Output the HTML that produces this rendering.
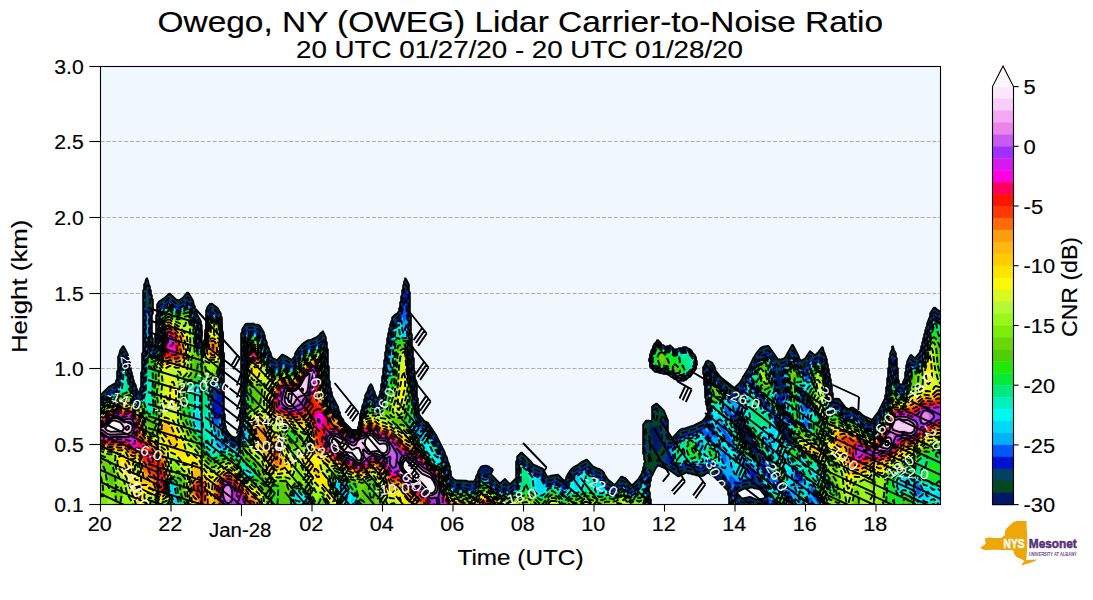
<!DOCTYPE html>
<html><head><meta charset="utf-8"><title>Owego Lidar CNR</title>
<style>html,body{margin:0;padding:0;background:#fff;overflow:hidden}svg{display:block}text{font-family:"Liberation Sans",sans-serif;fill:#000}.t text{stroke:#000;stroke-width:0.18px}</style></head><body>
<svg width="1093" height="600" viewBox="0 0 1093 600">
<rect width="1093" height="600" fill="#fff"/>
<rect x="100.5" y="66.5" width="840.0" height="438.0" fill="#f0f7ff"/>
<defs><clipPath id="axclip"><rect x="100.5" y="66.5" width="840.0" height="438.0"/></clipPath></defs>
<g clip-path="url(#axclip)">
<line x1="100.5" x2="940.5" y1="141.5" y2="141.5" stroke="#b0b0b0" stroke-width="1.1" stroke-dasharray="4.1 1.8"/>
<line x1="100.5" x2="940.5" y1="217.5" y2="217.5" stroke="#b0b0b0" stroke-width="1.1" stroke-dasharray="4.1 1.8"/>
<line x1="100.5" x2="940.5" y1="293.5" y2="293.5" stroke="#b0b0b0" stroke-width="1.1" stroke-dasharray="4.1 1.8"/>
<line x1="100.5" x2="940.5" y1="368.5" y2="368.5" stroke="#b0b0b0" stroke-width="1.1" stroke-dasharray="4.1 1.8"/>
<line x1="100.5" x2="940.5" y1="444.5" y2="444.5" stroke="#b0b0b0" stroke-width="1.1" stroke-dasharray="4.1 1.8"/>
<g id="field">
<defs>
<path id="c0" d="M146 279 147 278.1 148 280.5 149 285 150 286.5 150 289 151 290.5 151 294 152 295.5 152 298 153 299.5 153 313.5 152 315 152 337 153 338.5 153 345 154 346 155 345 155 334.5 156 333 156 315.5 157 314 157 304.5 159 301.4 164 298.3 169 293.6 170 293.6 176 299.3 179 300.3 183 297.4 187 292.6 188 292.6 189 293.6 193 300.5 194 305 195 306.5 195 309 197 312.5 197 314 201 321.5 201.1 330 202 331.2 202 333 202 335.8 201.1 337 201.1 341 202 342 203 342 204.9 339 205 330 205.9 329 206 310.5 207 309 207 307.6 210 303.8 212 303.6 217.6 308 221 313.6 221 316 222 317.5 222.2 331 223 332 223.1 333 223.2 352 224 353 224.1 354 224 413 225 414.5 225 425 226 426.5 226 429 229 433.4 232 436.3 235 437.4 236 437.3 237.4 436 240 432 240 410.5 241 409 241 333.5 242 332 242 329.5 243 327.6 245.5 324 247 323.5 254 323.6 255 324.3 258 324.6 260 325.8 264 332.5 264 334 265 335.5 265 338 267 342.5 267 345 269 348.5 269 350 271 353.5 271 355 272 357 273 358.2 277 360 282 354.6 283 354.6 287 356.6 291 359.3 292 359.3 294 357 295 355 295 353.5 298 348.6 303 343.4 307 340.6 312 339.3 316 337.3 319 335.2 320.5 333 323 331 326 337.5 326 341 327 342.5 327 348 328 349.5 328 365 329 366.5 329 380 330 381.5 330 387 331 388.5 331 391 332 392.5 332 395 338 406.5 339 411 340 412.3 340.1 415 341 416 341.1 417 343 419 344.2 422 352 429.9 357 429.9 357.8 429 357.9 427 358.8 426 358.9 422 359.8 421 360 414 360.9 413 361 410.4 362 409 362 406.5 364 402 364 399.5 365 398 365 395.5 368 390 368 388.5 370 384.6 371 384 372 385.5 373 387.5 373 389 375 392.5 375 394 377 397.3 378 398 379 397 379 395.5 380 394 380 391.5 381 390 381 384.5 382 383 382 376.5 383 375 383 368.5 384 367 384 360.5 385 359 385 352.5 386 351 386 345.5 387 344 387 338.5 388 337 388 333.5 389 332 389 328.5 390 327 390 324.5 391 323 391 321.5 392 320 392 317.6 394.5 315 397 313.4 399 311 399 308.5 400 307 400 302.5 401 301 401 296.5 402 295 402 290.5 403 289 403 285.5 404 284 404 281.5 405 280 405 278.1 406 278.7 409 284.5 409 291 410 292.5 410 315 411 316.5 411 333 412 334.5 412 346 413 347.5 413 357 414 358.5 414 370 415 371.5 415 378 417 382.5 417 397 418 398.5 418 407 419 408.5 419 414 421 418 424 421.3 426 421.6 428 422.8 436 434.6 445 452.5 445 454 447 457.5 448 462 449 463.5 449 465 450 466.5 450 470 451 471.5 451 476 454 479.3 457 480.4 466 480.5 469 481.4 474 481.2 476 478 476 476.5 478 473 478 471.5 481 466.8 483 465.7 486 465.5 489 466.6 492.5 469 493 470.2 491 474 499 482.4 500 483.1 505 478.8 510 484.1 516 478 516 461.5 517 460 517 456.6 521 452.6 522 452.6 530.6 461 533 464.3 543 468.8 547 476.2 549 476.4 551 475.6 558 474.6 564 480.3 565 480.2 566 479 566 477.5 568 473.6 570.4 470 573 467.4 577 465.3 582 461.6 586 459.6 587 459.6 593 466.3 597 468.3 599 468.6 602 470.4 604 472.6 605 475 608 479.4 614 484.3 615 484.3 616 483.4 621 476.8 622 476.5 626 478.4 630.8 485 633 484.3 638 479.4 642 473 642 471.5 643 470 643 467.5 644 466 644 463.5 645 462 645 461 644 459.5 644 455 643 453.5 643 424.6 646 420.6 649 420.5 651 421 652 420 652 406.6 652.5 406 656 403.6 657 403.6 664 410.6 668 420.5 668 433 669 434.5 669 438 670 439.2 671 439.3 680 429.6 682 428.6 685 428.3 694 425.3 702 421.3 705 418 708 412 708 411 707 409.5 707 406 706 404.5 706 399 705 397.5 704.9 386 704 384.8 703.9 375 703 374 703 373 703 367 704 366 706 361.4 708 360.4 712 362.4 715 367.5 715 369 716 371 724 381.4 734 388.1 739 383.4 742 379 743 376.6 748 369 753 358.5 756 353.6 760.5 348 763 346.6 768 345.8 769 346.4 778 359.2 780 359.4 784 358.3 785 357.4 792 344.8 793 344.8 799 356.5 799 358 801 360.3 802 360.3 805 358.4 810 351 815 355.1 818 352.4 822.1 347 823 347.7 824 352 825 353.5 825 355 826 356.5 826 358 827 359.5 827 363 828 364.5 828 368 829 369.5 829 373 830 374.5 830 378 831 379.5 831 383 832 384.5 832 392 833 393.5 833 398 834 399 836 398.5 839 398.8 845 406.6 847 410 851 407.6 853 407.6 860 412.4 867 419.3 870 421.3 871 421.3 878 412 885 398 885 395.5 886 394 886 387.5 887 386 887 378.5 888 377 888 368.5 889 367 889 358.5 890 357 890 353.5 892 349 892 346.7 893 346.1 894 350 896 353.5 896 357 897 358.5 897 367 898 368.5 898 379 899 380.5 899 383 900 384.2 901 384.4 902 384.2 903 383 903 381.5 905 378 905 372.5 906 371 906 365.5 907 364 907 361.5 910 355.6 911 354.8 915 358.1 920 352 920 350.5 921 349 921 346.5 922 345 922 342.5 923 341 923 338.5 924 337 924 334.5 925 333 925 330.5 926 329 926 327.5 927 326 927 323.5 930 316 930 313.5 933 308.6 934 307.6 935 307.6 941 312.3 944 312.4 944.5 326 944.7 408 944.4 508 944 508.4 935 508.5 873 508.6 765 508.1 734 508.5 729 508 729 496 728 494.5 728 491 715 477.6 708 472.9 706 473.7 704 475.4 701 476.5 699 475.7 696 475.4 695 474.7 692 474.4 691 473.7 688 473.4 687 472.7 686 472.7 679 476.4 678 476.4 670 470.7 659 465.7 658 465.7 656 468 651 478 651 480.5 650 482 650 486.5 649 488 649 491 650 492.5 650 498 651 499.5 651 504 652 505.5 652 508 646 508.5 98 508.6 97.4 508 97.2 429 98 395.3 100 395.3 108.5 387 115 383.2 116 382 116 380.5 117 379 117 371.5 118 370 118 356.5 119 355 120 350.5 123 346 124 346.6 128 354.5 128 357 129 358.5 129 361 130 362.5 130 366 131 367.5 131 371 132 372.5 132 375 133 376.5 133 379 134 380.5 134 382 136 385.5 136 387 138 391 139 392 140 391 140 388.5 141 387 141 372.5 142 371 142 353.5 143 352 143 290.5 144 289 144 284.5 145 283ZM657 340 658 340 659 341 661 343 661.1 344 662 344.9 663 345 666 346.9 667 346 669 345.9 670 345 675 349.9 676 349 678 348.9 679 348 682 347.9 683 347 686 347 689 348.9 690 349 692 351 692.1 352 695 355 695.1 356 696 357 696.2 360 697 361 697 365 696.2 366 696 369 690 377 689 377.1 686 380 685 380 684 381 678 381 675 379.1 674 379 672 377.1 671 377 669 375.1 668 375 667 374.1 663 374 662 373.1 659 373 658 372.1 655 372 650 367 649.8 362 649 361 648.9 360 649 359 649.8 358 650 354 650.9 353 651 351 652.9 348 653 346 653.9 345 654 344 656.9 341ZM750 487.7 749 488.4 744 488.7 738 491.8 737 493 741 497.4 743 498.4 750 496.8 756 499.3 759 499.4 764 498.2 765 497 765 496 760 489.8 757 488.7 754 488.4 753 487.7Z"/>
<path id="c1" d="M145.9 283 147 282.1 148.2 285 152.4 302 152.4 311 151.5 315 151.5 337 152.4 341 152.6 346 153 347.3 154 348.2 155 347.3 155.5 345 155.6 337 156.5 333 156.5 319 157.5 314 157.8 306 159.8 303 164.6 300 169 295.8 170 295.8 176 301.4 179 302.4 183 299.6 187 294.9 188.1 295 192 301.5 195 311.4 200.2 323 200.6 330 201.4 333 200.6 337 200.6 341 201 342.8 202 343.8 203.3 343 205 339 205 331.5 206 329 206.6 313 208 308.7 211 305.7 212 305.8 217 309.7 220 314.7 221.6 320 222.1 331 223 332.9 223.1 352 224 354.2 223.5 412 224.4 417 224.6 426 226 431.3 228.4 435 232 438.4 235 439.5 236.5 439 239 436.4 240.5 432 240.5 414 241.5 408 241.5 337 242.8 331 246 325.9 253 325.5 258 326.8 259.5 328 263.2 334 267 347.4 271.8 359 273 360.4 277 362.2 282 356.8 283 356.8 287 358.8 289 360.4 292 361.4 294 359.4 296.2 354 299 349.7 303 345.7 307 342.8 312 341.4 316 339.4 319.4 337 322 333.8 323 333.9 325.2 339 327.4 352 327.5 365 328.4 369 328.5 380 329.6 388 332 397.4 337 407.5 340.4 416 343 419.5 344.1 422 352 430 357 430 357.9 429 358 427.1 358.8 426 359 422.1 359.9 421 360 415.9 362.1 411 365.8 397 370 387.7 371 387 372 388.5 375 396.4 377 399.6 378 400.2 379 399.3 380 396.4 382.4 384 382.6 379 383.4 376 383.6 371 384.4 368 384.6 363 385.4 360 385.6 355 386.4 352 387.6 341 389.8 330 393 318.8 397 315.6 399.1 313 403.6 288 404.9 283 406 282 408.2 286 408.6 292 409.4 295 409.5 315 410.4 319 410.5 333 411.4 337 411.5 346 412.4 350 412.6 358 413.4 361 413.5 370 414.4 374 414.6 379 416.4 385 416.5 397 417.4 401 417.5 407 418.6 415 420.8 420 423.5 423 426 423.8 428 425.5 435.8 437 444.2 454 449.2 468 450.9 478 453.4 481 457 482.5 466 482.5 469 483.5 474 483.4 476 480.4 479 472.6 480 471.6 482 473 485 474 487 473.3 490 471.2 491 476.3 499 484.6 500.4 485 505 481.1 507 483.6 510 486.3 516 480.3 516.5 478 516.6 464 517.6 459 518 457.8 520 455.7 521 454.8 522 454.8 529.3 462 532.4 466 542 470.5 547 478.4 550 478.4 557 476.6 558 476.8 563.5 482 565 482.4 566 481.3 568.8 475 573 469.7 582 463.8 586 461.8 587 461.8 593 468.4 597 470.4 599 470.8 602 472.7 608 481.6 614 486.4 616 485.6 622 478.7 625 479.8 626 480.7 630 486.6 631 487.3 633 486.4 638.5 481 642 475.3 645.5 464 645.5 460 643.5 450 643.6 427 646 422.9 649 422.7 651 423.9 652 422.6 653 407.9 656 405.8 657 405.8 663.7 413 667.4 423 667.5 433 668.9 440 670 441.4 671 441.4 676 436.6 680 431.8 682 430.8 685 430.4 694 427.4 702 423.4 705 420.4 708 414.4 708.4 410 705.6 395 705.4 386 704.3 382 704.2 375 703.1 371 703.6 368 707 362.6 709 362.7 712 364.7 716 373.4 724 383.6 734 390.3 739 385.6 742 381.4 757 354.7 761 349.9 764 348.5 768 348 769 348.7 777 360.5 778 361.4 780 361.5 785 359.6 790 350.7 792 347.8 793 347.8 799 360.3 801 362.5 802 362.5 805 360.6 810 353.8 811 353.8 815 357.3 822 350 823.2 352 826.4 362 831.4 387 831.6 393 833 400.3 834 401.2 836 400.5 838.4 401 841 403.7 847 412.2 851 409.8 853 409.8 859 413.8 866.4 421 870 423.4 871 423.4 872.5 422 878 414.4 885.1 400 886.4 395 886.6 390 887.4 387 887.6 381 888.5 377 888.6 371 889.5 367 889.6 361 892 351.6 893 350.2 895.4 356 896.4 361 896.6 368 897.4 371 897.6 380 898.9 385 900 386.4 902 386.4 903 385.3 905.1 380 906.6 368 908 362.5 911 357.1 915 360.3 916.5 359 920 354.3 930.8 315 934 309.9 935 309.8 941 314.4 944 314.5 944.7 409 944.3 508 935 508.5 872 508.6 792 508.1 781 508.5 765 508.1 735 508.4 729.5 508 729.5 496 728.1 489 721.8 482 721.9 480 721 476.6 718 472.6 715 470.8 714.3 471 714.5 474 713 474.2 708 470.7 701 474.4 686 470.6 679 474.2 678 474.2 670 468.6 659 463.6 657.4 464 655.7 466 651 475.6 649.6 481 648.5 491 650.4 502 650.8 508 646 508.4 98 508.6 97.4 508 97.3 429 98 397.4 100.5 397 109 388.8 115 385.4 116 384.3 117.4 380 117.6 374 118.5 370 118.6 359 121 351.5 123 348.9 124 349.7 127.2 356 130.9 373 134 384.4 138 393.4 139 394.2 140 393.3 141.5 387 141.5 376 142.5 371 142.5 357 143.5 352 143.6 293 144.8 286ZM657 341 658 340.8 662 345.4 664 346.4 666 347.3 670 345.9 675 350.3 679 348.8 685 347.6 690 349.8 691.4 351 696 357.7 697 364 696.1 366 696 368.2 690.3 376 684 380.2 678 380.2 674 378.2 667 373.6 663 373.2 662 372.6 655 371.2 650.6 367 650 366.2 649.9 362 649 360 649.9 358 650 354.8 653.4 346ZM776 372.9 775.2 374 776.2 379 779 388.3 780 390.4 781 391.2 783.6 389 783.8 388 783 383.2 780 375.5 777.1 373ZM738 422.8 737.3 423 737.2 425 740.5 430 744.9 439 749.3 444 754.3 454 756 455.3 757 455 757 452.6 755.1 447 750.1 439 745 427.6 741 423.1ZM781 423.7 780.2 424 780.3 425 781.3 428 787.7 439 789 439.6 789.8 438 788 433ZM651 424.6 649.7 427 649.1 432 652.1 438 653 449.6 654 453.6 655 454 660 449.7 661.5 447 661.8 445 660.6 441 659.7 431 658.4 426 658 425.3 657 425.4 655 426.7 654 426.7ZM750 485.6 748 486.5 744 486.6 738 489.6 737 490.7 736.6 493 737.5 496 742 500.4 745 500.4 750 499 756 501.4 760 501.6 762 502.5 763 502 763.2 501 765 499.3 765.4 498 765.4 495 764.5 493 760 487.6 753 485.6Z"/>
<path id="c2" d="M405.9 285 407.3 287 408.6 296 408.7 315 409.6 321 409.7 333 410.6 338 410.7 347 411.6 351 411.7 358 412.6 362 412.7 371 413.6 375 413.8 380 415.6 386 415.7 398 416.6 402 416.7 408 418 416.8 421 423 423 425 427 426.7 435 438.3 443.4 455 448.4 469 450.1 479 451 481 453 483 456 484.5 465 484.6 468 485.5 474 485.5 475 484.9 476 483.2 480 473.6 485 475.2 489 474 491 479 499 487 500 487.4 501 487 505 483.7 508 487 510 488.4 515 484 516.9 481 517.4 465 519 459.1 521 457.9 522 458.2 525 461.7 529 464.1 532 468 542 472.7 546.2 480 547 480.5 550 480.5 557 478.7 564 484.5 566 483.9 569 477.3 571.2 474 574 471.1 583 465.6 586 464.2 587 464.2 592 470 601 474.1 603 476.3 607 483 613 488 614 488.5 616 488 622 480.9 625 482.1 629 488 631 489.4 634 488 639 483 642.5 477 645 469.2 646 468.3 650.8 471 651 472 648.8 480 647.7 488 647.7 492 649.6 503 649.8 508 642 508.5 439 508.7 355 508.2 98 508.5 97.5 508 97.3 428 98 399.5 101 399 109 391.1 115.9 387 116.5 386 118.3 380 118.4 375 119.3 371 119.4 360 121.7 353 123 351.4 124 352.3 126.3 357 132 381.8 135.4 391 138 395.9 139 396.4 140.5 395 142.3 388 142.4 377 143.3 371 143.4 358 144.3 353 144.7 295 146 286.3 147 285.6 148 288 150.4 299 150.5 301 149.3 306 149.5 307 151 308.2 151.5 310 150.7 315 150.7 338 152 347.8 153 349.9 154 350.4 155.5 349 156.3 346 156.4 338 157.3 333 157.4 320 158.3 315 158.7 307 160 305.1 165 302 169 298.2 170 298.2 175 303 178 304.5 179 304.5 183 302 187 297.5 188 297.5 191.3 303 194.4 313 199.4 324 200.2 333 199.8 342 200.8 345 202 345.6 203.7 344 205 340.8 205.3 333 206.2 329 207.4 314 208.4 311 211 307.9 215 310.1 217 312.3 221 321 222.9 335 222.9 352 223.8 358 222.7 372 222.6 411 223.6 418 223.8 427 225.5 433 228 437 231 440 235 441.6 237 441 239 439 240.6 436 241.3 433 241.4 415 242.3 409 242.4 338 243.7 332 246 328.4 247 327.7 253 327.7 257 328.7 259 329.7 262.3 335 266.1 348 271 360.2 272.1 362 277 364.4 278 363.9 282 359.2 284 359.6 291 363.5 293 363 294.6 361 297 355.3 299 352.3 304 347.1 307.3 345 312 343.5 317 341 320 338.9 322 336.3 322.8 337 324.3 340 326.6 353 326.7 365 327.6 370 327.7 381 328.8 389 331.1 398 340 416.6 345 423.8 352 430.7 357 430.7 358.9 426 360.3 417 363 411.3 366.7 398 370 390.4 371 389.7 375 399.2 377 402 378 402.4 379 401.9 380 399.8 382.2 392 386.4 356 390.6 331 394 320.1 398 317 399.9 314 404.4 289ZM933.7 313 935 312.2 941 316.5 944 316.6 944.7 415 944 508.3 830 508.5 766.7 508 766.7 506 765 503 766.3 497 766 493.2 765 491 760 485.5 752 483.4 750 483.5 748 484.3 744 484.5 737 488.1 735.7 492 736.5 497 740 501 742 502.5 745 502.5 750 501.2 756 503.5 761 503.6 763.9 506 763.9 508 735 508.4 730.3 508 730.3 495 728.5 487 724.2 482 722 476 720.1 473 713 467.4 712 467.1 711.3 468 711 470.2 708 468.6 701 472.3 687 468.5 678 471.8 670 466.4 662 462.5 657.4 461 658 459.2 661 456.3 664 452 665 447.1 665 443.6 662.8 441 662.1 439 660.2 423 660.6 420 663 415.3 665.4 420 666.6 424 666.4 435 668.4 442 670 443.5 671 443.5 673 442 680 434.1 683 432.7 685 432.5 696 428.6 703 425 706 421.2 708.9 415 709.3 412 706.4 394 706.3 386 705.1 381 704.9 374 704 371 704.4 369 707 365 708 364.6 709 365 712 367.3 715 374.2 718 379 724 386 726.9 388 727.1 391 729 394.3 729.7 394 730 390.4 734 392.4 735 392 740 387 748.6 373 755 360.3 761 352.4 764 350.7 768 350.3 769 351.3 775 360.1 778 366.7 779 366 779 363.9 784 362.5 786 361 790 353.3 792 350.5 793 350.5 799 363 802 368 804 369.8 804.5 369 804.2 364 810 356.2 811 356.2 815 359.4 817 358 821 353.1 822 352.7 825.4 362 830.6 388 830.7 393 831.8 400 833 402.9 834 403.4 836 402.7 838 402.8 843.8 410 846.2 414 847 414.4 851 412.1 853 412.1 859 416.1 866 423 870 425.5 872 425 878.6 416 885.9 401 887.2 396 887.4 391 888.3 387 889.4 372 890.3 368 890.4 362 892 355.1 893 353.7 894.3 356 895.4 361 895.7 368 896.6 372 896.7 380 898.1 386 899.2 388 902 388.5 903.5 387 905.9 381 907.6 368 910 361.2 911 359.7 914 362 915 362.4 916 362 920.5 356 931.7 316ZM657.5 342 658 341.8 659 342.6 662 346.4 666 348.3 670 346.9 675 351.3 679 349.7 685 348.5 691 351.6 695 357 696.7 363 695.3 368 690 375.3 684 379.2 678 379.2 674 377.3 667 372.6 663 372.3 662 371.6 655 370.3 651.6 367 650.7 366 650.1 364 649.6 360 650.2 356 654 346ZM775 371.5 774.4 372 774.1 374 777.8 388 778.7 391 780.5 394 782 394.2 784.7 390 784.8 387 784.1 384 781 375.2 779 371.6ZM803 394.9 803.5 399 805 402 807 403.4 807.4 403 807.4 401 805.4 396 804 394.7ZM779 403.1 778.9 405 780 408.3 784 414 785 414.2 785 413 783.8 410 780.8 404 780 403.1ZM655.1 409 656 408.3 657 408.5 657.8 412 656.9 418 656 420.1 655 421 654 420.2 653.6 414 653.9 410ZM739 418.5 737.2 420 735 420.3 734.6 421 734.5 422 735.9 425 739.5 430 744.1 439 750.1 447 753.3 454 754.9 456 756.2 459 759 460.9 760 461 760.2 459 759.7 457 755.9 447 751 439 745.8 427 741 419.9 740 418.7ZM779 421.8 779.2 425 782 431 786.6 439 788 440.3 790 441 790.7 440 790.6 438 788.7 433 782.7 424 780 421.8ZM644.9 428 645.6 429 646.5 434 649.3 437 650.2 439 650 451.3 649 456.9 648 455 646 454 644.5 450ZM649.2 457 650 456.8 651 459.3 651.4 461 651 462.8 650 462.9 649 461.1ZM788 496.5 787.7 499 788.8 502 790.9 505 792 505.5 792.2 504 791.2 501 789 497.2Z"/>
<path id="c3" d="M405.6 289 406 288.1 407.7 297 407.8 316 408.8 321 408.9 334 409.8 339 409.9 348 411.8 363 411.9 372 413.1 381 414.8 387 414.9 399 415.8 403 415.9 409 417.1 417 418 419.9 420.8 425 423 427.2 427 429.1 435 441 442.5 456 445 462 447.6 470 450 481.9 452.8 485 456 486.6 465 486.7 468 487.6 474 487.6 476 485.9 480.1 476 481 474.9 485 476.1 488 475.6 488.6 476 490.8 481 499 489.2 500 489.5 501 489.2 504 486.4 505 486.3 509 490.2 510 490.5 511 490.2 516 485.3 517.3 483 518.1 479 518.2 466 519.6 461 521 460.3 528.7 466 532 470.2 540 473.7 541.8 475 546 482.2 550 482.6 557 480.9 564 486.6 566 486.2 566.9 485 569.5 479 574 473.3 586 466.3 587 466.4 588 467.3 592 472.2 601 476.3 607 485.3 613 490.2 614 490.6 616 490.2 621 484.3 622 483.3 623 483.3 625 484.4 629 490.3 631 491.5 634 490.2 639.9 484 643 478.9 646 470.9 648 473 648.8 475 647 485.4 646.8 490 648.9 508 642 508.5 439 508.7 355 508.2 139 508.6 98 508.5 97.5 508 97.3 428 98 401.6 101 401.2 109 393.3 116 389.2 117 387.9 119.1 381 119.2 376 120.1 371 120.4 360 122 355.2 123 353.8 125.8 359 131.3 383 135 392.9 138 398.2 139 398.5 140 398.2 141 396.9 143 389.6 143.2 377 144.1 372 144.2 358 145.2 352 145.2 313 146 308.6 150.1 311 149.9 339 151.3 349 152.1 351 154 352.5 156 350.9 157.1 347 157.2 339 158.1 334 158.2 320 159.1 316 159.3 309 160 307.4 165 304.2 169 300.4 170 300.4 175 305.2 179 306.6 183 304.2 187 300.2 188 300.3 190.9 305 194 314.9 198.5 325 199.1 333 199 343 200 346.4 201 347.3 203 346.6 205.4 341 205.7 333 208 319.4 208.2 315 209 312.5 211 310.3 212 310.4 215 312.3 216.5 314 220.6 322 222.6 335 222.6 352 223.4 356 223.4 360 221.9 371 221.7 394 221.1 407 222.7 419 223 427.6 225 434.9 228 439.3 231 442.2 234 443.6 236 443.6 238 442.3 240 439.9 242.1 434 242.2 416 243.2 409 243.2 339 244.6 333 247 329.8 253 329.8 257 330.8 259 332.1 261.9 337 265.7 350 271 362.9 272 364.2 277 366.5 278 366.2 281 362.3 283 361.3 290 365.2 292 365.6 293 365.2 295 362.9 297.6 357 300 353.3 304 349.3 308 346.8 313 345.2 317 343.2 320 341.2 322 338.8 323.5 341 324.8 347 325.8 354 325.9 366 326.8 371 326.9 382 328.1 390 331 400.9 337.2 413 344.6 424 352 431.4 357 431.3 358.9 427 360.7 417 363.6 412 367.2 400 370 393.5 371 392.8 375 401.9 377 404.2 378 404.5 379 404.2 380.7 401 383 392.6 387.2 357 391.4 332 394.5 322 399 318.3 400.7 315ZM934.2 315 935 314.6 941 318.6 944 318.7 944.7 415 944 508.2 830 508.5 794.1 508 793.4 504 789.6 496 788 494.5 787 494.3 786.5 495 786.9 499 790.4 506 790.4 508 781 508.4 768.4 508 768.4 506 766.2 503 767.2 496 766 490.1 761.1 484 759.7 483 755.6 476 754 474.9 754 476.2 756 481 755.8 482 751 481.3 748 482.2 744 482.4 737 485.8 736 487.1 735.1 490 735.1 496 736.8 500 741 504.2 745 504.6 747 503.8 750 503.4 756 505.7 762 505.9 762.1 508 731.2 508 731.1 494 729 485.1 724.7 480 721.2 473 714.6 467 712 465.6 710 465.6 701 470.1 686 466.4 680 469.3 678 469.7 666.7 462 666.5 460 667.3 456 666.5 448 667 444.1 668 444.2 670 445.6 672 445.2 681 435.7 695 431.2 703 427.2 705.9 424 709 417.9 710.1 414 710.1 409 707.2 393 707.1 385 705.9 380 705.8 374 705.2 371 707 367.5 708 366.7 711 368.4 715 376.9 717.1 380 723 387.3 725.3 389 728 394.9 730 397.1 730.9 397 732 393.6 734 394.5 735 394.2 741.4 388 749 374.9 755.5 362 761.8 354 764 352.8 768 352.6 775.5 364 776.3 368 775.9 369 773.8 370 773.3 371 773.4 374 777.9 391 780 395.3 782 396.8 785.4 392 785.8 390 785.5 387 781.5 373 780.9 366 786 363.3 792 353.2 793 353.3 794 355 798.8 365 803 371 806 373.6 806 365.3 810 358.5 811 358.4 815 361.5 818 359.3 821 355.5 822 355.7 824.6 363 829.6 388 831.1 401 832.1 404 834 405.5 836 404.8 838 405.2 843 411.3 846 416.2 847 416.5 851 414.2 852 413.9 853 414.2 859 418.3 866 425.2 870 427.6 872 427.2 879 417.9 886.7 402 887.9 397 889.1 388 890.2 373 891.1 369 891.2 363 892.8 357 893 356.7 893.6 358 894.8 363 894.9 369 895.8 373 895.9 381 897.3 387 899 390.2 902 390.6 904 388.9 906.7 382 908.4 369 910 364 911 362.4 912 362.4 914 364.2 915 364.5 916 364.2 921 357.9 929.4 327 932.2 318ZM657.8 343 659.4 344 662 347.3 666 349.2 670 347.9 675 352.2 679 350.7 685 349.5 691 352.6 694.9 358 696.2 363 695 367.3 690 374.2 684 378.3 679 378.5 674 376.3 667 371.7 664 371.5 656 369.5 654 368.4 651 365.3 650.5 364 650.1 360 650.4 357 654.1 347ZM214 389.6 213 391 212.7 395 214 400.4 215 402.4 216 401.8 217 395 216 391.5 215 390ZM802 392.6 801.6 394 802.6 399 805.9 405 808 405.7 808.8 405 808.8 404 806.3 396 804 392.9ZM760 396.3 760.6 399 762 401.6 764 403.3 763.8 401 761.9 398ZM778 400.8 778.1 405 780.6 411 787 418.9 788 419.2 787.5 416 781.8 404 780 400.9 779 400.4ZM738 414.8 736 417.9 733 418.1 732.6 419 733.4 422 735 425 740.6 433 743.5 439 749.4 447 755.2 459 759.6 464 760 465.2 762 466.4 763 466.1 762.5 461 761.2 456 755 444 751.7 439 745 424 740 416.1ZM778 419.8 777.3 421 778.4 425 785.8 439 788.7 442 791 442.2 791.6 441 790.7 436 787.6 430 781.2 421ZM662.5 421 663 420.3 664 420.4 665.4 424 665 427 664 427.7 663 427 662.2 424ZM750 469.6 749.2 470 749.4 471 751 472.2 751 470.9Z"/>
<path id="c4" d="M405.8 299 406 298 406.9 316 408.1 322 408.2 335 409.1 340 409.2 348 411.1 364 411.2 372 412.3 381 413.9 387 414.2 399 417 420 420 426.1 423 429.1 425 429.7 427 431.2 434.9 443 441.9 457 444.7 464 446.7 470 449 482 450 484.1 452.8 487 456 488.5 465 488.6 468 489.5 474 489.5 476 488.1 480.8 477 482 476.2 485 477.1 488 477.2 490 482.1 499 491.1 501 491.1 504 488.5 505 488.4 509 492.1 511 492.1 516.2 487 518 484 518.9 479 519 466 520 462.6 521 461.7 527.7 467 532 472.1 541 476.2 546 484.1 550 484.5 557 482.8 564 488.5 566 488.1 567 487.1 569.7 481 574 475.3 583 469.6 586 468.3 587.6 469 592 474.1 601 478.3 606.8 487 613 492.1 614 492.5 616 492.1 621 486.3 623 485.3 625 486.5 629 492.2 631 493.4 634.2 492 640 486.1 643.6 480 646 473.9 647.3 477 646.2 486 646.1 492 648.2 508 642 508.5 439 508.7 355 508.1 139 508.5 98 508.4 97.6 508 97.3 428 98 403.5 101 403.1 109 395.3 116 391.1 117 390 119.7 382 120.9 371 121.1 361 123 356.1 125.5 361 131 385 134 393 137 399.1 138 400.1 140 400.1 141 399.1 142 397 143.8 389 143.9 378 144.9 372 144.9 359 145.9 353 145.9 316 146.2 313 147 311.7 148.4 312 148.9 313 149.1 338 150.3 348 152 353.1 154 354.4 156 353.1 157.7 348 157.9 340 158.9 334 158.9 321 159.8 316 160.1 310 161 308.6 165 306.1 169 302.5 170 302.5 175 307.1 178 308.5 180 308.1 183 306.1 187 302.5 188 302.8 189.7 305 191.7 310 193 315 197.9 326 198.2 343 199.1 347 200 348.5 201 349.1 202 348.8 204 346.6 205.8 341 206 333 209.5 314 211 312.4 212 312.4 216 315.4 219.5 321 220.9 325 222.3 336 222.3 352 223 356 222.9 363 221.2 371 221.1 388 220.5 393 220 394 219 393.7 215.2 388 214 387.3 213 388 212 390.3 211.8 396 214.9 417 215.7 419 216 419.6 217 419.2 220 414.9 221 416 222 420 222.3 428 224.4 436 227 440.1 230 443.2 233 445.2 235 445.6 237 445.1 240 442.1 242 438 242.8 434 242.9 416 243.9 409 243.9 339 245 334.6 247 331.9 253 331.7 257 332.7 258.7 334 261.7 339 265 351 270 363.3 272 366.1 277 368.4 278.1 368 281 364.3 283 363.3 290 367.2 292 367.5 293 367.1 295 365.1 298 358.5 300 355.5 304 351.3 308 348.7 313 347.2 317 345.1 322 341.1 323 342.6 323.8 346 325.1 355 325.1 366 326.1 372 326.3 383 327.3 390 330 401 336 412.5 341 419.7 342.5 421 344 424 352 432 357 432 357.9 431 359 427.9 360.8 418 364.8 411 368.1 400 370 396.6 371 396 371.8 397 375 404.1 377 406.1 379 406.1 381 403 383.7 393 388.1 357 392.3 332 395 323.4 399 320.2 401 317.1 404 304.1ZM934.4 317 935 316.6 941 320.5 944 320.6 944.2 324 944.6 416 944 508.2 830 508.5 814.4 508 814.4 506 813.4 504 811 500.8 810.8 502 812.7 506 812.7 508 804.4 508 804.4 506 803 504.8 802 505 802.1 508 795 508 795 506 790.6 496 788.5 493 786 492.1 785 492.9 784.9 494 786.3 499 789.5 506 789.5 508 781 508.4 773 508 773 506 772 504.3 771.5 505 770 505.3 767.5 503 768.1 496 767 490 766 487.9 759.2 480 755.6 473 750.3 467 747 464.4 745.9 465 746.4 468 749.5 474 751.8 476 753 478 752.9 479 748 480.2 744 480.5 738 483.3 735 482.5 734.5 483 735.1 486 733.7 492 734.2 496 736 501.1 740.6 506 740.6 508 731.9 508 732.2 494 730.1 485 729 482.8 725.5 479 722.4 473 720 470 712 464.3 710 463.6 709 463.5 703 467.2 700 467.7 686 464.5 680 467.4 678 467.7 671.4 463 670.5 457 668 450 668 447.1 670 447.5 672 447.1 681 437.6 695 433.2 703 429.2 706.8 425 710 418.1 710.7 415 710.9 410 708 393 707.7 384 706.7 379 706.3 371 707 369.6 708 368.6 711 370.5 714 377.3 717 382.1 726 392 729.6 399 732 399.5 732.7 399 733.4 397 735 396.2 740 391.3 741 390.7 743 392.2 744.2 392 744.1 385 747.5 380 756.3 363 762 355.8 764 354.7 768 354.8 774.4 364 774.8 367 774.4 368 772.9 369 772.4 371 775.3 385 779 396 779 397.2 777 400 777.5 405 781.7 414 785.5 419 788.9 422 790 422 790.1 421 789.2 418 784.1 408 781.7 402 781.5 400 783.4 399 784 397.9 784.6 396 786 394 786.6 391 786.2 387 783.7 379 781.8 368 783 366.7 785 366.1 787 364.1 790.7 357 792 355.5 793 355.8 793.9 357 798 366.1 801.7 370 804.1 374 807 376.8 807.8 375 807.2 367 808.4 363 810 360.8 811 360.5 815 363.4 817 362.2 821 358 822 358.6 824 364 829 389 830.3 401 832 406.1 834 407.4 836 406.7 838 407.3 842.7 413 846 418.1 848 418.1 852 415.8 853 416.2 859 420.3 866 427.1 870 429.5 872 429.1 879 420.1 887 404 888.7 397 891.8 369 891.9 364 893 360.7 894.1 364 895.3 382 897 389 899 392.1 902 392.5 904 391.1 907 384 909 370 910.2 366 911 364.8 912 364.5 914 366.1 916 366.1 921 360.1 922 358 930.3 327 933 318.6ZM657.7 344 659 344.4 662 348.1 666 350.1 670 348.8 675 353.1 684 350.2 686 350.5 690 352.6 694.3 358 695.8 363 695 366.3 690 373.4 684 377.4 679 377.8 674 375.4 667 370.9 664 370.8 662 369.9 656 368.8 654 367.6 650.9 364 650.4 360 650.8 357 654.1 348 655 346.5ZM751 383.8 750.9 385 752.4 388 756.5 393 761.2 402 764 405.5 766 406.3 766.5 406 766.4 404 765 401 761.8 396 757.5 392 752.3 384ZM802 390.7 801 391.1 800.7 394 802.9 402 805 406.1 807 407.5 809 407.2 809.8 406 809.6 404 806.9 396 805 392.8ZM737 411.7 735 416 731 415.2 730.7 417 732.7 422 734.2 425 740.1 433 742.9 439 748.8 447 754.5 459 758.4 464 758.6 465 760.7 467 761 468 763.7 470 769 477 769 473.9 765 465.2 762.6 456 759.1 451 752.4 439 747.2 427 741 415.7 739 412.5 738 411.7ZM775 417.6 775.1 419 779.1 428 786 440.6 788 442.7 791 443.2 792 442.8 792.4 441 791.2 436 788.2 430 784.3 424 782 420.7 778.3 418 776 417.2ZM709 424.6 709.1 428 710.4 431 713 433.9 714 433.8 713.4 430 712.1 427 710 424.6ZM708 435.2 707.4 436 709.3 439 710.1 438 709.3 437 709.4 436ZM796 471.2 796.3 474 797.6 478 799 479.6 801.1 480 801.6 478 801.1 476 799 472.8 797 471.3ZM797 479.9 796 480.2 795.9 481 797 482.4 798.1 481ZM775 482.7 774.4 483 774 485 776 487.5 777 488 778 487.7 778.7 486 778 484 777 483.1ZM814 491.4 813.6 492 814.1 494 815.6 496 816.6 499 819 501.1 819.4 499 818.3 496 816.1 493ZM747.2 506 750 505.5 751 505.9 751.1 508 747.2 508Z"/>
<path id="c5" d="M168.7 304 170 303.7 175 308.3 178 309.7 180 309.3 187 303.8 188 304.2 189.4 306 193 316.8 197.5 327 197.8 344 199 348.5 200.3 350 202 349.8 204 347.5 206 341.7 206.2 334 207.3 326 210 314.7 211 313.7 212 313.7 214.3 315 219.6 322 220.7 325 221.9 335 222 352.2 222.9 357 222.6 364 220.7 371 220.4 389 220 390.6 219 390.8 215 385.9 214 385.6 213 386 211.2 390 210.9 396 213.6 419 215 425.1 216 426.8 217 426.3 219.8 420 221 419.5 221.9 429 224 436.9 227.5 442 230.5 445 233 446.4 235 446.7 237 446.3 240 443.5 242.3 439 243.4 435 243.4 417 244.4 409 244.4 340 245.2 336 247 333.2 248 332.8 253 332.8 258 334.5 261.4 340 264.7 352 270 364.9 272 367.3 277 369.6 279 368.5 281.7 365 283 364.5 290 368.4 293 368.3 295.3 366 298 360 300.7 356 304 352.6 308 349.8 313 348.4 317 346.3 322 342.6 323.4 347 324.6 355 324.6 366 325.6 372 325.8 383 327 391.5 330 402.8 334 410.5 342 421 344 424.5 352 432.4 357 432.4 358 431.4 359.1 428 361.1 418 366 409.7 368.5 401 370 398.1 371 397.4 374 403.9 377 407.3 379 407.3 381 404.8 384.1 394 389.5 351 393.4 330 395 325 400 320.5 402 316.6 403 317 404 323.4 406 318.4 407.4 322 407.6 335 408.6 340 408.8 349 410.6 364 410.8 373 412 382.5 413.6 388 413.8 400 414.6 404 414.8 410 416.7 421 420 427.7 423 430.4 425 430.8 426.5 432 434.6 444 441.6 458 444.4 465 446.4 471 449 483.8 452.5 488 456 489.7 465 489.7 469 490.7 475 490.3 477 487.9 481 478.3 482 477.3 485 478.2 487 478 490 483.5 499 492.3 501 492.3 504 489.7 505 489.7 509 493.3 511 493.3 517 487.5 518.3 485 519.3 480 519.4 467 521 462.9 522 463.2 526.4 467 532 473.3 541 477.5 544.7 484 546 485.3 550 485.7 557 484 563 489.4 565 489.8 567 488.5 570 482 574 476.6 583 470.8 586 469.5 587 469.7 592 475.3 601 479.6 606.5 488 608.5 490 614 493.7 616.5 493 621 487.6 623 486.5 625 487.9 629 493.5 631 494.6 632 494.4 635 492.5 640 487.5 645 478.6 646 478.5 645.7 493 647.7 508 642 508.4 491 508.6 355 508 243 508.6 177 508.1 98 508.4 97.6 508 97.4 429 98 404.7 101 404.3 109 396.6 116 392.3 118 389.8 120.3 382 121.4 372 121.4 362 123 357.9 124.8 361 130 383.6 134 394.8 137.6 401 139 401.6 141 400.5 142.3 398 144.3 389 144.4 378 145.4 372 145.4 359 146.4 353 146.7 315 147 313.9 148 313.9 148.5 316 148.5 338 149.9 349 151.7 354 154 355.6 156.3 354 158.1 349 158.4 340 159.3 335 159.4 321 160.2 317 160.5 311 161 309.9 165.5 307ZM934.9 318 940 321.3 944 321.7 944.2 325 944.6 416 944 508.1 830 508.4 816.7 508 816.7 506 813.7 502 811.6 498 809 497.2 808.5 499 811.4 506 811.4 508 805.7 508 805.7 506 804 504 801 502.6 800.5 505 800.9 508 795.8 508 795.8 506 792.6 499 790.4 492 787 490.2 782.4 489 779 482.4 777 479.7 776 479.1 773.4 479 772 477.6 769.8 471 769.5 467 768.2 464 766.3 462 763.7 456 758 448 753.1 439 746.4 424 742.4 417 739.2 408 738 407.2 735.7 408 734.8 413 734 414.3 733 414.5 731.9 414 726.1 407 725 406.8 724.4 408 725.4 411 727.2 414 729.1 416 733.5 425 739.5 433 742.4 439 748.2 447 752.8 456 753.8 459 757.6 465 759.5 467 759.7 468 764.9 473 768.2 479 770.8 481 774.5 488 777 489.5 780.8 490 783 492.5 788 504 788.7 506 788.7 508 774.5 508 773.9 504 772.3 501 770 499 769.1 497 768 491.5 766.3 487 759.4 479 757.2 473 755.2 470 749.1 464 744 461.1 743.2 462 744.2 465 747.7 474 749.3 476 749.7 478 748 478.1 738 481.6 734.5 479 732 475.9 730 475.2 728.8 476 728.6 477 729.5 480 729 480.4 727.6 479 726.2 476 721 469 713.3 464 709 461.9 707.4 462 706.2 464 703 466.1 701 465.7 698 466.3 686 463.3 680 466.2 678 466.5 673 463 672 455.8 669.8 451 669.8 449 672 448.4 673 447.5 681 438.8 695 434.4 702 430.9 703.5 432 704.1 434 707.2 439 711 442.6 712 443 712.6 442 712.7 441 711.8 439 712 436.5 713 436.4 716 438.3 716.4 438 716.7 436 714.4 430 711.3 424 709.4 422 711.3 416 711.4 410 708.4 392 708.3 384 707.3 379 707 372 708 370 710 370.7 711 371.9 714 378.9 717 383.5 722.5 390 725.9 393 728.1 399 732 402.2 734.6 402 736 397 740 392.6 741 392.2 744 394.5 745.5 394 745.8 392 744.8 386 747 382.6 748.3 383 753.4 391 757.5 396 762.4 405 768 409.7 772.3 416 786 442.5 788 443.7 792 444.1 793 443.4 793.1 441 790.3 433 783 420.4 780.6 418 774.1 414 767.7 405 762.6 396 757.8 391 753.7 384 749.1 379 756 365 762 357.1 764 355.8 768 356.2 773.8 365 773.7 366 772 368.3 771.7 371 773.5 382 777.4 393 777.5 395 776 399 776.1 402 778.1 408 781 414.2 784.1 419 788 422.7 790 423.7 791 423.6 791.2 423 791.1 421 789.1 416 784.7 408 783.1 403 783.4 401 785.4 399 787.2 394 787.4 392 786.8 387 784.3 378 783 368 785 367.3 786.5 366 791 358 792 356.8 793 357.2 798 367.5 801 370.3 806.3 379 808 379.9 808.9 378 808.2 370 809.4 363 811 361.8 814 364.3 816 364.3 821 359.4 822 360.2 823.4 364 828.4 389 830 402.5 832 407.5 834 408.6 836 407.8 838 408.6 846 419.3 848 419.3 852 417 853 417.4 859 421.6 866 428.3 869 430.3 872 430.3 874 428.5 879.3 421 887.3 405 889.2 397 893 363 893.6 370 894.6 374 894.8 382 896.7 390 899 393.3 902 393.7 904.3 392 907.3 385 909.6 370 911 366.2 912 365.8 914 367.3 916 367.3 918 365.5 922 359.8 930.6 328 933.2 320ZM657.2 345 658 344.4 660 346.2 661 348.1 666 350.7 670 349.4 675 353.7 684 350.8 686 351.2 690 353.2 694.5 359 695.3 362 695 365.1 693 368.8 690 372.7 686 375.8 683 377.2 680 377.2 678 376.8 674 374.8 667 370.3 664 370.2 655 367.8 651.3 364 650.8 360 651.7 355 654.5 348ZM801 389.2 800.1 390 799.9 392 801.4 402 803.5 408 805 411.1 806 412 807 411.3 807.5 410 811 408.2 811 407 807.4 396 805.9 393 803.4 390ZM805 419.9 804.1 422 804.8 425 807 426.8 807.9 426 808 423.8 807 420.8 806 419.8ZM719 424.9 719.3 428 723.6 433 726 439 729.4 445 732 447.9 733 447.7 732.9 444 729.5 436 725.3 431 722 425.6 721 424.6 720 424.4ZM706.5 427 707 426.4 707.9 427 708.8 431 708 431.9 705.7 431 705 429.5ZM765 440.7 764.4 442 765.8 445 767.9 447 768.1 448 770 449 770 447.7 768 444ZM221 443 220.5 444 220.8 445 222 446.5 223.3 447 224 446 223.2 444 222 443ZM725 452.8 723.2 454 722 454 721.3 455 723 459.5 725 462.3 726 462.6 726.5 461 726 456ZM795 468.4 794.2 469 794.9 474 793.7 477 793.9 480 794.6 482 796.9 485 799 486.1 800 486.1 801 483 803.1 482 803.4 481 802.8 478 800.4 473 797.7 470ZM731.5 484 732.1 484 733.7 487 733 488.5 731.4 485ZM917 484.5 915.8 487 915.9 491 917 493.9 918 494.8 919 494.8 920.4 493 920.5 489 919 485.3 918 484.4ZM812 486.9 811 487.1 810.3 489 811.1 494 812.8 497 816.2 501 817 502.8 818 503.8 819 503.8 820 503.3 820.8 502 819.1 496 815 490ZM793 489.6 790.6 491 793 493 793 494 795 495.1 796 495 795 491.8 794 490ZM732.8 497 733 496.3 735.7 502 739.3 506 739.3 508 732.4 508Z"/>
<path id="c6" d="M168.7 305 170 304.7 174.6 309 178 310.5 180 310.3 187 304.8 189 306.6 192.5 317 196.9 327 197.4 344 198.3 348 200 350.8 201 351.1 203 349.6 204.1 348 206 342.5 206.4 334 207.5 326 209.4 320 210 316 210.7 315 212 314.7 215 316.5 219.3 322 220.1 324 221.8 336 221.9 353 222.7 358 222.3 364 220.4 371 220 387.5 219 388.8 215 384.5 213 384.5 211.8 386 210.6 389 210 395 212.7 421 215.7 435 216.6 443 218.5 446 223 449.4 224 449.6 225.5 449 226 448 226 446 224 441 220.1 438 218.8 436 218.5 431 220 424.7 221 426.1 221.6 431 223.6 438 225.4 441 230 445.5 234 447.5 237 447.3 240.4 444 243.4 438 245.2 431 244 423.1 243.8 418 244.8 409 244.8 340 245.4 337 247 334.3 248 333.7 252 333.6 257 334.7 258 335.5 260.8 340 264.2 352 270 366 272 368.3 277 370.5 279 369.5 281 366.6 283 365.4 290 369.3 293 369.3 296 366 298.7 360 300.7 357 304 353.6 308 350.8 313 349.3 322 343.9 324.1 355 324.2 366 325.2 373 325.3 383 326.7 392 329.5 403 333.7 411 342 421.3 344.1 425 352 432.7 357 432.7 358 431.9 359.3 428 361.3 418 366 411 368.6 402 370 399.3 371 398.6 374 405 377 408.3 379 408.3 381.5 405 384.3 395 387 374 388 371 388.6 372 390 372.7 390.9 371 390.9 367 390 363.5 389.3 364 389 365.8 389 360.4 394 330 395.8 325 401 320.6 401.7 322 402 327.7 403 332.5 404 332.9 406 326.3 406.8 329 407.2 336 408.1 340 409.3 360 410.2 365 410.3 373 411.7 383 413.1 388 413.3 399 414.3 410 415.6 419 417.2 424 417 425 415 425.5 414 426.4 413.7 429 417 434.2 420 436.3 421 435.8 421.2 435 421 430.9 425 431.7 426 432.4 433.3 443 441 458.1 443.8 465 446.1 472 448.5 484 450 486.5 452 488.5 456 490.5 465 490.6 468 491.5 474 491.5 476 490.5 477 489 481 480 482 478.9 484 479.7 487 479.4 490 484.5 499 493.3 501 493.3 504 490.7 505 490.7 509 494.3 511 494.3 517 488.5 518.8 485 519.8 480 519.9 467 521 463.9 522 464.1 525.4 467 531.6 474 541 478.6 543.8 484 546 486.3 550 486.5 557 484.9 560.4 488 563 492 564 492.6 566 491.7 570 483.2 573 478.7 575 476.8 578 475.4 583 471.7 586 470.4 587 470.7 589 473.5 592 476.3 600.2 480 606 488.6 612.6 494 614 494.5 616 494.3 617 493.5 621 488.6 623 487.4 624.2 488 629 494.5 631 495.5 632 495.3 635 493.5 639.5 489 643 483.7 645 481.7 645.3 493 647.2 508 642 508.4 491 508.6 365 508.3 356.4 508 356 504 355 502 354 501.4 353.2 503 352.9 508 351 508.1 308.4 508 308.1 504 307 502.4 306.1 504 306.1 508 302 508.1 242 508.6 177 508.1 98 508.4 97.6 508 97.4 429 98 405.5 101.4 405 109.6 397 116 393.3 118 391 120.6 383 121.8 372 121.9 362 123 359.4 124 360.3 124.6 362 130 385.5 134 396 136 400 138 402.3 140 402.3 141.4 401 143 397.5 144.7 390 144.8 379 145.8 372 145.8 360 146.8 353 147 339.5 148 338 149.6 350 151 354 153 356.3 155 356.3 157 354 158.7 348 158.9 340 159.8 334 159.8 322 161 311.3ZM934.9 319 940 322.3 944 322.6 944.1 325 944.6 415 944.2 489 944 497.7 941.5 498 941 500 942 502.4 944 502.4 944 508 872 508.4 820.2 508 820.2 506 821.6 503 819.6 496 813.7 487 811 484.8 810 484.8 807.9 487 808.8 493 808.7 494 807 494.7 806.8 496 807.4 499 810.5 506 810.5 508 806.7 508 806.7 506 799.4 499 795.1 488 796 486.5 800 488.3 802 488.3 802.8 485 805 484 804.8 481 801.4 473 799.1 470 792 464.5 791.6 465 793.3 472 791.7 476 794.2 485 791 485.3 786 488 784 487.4 782 485.4 776.2 473 772.7 469 769.9 464 765.8 459 764.6 456 758.6 448 753.7 439 742.2 414 741.8 410 742.6 408 742.4 406 741.9 404 738.5 399 738 397 738.7 395 740 393.7 741 393.6 745 396.2 746.3 396 746.9 395 747 393 745.8 386 746.8 384 747.7 384 756.7 396 762 405.6 764 408 766.9 410 769.3 413 777.3 427 780.2 434 785.6 444 787 444.9 793 445.1 794 444 793.6 441 792.1 436 786.8 424 791 425.7 792.2 425 792.1 423 789.7 416 786.8 411 784.5 405 784.7 403 786 401.7 788.1 393 787.5 387 785.4 379 783.9 369 787.4 366 791.9 358 793 358.3 797 367 801.3 372 803.8 376 805 379 807 382 808 382.5 809.2 382 809.7 380 809.1 371 810 363.6 811 362.8 814 365.3 816 365.3 821 360.6 822 361.7 823.1 365 828.1 390 829.7 403 831.6 408 834 409.5 836 408.7 837 408.7 838 409.5 846 420.3 848 420.3 852 417.9 853 418.3 858.4 422 866 429.3 869 431.3 872 431.3 874 429.5 880 421 887.8 405 889.5 398 891.7 380 891.9 374 893 370.2 894.1 374 894.5 383 896.5 391 899 394.3 903 394.3 905 392 908 384.4 909.9 371 911 367.4 912 366.8 914 368.3 916 368.3 918 366.5 922.5 360 930.8 329 933.4 321ZM658 345 662 349.2 666 351.2 670 349.9 675 354.2 684 351.3 686 351.7 690 353.7 694.5 360 695.1 363 694.7 365 693 368.2 690 372.1 686 375.3 683 376.7 680 376.8 678 376.3 674 374.3 667 369.8 664 369.7 655 367.3 652 364.3 651.3 363 651.3 358 654.8 348ZM763.5 357 766 356.6 768 357.3 772.8 365 771 368 772 379 776.5 393 775 398 775.5 402 779.8 413 780 415.2 778 415.1 776 414.2 772.8 411 763.3 396 758.6 391 754.5 384 750.2 379 750.6 377 756.1 366 759 361.6ZM707.6 372 708 371.1 710.3 372 714.6 381 722 390.5 725.1 393 728.6 402 731.3 404 733.2 407 733.6 410 733.1 412 732 412.2 730.6 411 727 406.1 724 404.8 722.8 405 723.1 408 726.1 414 728 416 731 421 734.5 428 738.8 433 743.6 442 749.4 450 753.2 459 756.5 465 758.1 467 758.2 468 761.1 471 764 473 767 479 771.2 484 774 488.9 776.6 491 781 492.5 783.9 496 787.5 504 788.1 508 775.4 508 774.7 504 769 494.3 767 487 760.3 479 757.5 470 747.3 461 743.9 459 739.6 453 738 452.1 737 452.5 737.1 454 738.8 459 742.6 464 744.1 467 745.3 470 745.8 474 744.6 478 740 479.7 738 475.2 734.7 474 732 468 731.1 465 731 460.9 729.6 456 726.2 450 723.3 447 720.4 445 716.8 433 711 421.6 710.9 420 712.2 417 711.8 409 708.9 392ZM800 388 799.1 391 799.9 403 803.8 414 802.8 418 802.8 422 803.7 425 805 426.8 806 428 808 428.8 809 428.2 809.3 427 807.7 416 809 411.8 812 410.7 812 408.2 806.6 393 804 389.4 802 388.3ZM719 419.6 716.4 422 716 423 716.2 425 717.5 428 723.9 436 724.9 439 730.2 448 732 449.5 735 450.6 734.8 447 731.6 436 727.8 431 722.1 421 720 419.4ZM699.5 433 702 432.3 705.9 439 709 442.4 714 446 716.6 449 725.4 467 725 468.2 724 468.1 721 466.4 717 465.3 708 460.2 707 460.1 706 460.9 705.4 463 703 465 700 464.2 698 465.3 686 462.5 680 465.3 678 465.6 676.6 465 673.6 462 672.7 449 678 443.5 680 440.6 683 438.7 686 438.3 695 435.3ZM770 433.8 768.9 435 769.1 439 772 442 774 441.9 774.5 441 773.3 436ZM763 437.8 762.7 439 763.4 442 764.8 445 769.3 451 772.7 453 773.2 454 772.5 450 769.2 442 765 438.1 764 437.6ZM700 440.9 698.3 443 698.2 445 699 447.1 701 449.6 702.4 447 703.1 444 702 440.9ZM716.3 445 717 444.2 718 444.4 719.1 446ZM788 458.2 787.6 459 787.8 460 789 462.1 790 462.6 789.9 461ZM907 480.4 905.8 482 905.8 484 907 486 908 486.4 909 485.5 909.2 483 908 480.5ZM917 482 915.8 483 914.7 485 914.3 490 916 495.1 917.8 497 919 497.3 922.2 495 922.9 494 923.1 492 922.4 489 920 484.2 918 482ZM341 484.7 340.6 487 342 494.6 343 498.2 344 500.3 345 501 346.1 500 346.8 497 346.5 491 344 485.1 342 484.1ZM927 491.9 925.9 494 927 496.2 928 496.1 928.5 494 928.1 492ZM794.6 499 798.2 501 799.5 504 799.9 508 796.7 508 796.7 506 794.2 500ZM733 501 734 500.1 735.6 503 738.3 506 738.3 508 732.8 508Z"/>
<path id="c7" d="M168.6 306 170 305.7 174 309.4 178 311.4 180 311.1 187 305.8 189 307.6 192 317 196.7 328 197 344.3 198.1 349 200 351.7 201 351.9 203 350.3 206 343.3 206.6 334 207.7 326 211 315.7 212 315.6 215 317.3 218.9 322 219.9 324 221.7 336 221.7 353 222.6 358 222.1 364 220 371 219.5 385 219 386.7 215 383.3 213 383.2 212 384 209.9 389 209.1 395 211.2 419 213.6 434 214.3 444 216 446.8 222 450.6 225 451.1 226.8 450 227.5 449 228 444.9 233 448.2 237 448.2 240.4 445 244 439 246 440.3 247 440.3 248 438 247.1 429 244.9 422 244.2 418 245.2 409 245.2 340 245.9 337 247.3 335 248 334.5 252 334.5 257 335.6 258 336.4 260.7 341 264 352.9 269.9 367 272 369.1 277 371.4 279 370.4 281 367.6 283 366.3 290 370.1 293 370.1 296 367.1 298.8 361 301 357.6 305 353.6 308 351.7 313 350.1 317 348.1 321 345.6 322 345.8 323.8 356 323.8 366 324.8 373 325 383.5 326.2 392 329 403 333.2 411 342 421.7 344 425.3 352 433.1 357 433.1 358 432.3 359.1 429 361.5 418 366.4 411 370 400.4 371 399.7 374 406.1 377 409.1 379 409.1 380 408.4 382 405 384.8 395 387.5 375 388 373.7 390 374.3 390.6 374 391.7 372 392.2 352 394.9 329 396 325.8 400 322.9 400.5 324 400.9 332 401.5 335 403 336.6 404 336.6 406 335.6 407 337.5 407.8 341 407.9 349 409.8 365 409.9 373 411.2 383 412.7 388 412.9 400 415.9 423 413 425 412.3 427 412.4 429 414 432.3 418 437.6 425 444.2 425.1 442 423.4 434 423.4 433 424 432.7 425 432.7 427 434.6 433 443.5 443.3 465 445.7 472 448 484 449.6 487 452 489.4 456 491.4 465 491.5 468 492.4 474 492.4 476 491.4 477 490.1 481 481.5 482 481.1 484 481.7 487 481.1 490 485.5 499 494.1 501 494.1 504 491.7 505 491.7 509 495.1 511 495.1 517 489.6 519.1 486 520.2 480 520.4 467 521 465 522 465 527 469.5 531 474.5 536.2 478 536.4 490 537.6 492 540 493.5 542 493.3 543.5 492 544.4 490 544.6 487 546 487.5 550 487.4 557 485.8 559.2 488 562 493.6 563 494.5 565 494.8 567.9 492 570 484.5 573 480.6 573.9 482 574.9 489 576 490.2 576.8 490 577.7 488 579.8 476 583 472.8 586 471.4 587 471.7 591 476.5 596.9 480 597.3 488 598 490.3 600 491.2 601.7 491 603 490 604 488.2 612 494.4 614 495.4 616 495.1 617 494.4 621 489.6 623 488.3 624 488.7 629 495.4 631 496.4 632 496.1 635 494.4 640.5 489 643 484.9 644 484.7 646.8 508 439 508.6 359 508.1 357.6 508 357.2 504 355 499.1 353 497.1 352 497.1 351.1 498 351 499 351.5 508 309.9 508 309 502.2 308 500.1 306 498.7 305 499.1 303.9 501 304.4 508 242 508.6 177.5 508 177 501.7 174.5 493 173 485.4 172 484.1 171 484.5 170 486 169.8 490 175.7 504 176.2 508 98 508.3 97.4 429 98 406.4 100 406.4 102 405.4 110 397.6 117 393.4 118.6 391 120.6 386 121.4 382 122.4 372 122.3 363 123 360.7 124.1 362 129.7 386 133.9 397 136 401.1 138 403.1 140 403.1 142 401.1 143.3 398 145.2 390 145.3 379 146.2 372 146.2 360 147.2 354 147.7 343 148 342.2 149.4 351 150.9 355 153 357.1 155 357.1 157.6 354 158.9 349 159.2 341 160.1 335 160.2 322 161.5 312ZM934.8 320 940 323.1 944 323.4 944.1 325 944.6 415 944 494 941 493.7 938 492.2 937 492.2 935.3 494 936.1 497 940.7 505 941.1 508 872 508.4 822.1 508 822.1 506 822.7 505 821.9 501 818.5 493 814.5 487 812 483.8 806.8 482 800.8 470 794.5 465 791.8 462 788 455.7 785 454 784.5 455 785.7 459 787.7 463 790.6 467 791.2 470 791 471.1 788 469 787.1 470 789.8 477 790.2 480 788.6 483 787 484.7 785 485.6 783.7 485 781.4 482 777.2 473 773.2 468 768.7 461 766.8 459 763.5 453 759.2 448 757.5 445 751.9 434 744 416.1 743.5 413 745.1 411 744.9 409 743.2 404 740.1 399 739.5 397 740 395.1 741 395.2 746 398.7 747 399 748 398.1 748.5 395 747 387 748 386.3 749 386.9 751.7 391 756 396 762.7 408 765.6 410 768.4 413 772.5 421 773.5 424 771.8 426 771.7 431 767 431.2 766.3 432 765.7 435 762 435.6 761.7 439 764.1 445 766.1 448 770.6 453 770.9 454 773.6 456 773.9 457 776 459.2 777 459 776.5 456 773.8 448 774 446.8 776 446 777.2 444 775.5 439 774.9 434 777 430.3 779.3 436 785 445.3 787 446.4 790 445.8 794 445.9 794.7 444 789.8 428 790 427.4 793 426.2 793 424 790.3 416 786 407 786 405.6 787.3 403 788.2 399 788.8 393 784.7 370 788 366.1 792 358.9 793 359.4 794 361.2 797 368.1 801.3 373 805.4 382 808 385.1 809 384.8 810.5 382 809.9 372 810.9 364 814 366.1 816 366.1 821 361.7 822.7 365 826.9 386 829.4 404 831.5 409 834 410.4 836 409.6 837.5 410 842 415.6 844.7 420 846 421.1 848 421.1 852 418.7 853 419.1 858 422.6 865.8 430 869 432.1 872 432.1 874 430.5 880 422.1 888 405.9 889.9 398 892.3 375 893 372.6 893.7 375 894.2 384 896.4 392 899 395.1 903 395.1 905.1 393 908.3 385 911 368.6 912 367.8 914 369.1 916 369.1 918 367.5 922.6 361 924.3 356 931.3 329 933.9 321ZM657.2 346 658 345.5 659.8 347 661 349 666 351.5 670 350.4 675 354.5 684 351.8 685.5 352 689.6 354 694.2 360 694.7 363 694.4 365 693 367.5 690 371.5 686 374.8 683 376.3 680 376.4 675 374.4 667 369.4 664 369.3 655 366.8 651.6 363 651.5 358 655 348.4ZM763.4 358 766 357.4 767.7 358 771.6 364 770.3 368 771.2 379 775.1 390 775.2 393 773.9 396 773.9 399 778.1 410 778.5 413 778 414 773.7 411 767.5 402 764 396 759.3 391 753.2 381 751.1 379 751.2 377 756.1 367 759 362.6ZM708.2 373 709 372.1 710 372.6 713.9 381 716 384.1 722 391.5 725 394.2 725.8 396 726.8 403 726 403.5 722 403.1 721.2 404 720.9 405 722 408 725.1 414 730.2 421 733.5 428 738.1 433 743 442 748.8 450 753.5 461 754 463 753 463.6 750 462 746.3 459 741.7 454 741.3 453 736.3 448 735 445 732.8 436 727.3 428 723.7 421 720 416 718 415.4 716 417.4 715 417.1 713 414.2 712.5 408 710.3 399 709.3 392 709.1 384 708.1 378ZM799 386.8 798.4 391 798.7 402 801.1 411 801 419 802.9 425 804.7 428 809 430.5 810.1 430 810.5 427 809.2 416 810.1 413 813 412.7 813.7 412 813.4 410 805.9 390 802.3 387 800 386.4ZM197 390.8 197 394.6 198 395.7 198.3 391 198 390.2ZM197 409.2 195 418 195 422 197 426.4 199 428.1 200 428 200.8 426 200.6 422 198 411.3ZM718.5 433 719 432.6 720 433.1 722.7 436 728.8 448 731 451 734.9 453 736.8 456 739 462.4 740.7 465 742.7 467 743.9 470 743 473.2 742 473 739 466.7 735 465.5 729.8 453 725.5 447 723.1 445 720.9 442 719.6 439 718.3 434ZM699.4 434 701.2 434 702.1 436 702 437 697.1 441 696.7 443 698 447.3 701 452.6 702 453.5 702.4 453 705 440.1 713.7 447 716 450 719.3 456 721 461 721 463 719 463.6 716 463.3 712.9 462 709 459.3 706 458.4 704.5 459 704 463 703 463.7 699 462.9 697 464.2 686 461.6 679 464.7 677 464.4 674.6 462 674.4 461 673.9 449 674.5 448 681 440.6 695 436.2ZM801 456.8 800.7 459 802.4 462 806 465 806.8 464 805.4 461 803 457.9ZM812 471.7 811.9 474 814 477.2 815 477.3 815 476 813.5 473ZM759.9 473 761 472.4 763 473.3 764.9 476 765.9 479 769.8 484 774.2 491 779.3 493 783 496 786.9 504 787.5 508 776 508 775.4 504 771.5 496 769.7 494 767.6 487 760.4 477 759.6 474ZM821 472.7 820 474 822 475.2 822.5 474ZM245 473.8 245 476 246 476.6 247.9 476 247 474.5ZM907 477.4 903 480.3 899 481.1 898.2 483 898.2 485 899 487.8 900 488.8 904 487.8 909 489.9 912 489.5 915.7 497 918 499.4 919 499.5 923 497.9 927 499.9 929.4 499 931.2 496 931.6 493 930.8 491 929 488.6 924 487.5 918 479.9 916 480.3 913 484.1 912 484.5 909 478.3 908 477.4ZM339 481.9 336.8 483 336.3 484 336.4 486 339.7 491 344 503.2 345 504.2 346 504.1 347.5 502 349.5 497 348.5 492 346 485.7 344 482.7 342 481.7ZM797.7 490 798 489.4 800 489.6 804.1 493 808.9 504 809.1 508 808.3 508 808.3 506 800.7 499 798.4 494 797.5 491ZM296 492.8 295.2 494 295 496.1 296 498.1 298 498.6 299.3 497 299 494.4 298 492.9ZM733.9 502 737.3 506 737.3 508 733.3 508Z"/>
<path id="c8" d="M168.5 307 170 306.6 174 310.4 178 312.3 180 312 187 306.7 189 308.6 191.9 318 196.2 328 196.7 345 198 350 200 352.6 201 352.6 203 350.9 206 343.9 207.9 326 211 316.6 212 316.4 215 318.1 218.6 322 220 325 221.5 336 221.6 353 222.4 359 221.9 364 219.6 371 219.2 384 219 384.7 218 384.7 214 381.8 212 382.6 209.9 386 208.2 394 209.4 415 212 433 212.4 440 212 443.5 211 444.6 207 440.7 206 441.1 205.7 444 206.7 447 208 448.9 213 452.4 214 452.3 215 450.5 216 450 218 450.2 224 452.5 226 452.1 230 450.1 231 450.5 235 455.1 238 456.1 238.4 454 236.7 450 237.3 449 240.3 446 243 441.7 244 441.5 246 442.7 247 442.7 249 440.7 249.3 438 248.9 434 247 425.4 244.8 419 244.6 417 245.5 411 245.7 402 245.6 340 246.5 337 248 335.4 253 335.5 257 336.5 258 337.5 260.2 341 263.9 354 269.4 367 272 370 277 372.2 279 371.3 281.5 368 283 367.2 290 371 293 371 296 368.1 299 361.6 301 358.5 305 354.5 308 352.6 315 350 320 347 321 346.6 321.6 347 322.4 349 323.4 356 323.4 366 324.4 373 324.7 384 326 393 329 404.2 332.6 411 338 416.8 345 426.7 352 433.3 357 433.3 358 432.6 359.3 429 361.7 418 366.9 411 370 401.5 371 400.9 374 407.1 377 410 379 410 380 409.3 382.1 406 385.2 395 388 375.4 390 375.7 391 375.3 392.3 373 393.2 350 396 328 397 326.2 399 325 399.6 333 400.3 336 401 337 403 338.2 406 337.9 407.3 341 407.6 349 409.4 365 409.6 373 410.8 383 412.4 389 412.5 400 415 421 414.5 422 412.9 423 411.7 425 411.3 428 411.8 430 414 433.8 422.4 445 426 451.1 431.2 457 435 463 436 464 438 464.5 439.9 464 441 463 442 463.6 445.2 472 447.9 485 449 487.1 452 490.4 456 492.3 465 492.3 468 493.3 474 493.3 476 492.3 477 491.1 481 482.9 484 483.2 487 482.6 490 486.4 499 495 501 495 504 492.6 505 492.6 509 496 511 496 518.8 489 520.6 482 520.7 468 521 466.6 522 466 527 470.5 532.3 477 534.3 491 536 493 540 495.6 542 495.6 544.2 494 546.3 492 548 488.8 553 487.3 557 487.8 559.9 493 562 495.6 564 496.7 567 495.3 571 490.7 575 492.9 578 492.6 580.9 490 583 485.9 585.7 478 586 472.9 594.5 480 595 490 596.2 492 599 493.4 602 493.4 606 491.3 610 493.5 613 496 615 496.3 617 495.4 621.5 490 623 489.2 624 489.7 628 495.4 631 497.2 634 496 639 491.7 643 489.2 644.1 491 646.4 508 439 508.6 358.8 508 358.2 504 354 495.3 350 490.9 345 482 343 480.5 340 480.1 338 480.3 336 481.2 335 483 334.8 486 339.7 494 343.6 505 343.8 508 310.9 508 310.2 503 308 498.1 306 496.6 303 496.3 299 491.3 297 490.6 295 491.5 294.1 493 293.7 495 294 497.6 296 500.6 300 501.7 301.8 503 302.7 505 303 508 242 508.5 179.4 508 179 504 175.8 493 174.2 484 173 482.5 172 482.5 170 484.1 169 486.9 168.9 489 173.7 502 174.5 508 98 508.3 97.4 429 98 407.3 100 407.3 102 406.4 110 398.5 117 394.3 120 390.2 122 389 123.5 374 123 362.1 124 363.5 126.4 376 129.2 386 133.4 397 136 402.1 138 404 140 404 142 402.1 144.3 397 145.9 391 146.6 360 147.6 354 148 344.6 148.4 350 150.4 355 153 358 155 358 157.6 355 159.3 349 159.6 341 160.5 335 160.6 322 161.7 313 162.2 312ZM934.7 321 940 324 944 324.3 944 325 944.5 415 944 491.6 941 491.2 938 489.1 933 489.7 929 486.1 924 485 918 477.7 916 478.1 913 480.8 912 480.5 909 475.6 908 474.9 907 475.1 903 478 898 478.5 897 480.1 896.6 483 897.5 488 899.2 491 901 491.3 903 490.3 905 490.2 911 492.6 913 494.8 916 499.8 918 501.6 923 500.5 926 502.1 928 502.3 932 499.4 934 499.3 938.4 504 939.2 506 939.2 508 824 508 823.4 504 820.4 496 813.3 484 810.2 481 806.7 479 801 466.7 796 465 793 462.1 787.1 453 784.4 451 781.7 448 781.9 447 779.6 445 779.7 444 778.3 442 779 440.1 780.7 442 783.1 446 786 447.8 791 446.5 795.2 447 795.3 444 791.3 431 791.7 429 793.6 428 794 427 793.6 424 788 409 788 407 789 405 789.4 393 785.6 370 788 367.1 791 361.3 792.2 360 794 362.3 797 369.1 800.6 373 804 381 804.8 384 804 386 799 385.2 798 386.1 797.8 402 798.9 408 799.6 417 800.9 422 803.8 428 807.3 431 810 432 811 431.8 811.7 430 810.5 421 810.8 416 812 415 815 415.4 815.4 415 814.2 410 809.5 399 807.4 390 807.4 389 808.6 387 810.9 385 811.3 381 810.6 373 811.3 367 812 365.7 814 367 816 367 821 362.7 822.5 366 827.3 390 829.1 405 829 406.5 828 407 827.9 409 829 411.5 830 412.4 832 410.7 834 411.2 837 410.5 842 416.5 844 420.1 846 422 848 422 852 419.6 853 420 858 423.5 865 430.4 869 433 872 433 874.3 431 880 423.1 888.1 407 890.3 398 891.7 385 892.8 380 893 374.6 893.5 383 896 392.2 897 394.1 899 396 903 396 905.6 393 908.4 386 911.1 370 912 368.7 915 370.2 917 369.4 923 361.2 931.8 329ZM657.9 346 662 350 666 351.9 670 350.8 675 354.9 684 352.6 686 352.8 688.6 354 690.2 355 694 360.4 694 365.1 689 371.7 686 374.3 682 375.9 678 375.4 667 369 664 368.9 655 366.3 651.9 363 651.8 358 655 349ZM763.2 359 765 358.3 767 358.4 769 360.5 770.4 363 769.6 368 770.2 377 774.2 390 774 391.6 772.1 395 772.3 397 776.4 407 777.3 410 777 411.9 774.7 411 772.3 408 764.7 396 757.8 388 754 381 751.8 378 753 374.6 755.2 374 754.8 371 756.7 367 759 363.5ZM708.7 374 709 373.2 710 373.6 713.4 381 716 385.1 724 394.1 725.1 396 725.4 400 725 401.6 721 402 720 403 719.6 405 723 413.1 723.4 415 723 415.7 716.3 411 712 403.9 709.7 391 709.5 384 708.5 378ZM197 386.8 195.5 388 194.7 390 195 404 193.3 421 194 424.5 195.7 428 198 430.7 200 431.8 201 431.6 202.5 430 203 424 199.6 407 200.5 390 199 387.1ZM749.3 391 750 390.1 750.2 391 755.1 396 758.2 401 760.7 407 761 411 762 412.7 763 413.3 764 411.6 766 411.9 767.4 413 769.3 416 770.5 421 769.8 424 769.8 428 769 428.8 768 428.9 764 426.8 763 427.6 763.3 430 762.6 432 760 434 761 439 763.5 445 767.6 451 769.6 453 769.9 454 772.3 456 773.9 459 784 468.3 786.7 475 787.4 478 787.3 481 785.7 483 784 483.1 782.7 482 777.9 473 767.7 459 764.3 453 759.9 448 758 445 748.7 425 746.7 418 747 417.5 749 417.8 750 417.2 749.4 413 741.8 399 742 398 743 398.3 747.9 402 749 401.6 750.5 398ZM723.9 416 726.4 419 729 421 732.8 429 734.2 431 737.1 433 739.3 436 742.3 442 748.3 450 751.1 456 751.9 460 751 460.6 748.2 459 743.4 454 740.6 450 738 448 736 445 732.8 433 728.6 428 727 425 725.6 421 724.3 419 723.6 417ZM425.5 435 426 434.7 427 435.8 433 444.6 439 457.1 438 457.5 436.8 457 434.3 455 427 440ZM697.7 436 698.7 436 698.7 437 695.2 439 695.3 442 696.6 446 701.8 456 703 461.2 702 462 701 462 698 461.2 696 462.3 694 462.6 686 460.7 679 463.8 677 463.4 675.3 461 674.9 449 675.5 448 681 441.5 683 440.5 693 437.6 695 437.7ZM720.9 437 722 437.5 724.1 441 724 443.1 722.5 442 720.9 439ZM706.3 444 707 443.5 708.4 444 712.6 447 715.2 450 718.4 456 719.2 460 718.9 461 717 461.8 714 461.1 704.6 455 704.1 454 704.1 451ZM683 448.7 682 450 681.9 452 683 455.2 684 454.9 684.6 454 684 450ZM777.1 451 778 450.1 780 451.6 784 458.4 785.4 462 785 463 783 462.6 782.3 462 782.4 461 780 459 777.6 454ZM733 455 734 454.9 735.5 456 737 461 736 462.2 733.8 459ZM800 455.4 799.5 459 801 462.9 806.3 467 808.8 470 813.3 479 816.4 482 818 482.4 817.5 478 814.8 472 810.8 468 804.1 458 802 455.8ZM244 469.3 243.1 471 243 473 244 476.7 246 478 249 477.4 250.8 475 250.7 473 250 472.2ZM818 470.4 817.2 471 818.6 473 818.2 474 820.4 476 820.6 477 822.5 478 823 479 825.8 481 827.7 485 831 488 830 484 825.5 478 823 472.7 821 470.5 819 470ZM761.5 475 762 474.6 763.7 476 764.7 480 764 480.4 762 477.8ZM767.9 485 768 484.6 770 486.7 772.5 491 774 492.6 781.7 496 785.1 501 786.9 506 786.9 508 776.6 508 776 504 773.5 499 772.6 496 770.8 494 769.9 492ZM799.2 492 800 491.3 802.7 493 804.8 496 806.8 501 807 503 804.6 502 801.7 499 799.4 494ZM733.9 505 734 504.3 735 504.7 736.1 506 736.1 508 733.8 508Z"/>
<path id="c9" d="M168.4 308 170 307.5 174 311.3 178 313.1 180 312.9 187 307.7 188.5 309 191.5 318 196 329 196.5 346 198 351.2 200 353.4 201 353.4 203 351.6 206 344.5 207.9 327 211 317.8 212 317.2 215 318.7 218.3 322 219.7 325 221.4 337 222 362.1 219.3 371 219 381 218.4 383 218 383.3 215 381 213 380.7 211 382.1 209.2 385 207 394 206.8 408 206 414.9 205 415.3 204 414.4 201.6 409 201.1 402 202.3 391 201.6 388 200.5 386 198 384.3 196 385 193 387.3 189.9 387 188.7 388 188 391 189 395.6 190 395.8 192 394.8 193.1 397 193.3 406 191.7 420 193 426 195 430 199 434.1 201 434.5 204 433.8 205.8 435 206.1 436 204.2 441 205.3 447 207 450.5 213 456.1 214 456.5 215.5 456 218 452.9 224 453.9 229 452.5 231 453.3 236 457.6 239 459.2 240 459.2 240.2 456 238.6 449 243 442.9 247 444 248.7 443 250.1 441 250.3 438 249 431.2 245 417 246.5 401 245.9 385 245.9 341 246.6 338 248 336.3 253 336.4 257 337.4 258 338.5 260 341.8 263.5 354 269.3 368 271 370.2 277 373.1 279 372.2 282 368.4 283 368.1 290 371.9 293 371.9 296 369.1 301 359.5 305 355.4 308 353.5 313 351.9 321 347.6 322 349 323 356 323.1 367 324 373 324.3 384 325.6 393 328.8 405 332.1 411 337.9 417 345 427 352 433.6 356 433.7 358 433 358.5 432 361.5 419 367.3 411 370 402.9 371 402.5 373.9 408 377 410.8 379 410.9 380 410.2 382.3 407 385.6 396 388 377.8 389 377.1 390 377.5 391 377 392 375.8 393 373 394.2 348 395.1 340 397 333.1 398 333.9 399.4 337 401 338.7 403 339.5 406 339.4 406.9 341 407.2 349 409 365 409.2 373 410.5 383 412 389 412.1 400 414 417 413.8 419 412 421.2 410.7 424 410.4 427 411 430 422.6 447 426 452.9 434 464 437 465.5 439 465.4 441 464.3 442 464.7 445 472.7 447.5 485 449 488.1 452 491.3 456 493.1 465 493.2 468 494.1 474 494.1 476 493.2 477 492.1 481 484.4 487 484 499 495.9 501 495.9 504 493.5 505 493.5 509 496.9 511 496.9 516 492.6 519 492.8 520.9 491 521.5 478 521.3 469 522 467.6 525.5 471 526.8 473 530 482.7 532 491 534.8 494 540 497.6 541 497.9 543 497.1 547.5 493 549.3 490 553 488.3 555 489 556.1 491 562 497.4 564 498.5 566 497.9 571 493.5 576 494.9 578 494.5 588.1 489 589.2 487 590 480.4 591 479.3 592 481.7 592.4 490 594.9 493 599 495.2 602 495.2 607 493.1 610 494.4 613 496.9 615 497.1 617 496.3 622 490.4 623 490.1 624 490.7 628 496.3 631 498.1 635 496.3 638 493.5 643 491.7 644 493.2 646 508 439 508.5 360.3 508 359.9 505 355 494.9 349 486.9 346.1 482 343 479.5 339 478.9 337 479.2 335 480.8 334 483.1 333.8 486 335 489 339.6 496 342.7 505 342.9 508 311.9 508 311.1 503 308 496.5 306 494.9 303 493.8 299.5 490 297 489.3 295 490 293.5 492 292.8 494 292.9 497 295 501.6 300.7 505 301.1 508 242 508.5 180.6 508 180.2 504 176.6 492 175.4 483 174.9 482 173 481.2 171 482 170 483.1 169 485 168.4 488 169 491.7 172.8 502 173.4 508 98 508.2 97.4 429 98 408.1 100 408.1 102 407.3 110 399.4 117 395.2 120 392.1 122 392.4 124 391.9 125.3 390 126.1 383 127 381.5 132.8 397 136 403.1 138 404.9 140 404.9 142.1 403 144 399.6 145 399.4 147 408.1 147.9 410 150 411 152 410.6 152.6 408 151.3 399 150.9 392 151.4 380 151 378.3 150 377.1 147 377.1 147 360 148 354.1 149 353.2 151 357.1 152 358.2 154 359.1 156 358.2 158.2 355 159.8 348 160 341 160.9 335 161 322 162 314 163 312.3ZM934.8 322 940 325 944 325.4 944.5 415 944 489.2 942 489.2 938 486.5 933 486.9 929 483.8 924 482.7 921.5 480 918 473.6 914 477.7 913 478.2 912 477.7 909 473 908 472.4 903 476 898 476 896.5 477 895.1 481 895.6 486 897 490.1 899 493.3 900 493.7 903 492.3 905 492.1 910 494.5 912 496 916.4 504 916.8 508 824.9 508 824.9 506 820.8 496 814.6 484 815 482.9 819 485.6 819.6 485 819.8 480 821 479.4 822 479.6 824.5 481 829 488.1 832 490 832.6 489 832.2 487 830.8 484 827.2 479 823.3 472 822 470.2 817.9 467 814 461.5 813.2 462 813.9 464 813.3 465 813.3 467 811 466 803.3 456 799 453.4 798.2 462 797 463.2 795 462.7 791.9 459 787.4 451 788.4 449 791 447.4 793 447.7 795.5 449 797 450.9 797.3 450 792.7 434 792.4 431 792.8 430 794.5 429 794.8 427 790.6 413 790.9 408 790.2 404 790 393 786.5 370 792 361 793 361.6 794 363.4 796.9 370 799.7 373 801.9 378 802.8 381 802.8 383 802 383.8 798 383.6 797.1 386 797.4 393 796.9 400 797.7 412 798.9 419 800 422 803 428 805.9 431 811 433.5 812.6 433 812 420.2 813 419.1 817 419.6 817.5 419 816.1 413 810 399 808.8 392 809 390 810.8 388 812 385 811.3 374 812 367.8 813 367.4 815 368.1 816 367.9 821 363.7 822.1 366 827 390.9 828.3 403 828 404.7 826.8 406 826.7 408 827.6 411 829 413.3 831 414.5 833 412.4 837 411.4 842 417.6 845 422.2 847 423.1 852 420.5 853 420.9 858 424.4 865 431.3 869 433.9 872 433.9 875 431.1 880.1 424 888.2 408 890.4 400 893 383.7 895.4 392 898 396.2 900 397.1 903 396.9 905.7 394 909.2 385 911 372 911.8 370 915 371.1 917 370.3 923.2 362 925 356.6 929.9 337ZM657.3 347 658 346.5 661 349.9 666 352.4 670 351.4 675 355.4 680.6 354 683 358.4 684.4 358 686.1 355 687 354.5 688.8 355 690.1 357 689.2 362 689.8 369 688.9 371 683.8 375 679 375.4 667 368.6 664 368.4 655.2 366 652 362.2 652 358 655 349.9ZM763 360 765 359.2 767 359.3 769.2 362 768.8 366 769.5 377 772.9 389 772.3 391 769.9 394 770 395 774.6 404 775.7 407 776 409.5 775 409.5 773.1 408 768.8 401 767 399 765.6 396 760.6 391 758.4 388 753 377.7 753.3 376 754.1 376 754.6 377 756 377.6 757 377.1 756.3 373 755.4 371 755.7 370 759 364.5ZM709.2 375 710 374.7 713 381.4 716 386.1 724.4 396 724.2 400 723 400.7 720 401.1 719 402 718 404.9 717 406.1 715 405.1 711.9 402 710.1 391 709.8 383 708.9 378ZM752.8 397 753 396.4 754 396.7 757.2 401 758.2 404 758.3 408 759 411 760.6 414 764 416.5 765 416.3 766 414.3 768 416 768.4 419 768 426.3 766 426 763 423.2 761 422.8 760.3 425 760.9 427 760 429.1 758 427.6 754.3 423 749.7 407 752.5 401ZM749.5 423 750 422.4 751 422.6 753.6 424 759.6 436 760.4 439 764.4 448 769 454 771.3 456 772.9 459 783.1 470 785.8 476 786 478 785 481 784 481.1 782 479.3 778.6 473 768.6 459 763.1 450 760.8 448 758.6 445 751.9 431 749.7 425ZM734.9 435 735 434.3 736 434.1 738.4 436 741.5 442 747.5 450 750.2 456 750 458.2 748 457 745.1 454 740 447 737.6 445 735.2 439ZM688.5 440 691 439.2 693 439.7 700.7 456 701.3 458 701 460 700 460.2 696 459.4 694 461.3 693 461.3 687 459.4 685 459.3 685 458.7 687 457.5 687.1 456 684.7 447 683 445.5 682 445.8 681 447.2 679.2 462 678 462.6 676.9 462 676.6 461 675.9 449 681 442.5ZM431.8 445 433 446 435.9 452 435 452.1 434 450.4ZM707.9 447 709 446.1 711 446.8 714.4 450 717.5 456 717.7 458 717 459.6 715 460 713 459.5 709 455.2 706.8 454 707.2 453 706.2 451 707.3 450 707 448ZM243 464.7 242 465.1 241.8 467 242.1 473 243 476.4 244.4 478 246 478.7 248 478.7 249.9 478 251.9 476 253 474 253 471 251 469.2 247 468ZM804.5 469 805 468.5 807 469.6 809.4 473 811.7 479 811 479.9 808.9 479 807.3 477 805.6 474 804.5 471ZM800.9 494 803.6 496 805 500 802.8 499ZM774.3 496 775 495.5 779 495.8 782 498 784.4 501 785.8 504 786.3 508 777.2 508 777.2 506 774.4 499ZM931.6 502 934 501.9 936 503.4 937.5 506 937.5 508 919 508 919.3 505 921 503.2 923 502.9 927 505.1 928 504.9Z"/>
<path id="c10" d="M168.3 309 170 308.4 174 312.2 178 314 180 313.7 187 308.8 188 309.4 195.5 329 196.3 347 198 352.3 200 354.3 201 354.2 203 352.2 206 345.1 206.9 341 207 335 208.1 327 211 319.1 212 318 214 318.6 217.9 322 219 323.6 220 327 221.1 336 221.3 353 222.1 358 221.4 364 218.9 371 218.3 381 218 381.8 214 379.3 212 379.9 208.7 383 206 389.8 205 390.4 201.6 384 200 381.6 199 381 194 383.8 189 384.2 187.9 385 186.6 390 186.7 398 187.3 403 189.5 412 190.1 422 192.2 428 194 431.5 198 435.9 202 438.6 204.8 449 207 453 212 458 214 458.9 220 455.6 224 455.6 229 454 231 455 238 460.8 239.6 463 242 475.5 243 477.4 245 479 248 479.3 251 478.2 255 475 255.4 473 254.6 470 253 467.6 247 465.2 243.2 461 241.9 458 239.8 449 243 444.2 246 444.9 248 444.5 250 442.8 251.1 440 248 425 245.4 417 246.8 405 248.3 403 248.8 401 247 395.5 246.3 384 246.3 341 246.7 339 248 337.2 252 337 257 338.4 257.6 339 259.9 343 263 354.1 269 368.5 271 371.2 277 373.9 279 373.2 282 369.3 283 368.9 290 372.7 293 372.7 296 370.1 301 360.6 305 356.3 308 354.3 313 352.7 321 348.5 322.6 356 322.8 367 323.7 374 323.9 384 325.4 394 328.3 405 331.5 411 337.7 417 342 422.7 344 426.3 351 433.3 353 434 357 433.9 358 433.3 359.9 428 362 418.2 367.2 412 370 406.3 371 405.8 372 406.3 375 410.2 378 411.9 380 411.1 381 410.1 383.5 406 385.9 398 388 387.2 390 385.4 391 383.1 393.5 374 395 347.4 396.1 340 397 338 398 337.9 402 340.5 406 340.8 406.4 342 408.6 365 408.9 374 410.1 383 411.6 390 412 411.6 409.5 421 409.6 427 410.3 430 433 464.1 436 466 439 466.1 441 465.3 442 465.8 444.6 473 447.3 486 449 489.1 452 492.2 456 494 465 494 468 495 474 495 476 494.2 477 493.1 481 485.7 487 485.2 499 496.7 501 496.7 504 494.4 505 494.4 508 497.2 510 497.9 512 497.2 515 494.4 516 494.1 519 494.7 521.9 493 524 490 525 484.3 526 484.8 528.9 491 540 499.5 541 499.9 543 499.1 552 490.6 558 494.3 562 499.1 564 500.2 566 499.6 571 495.3 577 496.5 584 493.2 587 492.5 592 493.1 599 496.7 602 496.8 608 494.7 610 495.4 613 497.7 615 498 617 497.2 622 491.3 623 491 628 497.2 631 498.9 634 497.8 638 494.6 640 494.6 643 493.6 644.6 499 645.6 508 439 508.5 362.1 508 361.8 505 359 501.6 354.5 492 346.3 481 343 478.6 338 477.9 336 478.4 334.5 480 333.3 483 333.2 486 334 488.7 337.7 494 339.7 498 342 505 342.1 508 312.9 508 312.3 504 308 495 303 492 300 489 297 488.2 295 488.9 293.1 491 292.2 493 291.9 496 294 502.4 298.1 506 298.1 508 242 508.5 182 508 181.9 505 177.8 492 176.7 482 176 481 174 480.2 172 480.7 170 482.3 168.5 485 168 488 168.4 491 172.1 502 172.3 508 98 508.2 97.5 429 98 409 100 409 102 408.2 110 400.3 117 396.2 119 393.8 120 393.5 123 394 126 393 127.2 392 128 389.6 129 389 133 398.5 136.8 405 138 405.7 140 405.7 143 402.9 144 402.6 147 412.6 148 413.4 152 414.7 153.4 414 154.1 410 152.3 394 153 381 152.5 371 152.1 369 151 367 148 365.7 147.6 359 149 354.8 151.8 359 154 359.9 156 359.2 157 358.1 158.7 355 160.2 348 160.4 341 161.2 335 161.3 323 162.4 315 163.2 313ZM934.9 324 935 323.5 936 323.9 936.5 325 937.9 333 940 337.9 942 340.4 944 340.4 944.5 415 944 461 942 461 941.7 462 940.7 477 941 479 944 479.1 944 486.3 941.6 486 940.8 485 939.9 482 939 481.3 935.7 484 933 484.4 928 480.5 924 480.3 922 478 921 474 921.7 469 922.3 468 925 466.8 925.6 466 927.5 459 927 456.5 925 455.5 919 459.7 917 462 915.7 465 914.8 473 913.8 475 913 475.5 912 475 911 473 910.2 469 909 468 908 468.6 905 472.7 903 474.2 901 474.6 898 474.2 896 475 893.8 478 892.6 481 893.2 485 899 497 904 493.9 906 494.2 910 496.5 912 498.6 913.3 501 913.8 508 825.5 508 825.5 506 822 499 818 488 820 487.3 820.7 486 821.1 481 822 480.7 823.2 481 825.9 484 828 488 830.7 491 833 492.2 833.8 492 834.1 491 833 487 823 470.4 818.3 466 814 459.5 813 458.7 811.6 459 812 461 811 463.5 809 462 804.1 456 799.2 452 796.4 445 793.4 434 793.6 432 795 431 795.8 429 792.4 416 793 411 791.5 404 790.3 390 787.2 371 791 363.6 792 362.1 793 362.7 796 369.5 799 373.4 800.9 378 801.1 382 797 382.4 796.4 384 796.4 411 798 419 802.2 428 804.7 431 809.4 434 813.7 435 814.3 433 813.5 428 813.7 423 815 422.4 819 423.1 819.7 422 818 416 811.5 402 810.1 397 809.7 393 810.8 390 812.4 388 812.7 386 812 375 812.7 369 813 368.6 816 368.7 821 364.8 822 367.6 826.6 391 827.7 402 826 404.5 825.8 408 828.5 414 830 415.5 832 416.2 834 413.3 836 412.4 837 412.5 845 423.2 847 423.9 851 421.8 852 421.4 853 421.8 858 425.3 865 432.2 869 434.7 872 434.7 875 432.1 880.1 425 888 409.5 890.3 402 891.4 394 893 389.1 894 389.7 897 396.1 899 397.7 903 397.7 905 396.1 906 394.5 909.6 385 911.9 371 915 371.9 917 371.2 922 365.1 923.7 362 930 338.2ZM657.2 348 658 347.4 659 347.9 661 350.4 666 352.8 668.8 352 670 352.2 674 355.6 675 355.8 678 355 679 355.4 680 362.2 683.3 367 684.7 370 684.7 373 683.9 374 682.2 375 679 375 674.8 373 668 368.5 660 367 656 365.9 655 365.1 652.8 362 653 358 656 349.8ZM762.9 361 764 360.3 766 360 767 360.2 768.2 362 768.3 374 771.1 384 771.7 388 771 389.7 768.4 393 768.4 397 768 397.6 766.9 396 761.3 391 759 388 756.5 382 756.4 381 758 380 758.4 378 758.1 376 756 371 756.3 370 759.4 365ZM709.5 377 710 376.1 712.7 382 715.9 387 723.6 396 723.7 398 723 399.5 719 400.2 716 402.8 713 401.7 712 400.3ZM769.7 400 770 399.3 772 401.3 774 404.8 774 407 772.1 405ZM753.7 407 754 406.1 755 406.2 756 408.1 756 410.2 754 408.8ZM752.5 428 753 427.8 754.9 430 758.6 436 761.9 444 762.6 447 762 447.7 759.3 445 757.6 442 752.9 431ZM737 437 738 437.7 740.1 441 742.1 445 742.4 446 742 446.3 739.9 445 739.6 444 737.5 442 736.5 439ZM688.5 441 691 440.2 692.3 441 698.6 453 699.8 457 699.7 458 699 458.5 695 457.3 692 458.6 690.8 458 688 454 686.5 449 686.9 447 688.4 445 687.8 442ZM678.9 447 679 449.4 678 451.7 677.2 449ZM742.6 447 743 446.5 744 447.2 746.4 450 748.1 453 748 454.4 746.9 454 744.5 451 742.6 448ZM709.7 449 710 448.3 711 448.3 713.5 450 716.1 455 716 457.4 714 458.1 712 456.8 710.1 454 709.4 451ZM790.2 449 792 448.4 793.8 449 797 453 797.8 456 797.6 458 797 460 796 461 795 460.8 793 459 790.1 454 789.1 451ZM937 452.8 935.9 454 936 456 938 456.8 940 456.3 940.4 455 939.8 453 938 452.3ZM768.6 456 769 455.6 769.6 456 771.4 459 774 461 774.2 462 781.7 470 783.6 473 784.7 476 784 478.8 783 478.7 782 477.5 777.6 470 771.8 462ZM776 498 779 497.7 783 500.6 785.1 504 785.6 508 777.8 508 777.8 506 775.8 500ZM932.2 504 934 504.2 935 505 935.5 508 930.4 508 930.4 506Z"/>
<path id="c11" d="M168.2 310 169 309.3 170 309.3 175 314.1 178 314.9 180 314.6 187 310.4 188 310.7 191 319.4 195.1 329 195.8 347 197.8 353 200 355.2 201 355 203 352.9 206 345.7 207 341 207.2 335 208.3 327 211 320 212 318.7 214 319.2 217.6 322 219 324.2 221.1 337 221.2 353 221.9 358 221.2 364 218.6 371 218 380.1 217 380 215 378.3 213 378 208 381.3 206 381.7 204 380.1 201 375.4 200 374.8 194 381.5 188 382.6 186.3 385 185.8 388 184.9 401 185.2 407 188.3 422 191.8 431 194 434.4 201 441.3 204.8 452 206.6 455 213 461 214 461 219 458.4 224 457.5 228 455.5 230 455.8 238.2 463 239.9 467 241.7 476 243 478.1 245 479.5 249 479.8 254 477.9 257 477.7 258 477 258 476 256.2 470 254 466.1 252 464.5 247.8 463 244 459.1 242 454.4 240.8 449 243 445.3 247 445.6 249 444.7 251 442.4 251.7 440 248 423.2 245.9 417 247 407 249.9 404 250.4 402 248.9 391 247 386.5 246.7 384 246.7 342 247 339.4 248 338.1 252 337.9 257 339.3 259.4 343 263 355.4 269 369.6 271 372 277 374.8 279 374 282 370.3 283 369.8 290 373.6 292 373.8 294 373 297 369.6 301.4 361 305 357.2 308 355.3 313 353.6 320 349.7 321 349.6 322.3 357 322.4 367 323.3 374 323.6 384 325 394 328 405.4 331 411 337.4 417 342 423 344 426.6 351 433.6 353 434.3 357 434.2 358 433.6 359.8 429 362 418.6 367.7 412 370 408.3 372 408.2 376 411.9 378 412.7 380 412 382 410 385 408.2 385.8 407 388.6 396 393 382.1 394.4 372 395.1 353 397 342 398 340.5 402 342 405 342.1 406 343 408.3 366 408.6 374 409.9 384 411.2 390 410.3 405 408.9 413 406.9 420 409.5 430 433 464.9 436 466.6 438 466.7 441 466 442 466.8 444.5 474 447 486.4 449 490.1 452 493 456 494.8 465 494.9 468 495.8 474 495.8 477 494.1 481 487.1 487 486.3 499 497.6 501 497.6 504 495.3 505 495.3 508 498 510 498.8 512 498 515 495.5 517 496.4 519 496.3 524 493.6 527 493.1 532 495.4 541 501.9 543 501.1 549 494.9 552 493.1 557 495 559 496.8 562 500.8 564 502 566 501.3 571 497 577 498.1 586 494.2 592 495 600 498.5 602 498.4 608 496.3 610 496.7 613 498.6 615 498.8 617 498 622 492.3 623 491.9 628 498.1 631 499.8 634 498.6 637 496.3 640 496.3 643 495.3 644.2 499 645.2 508 439 508.5 363.5 508 362.9 504 359 499.9 355 490.5 353 487.3 345 478.8 342 477.4 337 476.7 335 477.7 334 479.3 332.7 483 332.6 486 333.5 489 337.6 495 339.5 499 341.3 505 341.5 508 314 508 313.3 504 308 493.6 304 491.3 300 487.8 297 487.2 295 487.8 293.6 489 292.2 491 291.2 494 291.4 498 293.5 505 293.7 508 274.4 508 274 496 273.7 508 242 508.5 184.1 508 183.8 505 181 498.5 179 492 178.4 481 177 479.7 175 479.3 172 480 170 481.6 168.5 484 167.7 487 167.9 491 171.3 501 171.2 508 98 508.2 97.5 429 98 409.8 100 409.8 102 409 110 401.2 117 397 119 394.9 124 395.3 129 393.1 130 393.2 135 403.6 137 406 139 406.8 141 406.1 143 404.2 143.7 405 146 414 147 415.8 153 418.6 154.9 417 155.4 412 153.2 392 154.4 381 154.1 371 152 365.7 149 362.2 148.1 360 149 356.3 152 360.1 155 360.6 157 359.1 159 355.4 160.5 348 161.6 335 161.7 323 162.9 315 164 313.3ZM932.5 335 934 334.5 936 335.6 941 343.7 942 344.8 944 344.8 944.5 415 944 450.4 938 449.6 931 454.2 929 454.4 926 453.3 924 453.7 918 458.2 913 465.1 910 465.2 908 466.2 903 472.6 901 473.1 897 472.6 890 477.8 888.9 481 887.5 508 826.1 508 826.1 506 822.3 499 819.7 491 819.7 490 821.4 488 822 483 823 482.7 825 483.9 829.5 491 833 494 835 494.3 835.3 492 833.8 487 823.7 470 819 465.7 814 458.5 812 457.3 811 457.5 809 459.5 808 459.1 800 452 796.9 445 795.1 439 794.3 434 794.6 433 796.7 432 797.3 431 793.8 419 793.9 416 795 415.6 802 428.9 803.5 431 807.8 434 814 437.2 815 437.5 815.7 437 816 436 815 431 815 428 815.1 427 816 426.1 820.6 427 825.9 434 827 434.1 827.7 433 826.9 430 822.6 425 819.5 419 818.6 416 813.1 405 811 399 810.9 393 812.5 391 813.5 388 812.6 376 813.7 370 816 369.6 820 366.2 821 366.1 826.2 391 827.2 400 827 402 825.1 404 825.1 408 827.7 414 830 417 832 418.3 833 418.2 834.2 417 835.4 414 837 414 845 424 846 424.6 848 424.6 852 422.6 855 424.9 858 426.3 864.9 433 868 435 870 435.8 872 435.6 875 433.1 880.8 425 888.3 410 891 401 892 393.5 893 391.8 894 391.9 896.9 397 899 398.6 903 398.6 906 395.6 909.8 386 912 372 915 372.8 917 372 923 364.6 925.5 358 930.6 338ZM658.5 351 659 350.2 660 350.3 667.1 354 670 359.8 672 361.6 673.8 361 674.8 360 674.4 357 677 356.5 676.3 360 676.6 361 682.1 370 682.2 372 681.3 374 678 374.1 674 372 669 368.4 667 367.6 660 366.5 656.9 365 656.1 357 656.8 354ZM764.6 361 766.1 361 766.9 362 767.6 367 767.4 374 770.6 386 770 388.6 767.3 391 766 393.3 765 393.1 762.2 391 759.8 388 758.5 385 758.7 383 760 382.1 760.1 381 758.9 376 756.6 371 760 365.2 763 361.8ZM791.4 364 792 363.2 793 363.8 796 370.6 798.9 375 799.8 379 799 380.1 797 380.2 795.6 381 796 392 795.3 398 795.4 405 795 406.7 794 407.5 792 400 788 372 788.2 370ZM710.6 381 711 380 715.9 388 722.6 396 722.8 397 722 398.6 718 399.1 715 400.4 713 399.5 712 397.1ZM289 432.4 288.3 433 288.2 434 289 436 291 438.6 293 438.8 294.2 437 293.2 434 291 432.5ZM757.7 438 760 441.5 760 443.6 758.6 442 757.5 439ZM690.7 444 691 443.2 692 443.5 696 449 697.8 453 698 456.2 691.7 455 689 452.3 688.7 450 690.1 447ZM791 450 792 449.4 793.7 450 795.7 453 796.6 456 796 458 795 458.5 794 457.6 791.5 454 790.7 452ZM711.5 451 712 450.5 714 452.5 714.6 454 714 455.3 711.9 454ZM829 458.8 830 462 832 463.6 832.7 463 832.2 461 830 458.5ZM934.8 464 937 463.7 937.8 465 938.1 471 937 474.6 934 479.6 933 480.1 931.7 477 930.8 468 931 466.5 932 465.1ZM892.3 492 893 491 894 491.1 895.9 495 897 508 890 508 890.4 499ZM903.6 496 905 495.7 907 496.5 910.9 500 911.7 503 911.7 508 900.8 508 901.7 499 902.5 497ZM777.7 500 780 500.3 783 502.6 784.1 504 784.7 508 778.6 508 778.6 506 777.1 502Z"/>
<path id="c12" d="M168.2 311 169 310.3 170 310.4 174 315 177 316.2 180 315.5 184 313.3 188 312.3 194.8 330 195.1 344 196.1 350 198 354.6 200 356 201 355.8 203 353.5 205.2 349 207 342 207.4 335 208.7 326 211.4 320 212 319.3 213 319.3 215 320.3 218 322.8 219 324.8 220.9 337 221 353 221.7 359 221 364 218.4 370 217.2 378 214 376.5 208 379.3 206 378.8 203.4 375 201 365 199 362.6 198 363.1 196.7 373 195.2 377 193 379.4 188 380.8 185.5 384 183 402.4 183.2 409 186.1 421 191 432.8 193 436 201 444.6 204.1 453 206 456.7 213 463.2 218 460.6 224 459.1 228 457 230 457.3 236 462.2 238 464.5 239.4 468 241.2 476 243 478.6 245 479.9 248 480.4 253 479.6 255 479.8 259 481.4 265 486 265.6 486 255.2 465 253 462.8 249 461.2 246 458.6 243.5 455 241.9 450 242 448 243 446.6 247 446.4 250 444.6 251.9 442 252.3 440 248 421.3 246.5 417 247.6 409 248 408.1 251.8 405 252.7 403 250.5 390 247.5 385 247.2 383 247 342 248 339 252 338.7 257 340.2 259.3 344 262.8 356 269 370.7 271 372.9 277 375.6 279 374.9 282 371.2 283 370.7 290 374.5 292 374.7 294 373.9 297 370.7 302 361.2 305 358.1 308 356.2 314 354 320 350.6 320.7 351 322 357 322 367 323 374 323.3 385 324.6 394 327.8 406 330.5 411 337.2 417 342 423.4 344 426.9 351 434 353 434.6 357 434.5 358 433.9 359.9 429 362 419 369 410.6 371 409.7 373 409.9 376 412.7 378 413.5 380 412.9 382 411.4 386 410.7 387 409.6 389.4 399 394 383 395 373 395.6 356 396.6 350 398 346.4 399 345.4 405 344.6 406.8 354 408.2 374 410.7 390 408.7 407 406.7 415 404.9 419 404.8 421 407 424.8 409.8 432 432 464.4 433.6 466 435.8 467 441 466.7 442 467.9 444.1 474 447 487.6 449 491 452 493.9 456 495.7 465 495.7 468 496.7 474 496.7 477 495 481 488.4 487 487.5 488 487.9 497 497.1 499 498.5 501 498.5 504 496.3 505 496.3 508 498.9 510 499.6 512 498.9 514 497.3 515 497 518 498.1 524 495.5 527 495 530 496.1 536 500 541 505 542 504.8 549 496.4 552 494.8 555 495.4 558 497.1 562 502.8 564 504.7 571 498.6 577 499.8 583 496.6 586 495.7 593 497.1 600 500.1 602 500.1 606 498.3 608 498 615 499.7 617 498.9 622 493.3 623 493 627 498 630 500.5 632 500.5 637 497.4 640 497.9 642 496.9 643 497 644 500 644.8 508 439 508.5 364.8 508 364.7 505 363.9 502 363 500.8 360 499.4 358 495.9 355 484 350 482.3 344 477.4 336 474.9 334.5 476 333 479.9 332.1 486 333 489.3 339 499.1 340.5 504 340.8 508 315.2 508 314.9 505 308 491.9 304 490 300 486.7 298 486.2 296 486.3 294 487.5 291.9 490 290.5 493 290.1 496 291.2 503 291.3 508 277.2 508 278.4 488 277.7 486 275 485 273 486.1 270 490 271.2 499 271.4 508 242 508.4 185.9 508 185.4 504 182 496.9 180.5 492 180.1 487 180.8 480 180 478.7 178 478 174 478.5 171 480 169 482.3 167.8 485 167.4 490 170.7 501 169.8 508 154.6 508 154.6 506 154 505.3 153 505.5 152.8 508 98 508.1 97.5 429 98 410.7 100 410.7 102 409.9 110 402.1 117 397.9 119 396 123 396.7 130 395 131 396.1 135 404.7 137 406.9 139 407.6 143 406.1 146 417.2 147 419 152 422.2 153 422.4 155 420.9 156.1 419 156.8 416 154.2 393 154.4 389 155.8 382 155.6 372 154.9 369 151.7 362 156 360.9 158 358.7 159.6 355 160.9 348 162 335 162 323 163 316.8 164 314.5ZM931.5 338 934 337.3 935.3 338 937 339.9 940 347 942 357.6 944 357.6 944.4 415 944 448.4 938 447.6 931 451.9 929 452.1 926 451.3 924 451.9 918.1 456 913 462.3 910 463.1 908 464.2 903 470.9 901 471.6 897 470.7 896 471 889 476.5 887.6 480 885.7 508 826.6 508 826.6 506 822.7 499 821 494 820.9 491 822.5 488 823 484.3 824 484.4 826 486.7 828.3 491 831.3 494 836 496.5 836.6 495 836.6 493 834.6 487 831.3 481 826.5 474 824 469 819.2 465 814 457.7 811 456.3 808 457.3 807 457 802.6 454 800.6 452 797.4 445 795.5 437 796 434.4 799 434 799.8 433 796 425 795.1 422 795 420.2 796 419.8 797.2 421 802.2 431 806.2 434 810.5 436 815 439.3 816 439.7 817 439.5 817.2 436 816.5 431 817 429.7 818 429.2 821 430 824.1 434 826 435.4 828 435.7 828.3 435 828.6 433 827.8 430 823.7 425 820.1 419 813.6 405 811.7 399 811.8 395 814 391.3 814.3 389 813.3 377 814.1 371 817 369.9 820 367.2 821 367.4 826 392 826.5 400 824.2 404 824.5 408 827 414 830.3 419 833 420.2 834.3 420 837 418 838 418.1 842 421.2 845 424.9 847 425.6 851.1 424 855 426.9 858 427.3 865 433.9 868 435.9 870 436.7 872 436.5 875 434 881 425.7 888.4 411 889.9 407 893 393.7 894 393.6 897 398 899 399.5 903 399.5 906 396.7 910.6 385 912.1 374 913 373.2 915 373.7 917 372.9 919 371 923.4 365 925.6 359 930 341.8ZM660.8 352 663.7 353 665.5 355 668.8 362 669.3 365 669 366.2 668 366.7 664 365.6 661 365.7 659.5 365 657.9 360 657.6 357 658.7 354ZM764.4 362 765.3 362 766.3 364 766.5 367 765.7 371 769 381 769.7 385 768.6 388 766 389.1 764 390.7 761 387.8 760.8 386 762 385 762.2 384 759.6 376 757.2 371 760 366.2ZM673.8 365 675 364.3 676 364.7 678.8 368 680.1 371 679.2 373 677 373 675 372.1 673.1 370 672.6 368ZM791.5 365 792 364.3 793.6 366 797.3 374 797.8 377 797 377.7 794.9 378 794.4 380 795.2 391 794 400.8 792.9 399 788.7 371ZM711.2 384 712 383.1 715.9 389 719 392.2 721.4 396 721 397.2 716 397.3 714.1 396 713.6 393 711.7 388ZM287 430.7 286 431.5 285.8 433 290 441.5 292 442.9 296.3 442 297.2 441 297.2 439 294.2 433 291 431ZM692.7 447 695 449 696.1 452 696 453.4 694 452.7 692.6 451 691.8 448ZM828 456.3 828 459 829.3 462 832 465.3 833 465.8 834 465.4 834.1 464 833.1 461 829 456.2ZM370 483.9 368.9 486 368.9 490 370 495.1 372 499.4 373 498.1 374.2 494 374.7 489 374 485.8 373 483.8 372 483.2ZM904 499 905 498.2 906 498.4 908.6 501 909.2 503 909.4 508 902.8 508 903 503ZM892.9 501 893 500.5 894 500.1 894.7 508 892.2 508ZM779.1 504 780 503 781.7 504 783.2 506 783.2 508 779.7 508Z"/>
<path id="c13" d="M168.7 312 170 312.2 175 317.1 177 317.8 183 315.1 188 314 194.2 330 194.7 345 196.7 356 193.5 364 193.7 373 193.2 375 191.7 377 187 379.7 185.1 382 184.3 384 181.4 406 181.8 412 183.8 420 190.3 435 192.2 438 200 446.3 205.2 458 212 465 214 465.1 218 462.4 224 460.6 228 458.5 230 458.8 236 463.7 237.8 466 240.8 476 243 479.2 246 480.7 253.3 481 258 483 261 485.1 264.4 489 268.4 496 269.6 501 269.9 508 242 508.4 187 508 186 501.4 182 491 181.9 487 183 481 182.9 479 181 476.5 179 475.5 171 479.4 169 481.6 167.8 484 167 487 167.1 490 170 501 169.7 503 168 506 168 508 156.6 508 156.1 505 155 503.8 153 502.9 151.5 504 151.1 508 97.9 508 97.5 429 98 411.5 102 410.8 110 403.1 117 398.8 119 397 123 398 130 396.4 136 407 139 408.5 142 407.3 142.9 408 146 420.7 148 424.7 152 426.8 153 426.5 155 424.3 157.2 420 158 416 155.3 393 155.7 389 157.1 384 157.3 373 156.8 370 154 365 153.5 363 157 361 158.9 358 160 355.1 161.3 348 162.3 335 162.4 323 163.1 319 164 316ZM211.9 320 214 320.1 216.8 322 218 323.3 219 325.7 220.6 337 220.9 353 221.5 359 221 363.1 217.8 371 217 376 214 375 208 377.3 206.8 377 205.2 375 203.1 365 199.4 358 203 354.2 205.4 349 207.2 342 207.5 335 208.8 326ZM248 340 252 339.6 257 341.2 259 344.4 262.3 356 268.6 371 271 373.8 277 376.5 279 375.8 283 371.6 290 375.3 292 375.5 294 374.8 297 371.7 302 362.1 305 359.1 308.2 357 314 354.9 320 351.6 320.8 353 321.6 357 321.7 367 322.6 374 323 385.4 324.5 395 327.7 407 330.8 412 337 417 342 423.7 344 427.3 351 434.3 353 434.8 357 434.8 358 434.2 360.1 429 362.2 419 364 416.6 369 411.9 373 411.2 378 414.3 382 413 387 413.2 388 412.5 390 402 395 384 396.2 359 397 352.2 399 348.9 403 347.1 405 347.1 406.6 355 407.8 374 410 389 409 399 405.9 413 404 417.5 401 420.6 397.9 419 395 418.8 394.2 420 394.5 421 397 423.1 398.4 423 401 421.4 404 423.2 406 425.7 409.7 433 417.2 443 431.9 465 434 466.7 436 467.4 441 467.4 443.9 475 446 486.1 449 492 452 494.8 455 496.3 465 496.6 468 497.5 474 497.5 477 496 481 489.7 487 488.6 488 488.9 497 498 499 499.3 501 499.3 504 497.2 505 497.2 508 499.8 510 500.5 514 498.4 517 499.7 525 496.9 529 497.4 534 500.3 537.4 503 538.5 505 538.7 508 439 508.4 374.8 508 375.1 502 377 493 375 484.9 373 481.4 371 481.1 366.5 484 364 488.7 361.8 496 361 497 360 496.8 359 495.4 358.1 492 358.6 485 357.4 483 355 481.6 350 480.7 345 477.2 336 472.8 334 473.3 333.1 475 331.6 486 332.8 490 336.8 496 338.8 500 339.9 504 340.1 508 325.7 508 325 504 323 501.3 322 501.5 321.4 503 320.9 508 316.7 508 316.4 505 313 500 308.4 490 304 488.7 299 485.1 296 485.1 293 487.3 289.6 492 288 496.8 285 486.4 283.6 484 275 482.8 270 485.6 268 484.6 264.8 480 260.5 470 255.6 463 253.7 461 248 457.8 244.9 454 243.2 450 243.6 448 247 447.3 249 446.2 251.3 444 252.4 442 252.6 438 247.2 417 247.1 415 248 410.8 248.7 410 252 407.8 255.2 407 257.2 405 260.2 389 259.5 387 258 386.4 256 387.7 254 390.2 253 390.1 248 383.7 247.5 379 247.4 363 247.4 343ZM931.8 340 934 340 935 340.5 937.2 344 938.4 349 940.5 367 942 371 944 371 944.4 415 944 446.6 938 445.7 931 450 925 449.5 918.2 454 913 460.2 908 462.4 902 469.8 900 470 897 468.8 896 468.9 889 474.5 887.3 477 886.4 480 884.3 508 857 508 856.8 503 856 500.2 855 503.3 854.9 508 827.1 508 827.1 506 823 499 821.6 494 821.7 492 822.6 491 824 486.7 825 486.9 829 494.2 832.3 496 835 499 837 499.6 837.8 499 838.2 496 836.7 490 834.4 484 827.8 474 825 467.3 820 464.9 815 458 813 456.2 811 455.3 807 455.8 803.3 454 801 451.9 797.9 445 796.5 439 797 435.8 801 435.8 802 433.7 803 433.3 812 437.9 817 441.7 818 441.9 818.5 441 817.8 434 819 431.7 821 432.2 827 437.3 828 437.5 829.3 436 829.3 433 828.4 430 820.7 419 813.1 402 812.9 396 814.4 394 815.2 391 813.9 379 814.8 372 820 368.3 821 369.2 825.4 391 826.1 399 823.6 403 823.4 406 825 411 829.1 419 833 421.9 837 420.5 839 420.7 842 422.5 844 425 846 426.3 848 426.3 850 425.3 855 428.2 858 428.4 864 434 868 436.8 870 437.5 872 437.3 875 435 882 424.9 889.3 410 893 395.6 894 395.3 897 399 900 400.5 903 400.3 906 397.7 911 385.9 914 383 915 376 919 372 924 364.8 926 359 930 343.4 931 340.6ZM660.3 355 662 354.2 663 354.9 664.2 357 664.7 360 664.4 361 663 362 661 361.7 659.8 360 659.4 357ZM791.6 366 792 365.4 793 366.1 795.8 374 792.6 376 792.6 379 794.3 389 794 391.8 793 391.9 791.9 388 790.7 377 789.4 371ZM760.6 367 761.4 367 764 370 766.9 376 768.4 381 768.7 384 768 386 767 386.6 765.1 386 764.2 385 757.8 371ZM712.7 387 713 386.3 719 393.6 719 395.3 717.2 395 715.9 394 714 391ZM285 429.5 283.8 431 284.1 433 290 445.1 292 446.5 294 446.5 296 446 299.1 444 300.4 442 300.2 440 295 432.2 290 429.4 287 429ZM827 454 826.9 457 828.7 462 830.6 465 833.8 468 835 468.3 835.3 466 833.8 461 830.1 456ZM111 469.6 110 470.2 109.3 472 108.9 478 110 483.5 111 485.2 112 485.3 113.2 483 113.6 477 113 472.4 112 470.2ZM621.7 495 623 494.2 624 494.9 627 499 630 501.3 632 501.3 637 498.8 639 499.7 642 498.5 643 498.7 644.4 508 566.8 508 567.4 504 569 501.8 571 500.3 573 500.3 577 501.5 583 498.1 586 497.1 593 498.7 600 501.8 602 501.8 607 499.7 615 500.5 618 499ZM550.1 497 552 496.3 554 496.5 558 498.5 561.4 504 561.8 508 544 508 544.1 505 544.9 503ZM366.8 501 367 500.3 368 500.3 368.6 502 369.2 508 366.6 508Z"/>
<path id="c14" d="M168.6 314 170 314.3 175 318.5 178 319.5 182 317.6 188 315.8 189 317.4 193.3 330 194.6 351 194.1 353 192 356.8 191.3 360 191.2 373 190.3 375 185 380 183.4 383 180.2 406 180.4 413 181.5 420 185 426.6 188.9 436 191.3 440 196 444.4 200 449.4 205 460.3 212 467.2 214 467.1 218.6 464 228 460 230 460.4 237 466.4 238.7 470 240.3 476 243 479.6 246 481.1 252.1 482 258 485 261 487.2 263.9 491 265.6 495 267.5 502 267.8 508 242 508.4 187.8 508 187 501.1 183.7 489 183.9 485 185.1 480 185 478.3 180 472.5 178 471.2 177 471.4 176 475 175.2 476 170 479.7 167.5 484 166.7 487 166.7 490 169 498 169.3 501 168 503.5 164.1 505 163 506 163 508 158.1 508 158.1 506 156.9 504 154 501.5 152 501.1 151 501.5 150.2 503 150.1 508 120.2 508 120.5 502 121.8 494 121.7 490 121 487.6 120 486.5 119 486.3 116 487.8 115 475 113 467.1 105 457.1 101 455.5 98 455.3 97.6 429 98 412.4 102 411.7 110 404 119 398.1 123 399.3 130 397.7 136 407.9 138 409.2 140 409.2 142 408.4 142.5 409 145.4 422 146.1 430 147 432.6 150 434.1 152.8 433 158 420.8 159.1 416 158.7 409 156.7 394 157 390.6 158.6 385 158.8 372 157.9 369 154.8 364 157 361.9 159 359 160.9 353 162.6 336 162.8 323 163.6 319 165 316.3 167 314.6ZM211.5 321 212 320.3 213 320.2 215 321 217.4 323 218.3 325 220.5 338 221.3 359 221 361.7 217.4 370 216.9 373 216 373.6 214 373.1 208 374.9 206.4 373 204.9 365 202 360.7 201 358 204 353 206.5 346 207.3 342 208.8 327 209.8 324ZM248.2 341 249 340.5 252 340.5 257 342.2 258.7 345 262 356.5 268 371 271 374.7 276 377.2 279 376.7 283 372.4 290 376.2 292 376.4 294 375.7 297 372.7 301 364.7 305 360 309 357.5 314 355.8 320 352.6 321.2 357 321.3 367 322.2 374 322.6 385 324.1 395 326.8 406 329.4 411 337 417.3 344 427.6 351 434.6 355 435.1 358 434.6 360 429.7 362 420.3 363 418.1 368 413.6 372 412.5 374 412.8 378 415.1 385 414.7 390 418.4 393.9 423 396 424.7 398 425.2 401 424.5 403 424.8 405 426.7 408.9 433 416 442 431.5 465 435 467.5 441 468.2 443.5 475 445.1 484 446.6 489 448.2 492 452 495.7 456 497.4 464 497.4 468 498.4 474 498.4 477 496.9 481 491 487 489.7 488 489.9 497 498.9 499 500.2 501 500.2 504 498.1 505 498.1 509 501.2 511 501.2 514 500 517 501.3 524 498.9 527 498.6 530 499.7 535.2 503 536.6 505 536.9 508 439 508.4 379.7 508 379.9 504 381 499 380.9 496 380 492.9 377 487.2 375 482 373 479.3 371 479.3 364 482.5 361 482.8 355 480.3 349 479 337 471.6 335 471 333 472.1 331.8 474 331.1 486 332.3 490 336.2 496 338.2 500 339 503 339.3 508 327.4 508 327.1 505 323 498.4 322 497.9 321 498.1 319 502.9 318 503.5 315 501.3 312 496 309.5 486 309 484.8 308 484.3 306 486.9 304 487.1 299 482.2 297 482.2 295 483.5 291 488 289 489.3 288 488.4 286.6 483 285 481.2 275 480.8 271 483.2 269 483.2 265.8 479 261 466.5 255 459.8 249 456.1 246 452 245.3 450 245.9 449 251.2 445 253.2 441 253.1 438 247.8 416 248 413.8 250 411.4 255 409.4 259.3 406 260.1 404 262.1 389 261.5 386 259 384.4 257 384.9 254 387 252 386.7 249.5 384 248.1 381 247.7 345ZM930.9 343 932 342.3 934 342.9 936 346 937.4 362 938.6 369 941.6 379 942 379.6 944 379.6 944.4 415 944 444.7 938 443.8 933 447.3 931 448.1 926 447.4 925 447.7 918 452.5 913 458.2 908 460.6 902 467.9 900 468.2 897 466.7 896 466.7 889 472.7 887 475.3 885.4 479 882.7 508 858.8 508 858.7 496 858 492.8 857 491.5 856 491.6 855 492.7 854 495 852.7 501 852.4 508 827.6 508 827.6 506 825 502 822.8 497 822.3 494 823 492.3 825.2 492 829 498.8 830 499.6 834.4 501 837 502.8 839 502.7 839.6 502 839.7 496 836.2 481 832.9 476 829 471.3 827.1 467 825 464.9 824 464.4 821 464.5 820 463.8 815 457.4 812 455 810 454.3 806 454.8 804 454 801.6 452 799.5 448 797.6 442 797.4 439 798 437.7 802 437.6 804 435.6 806 435.9 810.4 438 816 442.1 819 443.3 819.6 441 819.1 439 819.1 435 820 433.7 822 434.6 828 439 829 438.7 830 436.6 829 430 827.4 427 825.4 425 821.3 419 815.9 408 813.8 402 814 398 815.9 394 816.1 392 814.6 379 815.7 373 820 369.3 820.6 370 825.2 393 825 398.9 823 401.3 822.7 406 825.7 414 828.2 419 830.4 422 833 423.1 839 422.3 842 423.6 844 425.9 846 427.2 848 427.2 850 426.4 855 429.2 858 429.4 864 434.9 868 437.7 870 438.4 872 438.2 875.8 435 882 426 889.8 410 893 397.5 894 396.8 895 397.3 897 399.9 899 401.2 902 401.4 904 400.7 907 397 911 388 912 387.3 917 386.4 918 385.2 918.6 374 923 367.7 924.8 364ZM402.5 349 404 348.5 405 348.8 406 354 407.4 374 409.2 389 407.9 400 404.3 414 402.6 417 400 418 392 416.9 390.4 415 389.7 411 391 403.2 394.2 393 396.1 384 397.5 355 399 351.3ZM791.7 367 792 366.5 793 367.3 794 370.8 793.8 372 793 372.6 791 372.2 790.3 371ZM759.6 369 760 368.4 761 368.5 764.8 373 766.2 376 767.6 381 767 383.9 766 384.1 765 383.4 762 379 758.5 371ZM284 428 282.4 429 282.1 430 282.7 433 288 445.1 290.5 449 292 449.8 295 449.9 299 446.9 303 445.8 303.8 445 303.7 442 302.7 439 296 431.5 290 428.2 287 427.7ZM826 452.3 825.4 454 826.8 459 829.7 465 835.2 471 836 471.5 837 471.2 836.6 467 834.6 461 830.9 456 827.6 453ZM98 461 98 460.4 100 460.4 101 461.6 105 470 107.4 484 108.9 488 112 491.2 115 490.6 115.3 491 116.5 508 98 508 98 496 103 496.2 103.4 493 102.6 484 101.3 478 100 475.8 98 475.8ZM873 479.3 872.5 481 873 481.7 874.1 480ZM621.9 496 623 495.6 624 496 627 499.9 630 502.2 632 502.2 636 500.2 639 501.7 642 500.2 643 500.5 644 508 568.5 508 569 504.1 571 502 573 502 577 503.6 585 498.8 587 498.6 594 500.8 601 504.2 606 501.6 611 501.8 616 501.2 618 499.9ZM551 498 555 498.1 558 499.9 560.3 504 560.7 508 545.4 508 545.5 505 546.3 503 549 499.4Z"/>
<path id="c15" d="M167 316 169 315.4 170 315.7 175 319.9 179 321.3 181.8 321 186.7 318 188 317.7 191 324.6 191.7 328 192.8 344 189.7 360 189.3 372 188.6 374 183 380 182 382 179.1 407 179.7 421 184 428.5 188 438.8 190.2 442 195 446.3 200 452.3 205 462.9 212 469.5 214 469.2 219 465.7 228 461.6 230 461.9 235 465.9 237.5 469 239.9 476 242 479.2 245 481.2 251.3 483 259 487.5 262 490.5 263.8 494 264.9 498 265.8 508 242 508.4 188.5 508 188 502.1 185.4 489 185.5 485 186.9 479 186.6 477 179 468 174 463.4 173 463.2 172.6 467 174.1 473 174.1 475 169 480.4 167.1 484 166.4 487 166.6 491 168.6 499 168.3 501 167.6 502 160 504.9 154 500 151 499.5 150 499.8 149.2 501 149.2 508 131.2 508 130.9 505 129 502.9 128 502.9 127.2 504 126.8 508 121.9 508 122.1 503 123.8 494 123.7 488 122.3 484 118 480.3 117 477.9 113.4 463 113.3 457 109 456.2 101 452.6 98 452.4 97.6 429 98 413.2 102 412.6 110 404.9 119 399.2 123 400.6 130 399 136 408.8 138 410 142.1 410 144.2 419 145.5 431 146.2 433 148 434.6 150 435.3 153 435.3 155.1 434 159.8 418 160.3 414 159 394 160.4 384 160.2 372 159.4 369 156.1 364 159 360 161.1 354 163 336 163.2 323 164 319ZM211.9 321 213 320.6 215 321.4 217 323 217.6 325 218.1 332 220 336.1 220.3 338 220.6 354 221.2 358 221 360.2 220 362.3 215.8 365 212.4 370 210 371 208.8 370 207.2 365 203.6 361 202.1 358 206.7 346 207.5 342 209 327 210 324ZM248.5 342 249 341.4 252 341.3 256 342.4 257 343.2 258.6 346 262 357.8 267.4 371 270 374.8 276 378 279 377.6 283 373.3 290 377 292 377.2 294 376.6 297 373.7 301 365.7 305 360.9 309 358.3 313.1 357 320 353.7 320.9 358 321 367 321.9 375 322.2 385 323.7 395 326.7 407 328.1 410 329.8 412 337 417.5 344 427.9 351 434.9 353 435.4 357.7 435 359 433.2 360.1 430 363 418.4 367 415.1 373 413.8 378 415.9 385 416.6 390 421.5 396 426.3 403 427.1 416 442.8 431.9 466 435 467.9 440 468.4 440.9 469 443.3 476 446.1 489 448 492.7 452 496.6 456 498.2 464 498.2 468 499.2 474 499.2 477 497.8 481 492.3 484 491.3 488 491 497 499.8 499 501 501 501 504 499 505 499 509 502 513 501.4 516 503.1 518 502.8 524 500.5 527 500.4 530 501.5 533.5 504 534.5 506 534.5 508 439 508.4 383.6 508 383.7 501 382 493.2 380.7 490 373.9 478 372 477.3 365 480.7 360 481 354 478.8 349 477.8 340.7 473 337 470.2 335 469.5 332.1 471 330.3 473 330.9 479 330.6 486 331.7 490 336 496.6 337.6 500 338.2 503 338.2 508 329.2 508 328.8 505 324 497.2 322 495.3 321 495.1 319.2 496 317 500.1 315 499.1 313 495.2 311.2 485 309 480.1 308 479.3 307 479.4 305 483.7 304 484.4 303 483.6 302.4 481 301.8 472 300.8 469 299 467 298 467.3 297 469.1 293.1 482 291 485.3 290 485.3 288.2 481 287.2 480 285 479 279 479.3 275 478.9 273 479.5 271 481.1 269 481 266.2 477 263 466.9 261 463 255 457.4 250 454.5 247.8 451 248.1 449 252.6 444 253.7 440 250.1 425 249 415.8 251 413.1 255 411.5 259 408.6 262 407.6 262.3 398 263.8 388 263 385 261 383.2 258 382.8 254 385.3 253 385.4 251 384.1 249 380.8 248.4 377 248.8 370 248.1 364ZM931.9 345 933.3 346 934.3 348 936 365.2 939.8 380 941 382.2 944 382.7 944.4 415 944 442.8 938 442 932 446 930 446.4 926 445.6 925 446 922 448.6 918 451 913 456.3 908 458.8 902 465.8 900 466.1 897 464.6 896 464.7 888.8 471 886.5 474 884 479 882 493.6 881 497 880 497.9 879 497.6 878 498.4 877 503 876.9 508 860.2 508 860.4 491 859 487.4 857 486.2 855 487.4 853 491.9 851 501 850.5 508 844.1 508 843.9 503 838.5 478 839.4 474 839.2 472 837.8 467 834.9 460 828.7 453 825 450.2 824 451 824.7 454 828.3 465 828 465.7 824 462.8 820 462.5 815.3 457 812 454.5 810 453.6 805 453.9 802 451.9 799.9 448 798.4 442 799 439.6 802 439.6 805 437.6 806 437.6 813 440.3 819 445 820 445.2 820.7 445 821.1 444 819.9 439 820 437 821 435.6 822.4 436 825.6 439 828 440.1 830 439.2 830.5 438 830.3 433 828.4 427 821.8 419 816.5 408 815 403 815 400.1 817.3 394 815.4 382 815.8 378 817 376 816.9 373 820 370.3 821 372.8 822 379 821.1 381 824 389.9 824.6 394 824.1 397 822 400.3 821.6 405 822.2 408 829 422 832 424 838 423.8 841 424.3 846 428 848 428 850 427.3 855 430.1 858 430.2 864 435.8 868 438.6 870 439.2 872 439 875.7 436 882 427.1 889.9 411 893.1 399 894 398.3 895 398.5 897 400.8 899 402 903 402 906 399.7 911 390 913 389.1 918 388.7 920 387.5 920.8 384 920.8 372 924.9 365 930 347.1 931 345.1ZM402 351 404 350 405 350.8 405.8 355 408.5 388 407 399.1 403.2 413 402 415.5 400 416.5 393 415.1 391.8 414 391 411 392 405 395 395.4 397 385 397.8 364 398.6 356 399.8 353ZM759.9 370 761.1 370 765 375.3 766 378 766 381.1 765 381 763.1 379 760 371.9ZM282 426.9 280.6 428 281.2 432 284 440.1 290 451.7 292 453 295 453.6 299.8 449 305.2 448 306 446.9 306.2 444 305.9 439 305 437 302 435.2 297 430.6 291 427.4 287 426.4ZM828.5 466 830.4 467 832.9 470 834.6 473 834.1 474 830.7 471 828.9 468ZM874 475.9 872 476.9 869.6 481 870 485 871 487 872 487.8 874 486.9 875.8 485 877.5 481 876.6 478ZM108.8 495 111 495.9 113 498.7 114 502.9 114.2 508 107.3 508 107.6 498 108 495.8ZM823.2 495 824 494.2 826 495.6 827.5 499 833.3 506 833.3 508 828.3 508 828.3 506 823.9 499ZM621.4 498 624 497.3 628 501.8 630 503.1 632 503.1 636 501.8 639 505.2 642 502.2 643 502.9 643.4 508 604.1 508 604.1 506 605.4 504 607 503.5 610 504 612 503.6 617 501.7ZM550.1 500 553 499.2 557 500.3 559.4 504 559.7 508 546.6 508 547.1 504ZM583.3 501 585 500.2 587 500.1 594 502.6 596.9 505 597.3 508 579 508 579 506 579.7 504ZM571.9 504 573.5 505 573.9 508 570.4 508 570.7 505Z"/>
<path id="c16" d="M167.7 317 170 317.1 175 321.2 180 323.5 184 326.1 185 325.8 186.5 321 188 320.1 189 321.5 189.9 325 190.4 347 187.8 364 187 373 185 375.9 183 377.1 182 376.9 181.3 376 179.8 372 178 371.6 176.9 373 179.7 387 178.1 406 177.9 421 179 424.1 183.1 431 187 442 189 444.7 194 448.5 199 454 204.7 465 211 471.4 212 471.9 214 471.4 220 467.1 228 463.1 230 463.5 235 467.4 237 469.7 239.9 477 242 479.7 245 481.7 250 483.5 253 486 259 489.5 261 491.4 262.5 494 263.7 498 264.4 508 189.2 508 186.6 488 186.9 484 188.1 479 187.8 476 186 472.4 183 470.2 178 463.5 173 459 172 459.1 171.4 460 170.9 462 171 467 172.3 475 167.6 482 166.1 487 166.2 491 167.8 498 167 500.7 160 503.2 158 502.1 154 498.4 150 497.7 149 498 147.9 500 148.3 508 133.3 508 133.2 505 132.4 503 127.2 494 124.3 482 123 480.1 119 477.1 117.9 475 115.1 464 114.9 461 115.5 457 115 455 113 454.3 109 454.4 101 451.1 98 450.9 97.6 429 98 414.1 102 413.5 111 405 119 400.4 123 401.9 128 400.4 130 400.3 136 409.7 138 410.9 141 410.7 142 411.5 144.1 422 144.8 431 146 433.8 148 435.4 152 436.4 155 436.4 156.2 436 156.9 435 158.3 426 161.5 415 161.7 407 161 396 162.5 381 161.1 370 157.4 364 160.4 358 161.9 352 163.3 336 163.5 324 164 320.9 165 319ZM212.9 321 215 321.8 216.2 323 216.8 333 220 337.7 220.5 354 221 358 220 360.8 219 361.4 215 362.1 211 363.6 206 361.6 204 359.5 203.1 357 207.3 344 208 335.9 209.8 325 212 321.3ZM248.7 343 249 342.4 252 342.2 256 343.2 257 344.2 258.4 347 265.3 369 270 375.8 276 378.9 279 378.5 283 374.2 290 377.9 292 378.1 294 377.5 297 374.6 301.5 366 305 361.8 309 359.2 314 357.5 319 354.9 320 355.4 320.5 358 320.6 367 321.5 375 322 386 323.5 396 326.6 408 329.3 412 337 417.8 344 428.2 351 435.2 356 435.7 358.1 435 360.2 430 362.9 419 365 417 370 415.6 374 415.3 381 418.1 385 418.6 389 422.8 395 427.1 398 428.4 402 429 404 430.3 415 442.2 431.5 466 435 468.2 440.1 469 442.9 476 444.5 485 446 490.1 448 493.6 452 497.5 456 499.1 464 499.1 468 500.1 474 500.1 477 498.7 481 493.6 484 492.4 488 492 498 501.5 501 501.9 504 500 505 500 509 502.9 512.4 503 514.8 506 514.8 508 439 508.4 397.6 508 397.6 506 397 505 394 503.2 392 503.4 389 505.4 388 505.5 386 501.3 381.8 488 378 482.8 374 476 372 475.5 365 479.5 360 479.8 354 477.6 349 476.7 342 472.6 337 468.9 335 468.1 330 470.3 327 470.4 326.8 471 329.9 478 330.1 486 330.7 489 335.6 497 337.1 501 337 504 335.5 506 335.5 508 332.5 508 332.5 506 328.4 502 323 493.7 321 492.4 317 492.6 315.8 492 310 478.5 308 476 305 474.6 301 465.2 297.2 460 297.4 456 299.4 452 301 450.9 306 450 307.1 449 307.6 447 307.5 439 307 435.9 306 434.8 302 432.8 298 429.3 290 425.8 287 425.1 279 425.7 278.2 426 277.8 427 284 443.5 288.2 452 290 454.7 293.3 457 295.6 460 295.5 466 293.8 473 291 478.5 290 478.7 285 477.1 278 477.5 275 477 273 477.4 271 478.8 269 478.7 266.7 475 262 461.3 255 455.1 251 452.9 249.4 450 250.2 448 253.3 444 254.2 440 250.5 425 249.9 420 250.2 417 251 415.7 255 413.5 259 410.5 261 410.7 264 412 264.8 411 263.7 400 265.7 387 264.6 384 261.1 381 258 381.1 255 383.2 253 383.8 251 382.3 249.8 380 249.3 377 249.7 369 248.5 363ZM930.9 348 932 348.8 932.7 351 935.1 369 938.4 381 940.5 384 944 384.6 944 440.9 938 440.1 932 444.2 930 444.5 927 443.8 925 444.3 922 447.2 917 450.5 913 454.3 907 457.8 902 463.6 900 464 897 462.7 895 463.5 888 470 884 475.9 882 477.9 880 477.8 874 473.6 872 474.6 868 479.1 864 479.6 860 481.5 857 481.4 855.1 482 854 483.8 851.4 492 848.3 504 848.1 508 847 508 846.8 504 844.3 492 842.5 476 841.5 472 835.6 459 824 448 822.3 445 821.4 442 821 439 822 437.7 827 440.8 829 441.2 830 440.8 831 439 831.3 436 829 425.8 828 425 827.8 424 824.8 422 819.9 414 816.3 405 816.2 401 818.4 398 819 397.6 819.6 398 821.2 408 825.4 416 828.4 424 829.5 425 832 425.5 841 425.4 846 428.9 848 428.9 850 428.2 854 430.5 858 431 864 436.7 868 439.5 871 440.1 873 439.5 876 436.6 882.1 428 890 412.1 893 401.1 894 399.6 895 399.6 897 401.7 899 402.9 903 402.9 906 400.6 909 394.7 911 392.1 914 390.9 919 390.4 922.1 388 922.8 382 922.3 371 925.4 365 930 348.9ZM403.5 352 404 351.8 404.8 353 405.3 355 407.7 387 406.4 396 402 412.6 401 414.3 399 415.1 394 413.5 392.8 412 392.7 410 395.1 401 398 385 399 366.2 400.3 357 401.4 354ZM818.9 372 820 371.4 820.2 372 820.6 374 820 375.5 818.1 374ZM816.8 380 818 379.9 819 380.8 820.8 384 823 390.2 823.1 394 821 395.3 820 395.4 819.1 394 817.2 388 816.2 382ZM805.5 440 807 439.6 812 440.6 817.5 445 821 447 822.6 449 825.1 456 826.3 461 826 461.9 823 460.9 820 461.1 814.9 456 811 453.4 805 453.3 802 451.3 800.4 448 799.4 442 800 440.9 804 441.3ZM136 464.7 134.9 466 134.9 470 136 473.8 137 474.4 138 472.5 138.2 468 137.1 465ZM872.4 496 874 495.8 874.4 497 874.6 508 870 508 870.6 499ZM824.6 497 825 496.4 828.1 502 831.3 506 831.3 508 829.2 508 829.2 506 828.4 504 825 499.5ZM623.1 500 624 499.2 625 499.7 629 503.6 635 505.7 635.1 508 613.4 508 613.4 506 614.4 504 618 502.8 621 504.1 622 503.1ZM551.1 501 555 500.9 557 501.7 558.5 504 558.9 508 547.9 508 548.3 504 549.7 502ZM584.6 502 587 501.7 592.9 505 593.6 506 593.6 508 581.2 508 581.2 506 582 504ZM521.8 503 526 502.1 529 503 531.1 505 531.5 508 517.5 508 517.5 506Z"/>
<path id="c17" d="M166.5 319 168 318.2 170 318.4 175 322.6 180 325.4 187 332.1 188 333.9 188.7 337 189.1 344 188.8 353 184.4 373 184 373.5 183 373.2 182.1 371 180 369.5 175 369.4 171 368 169.3 369 169 370 170 372.8 173 374.6 174.8 377 177.5 388 177.9 395 175.7 418 176 421 177.8 426 183 435.3 187 447.6 188 449.1 193 451 199 456.9 204 466.6 211 474.3 213 474.2 221 468.4 228 464.7 230 465.1 234 468 237 471.3 239.4 477 241.8 480 248.9 484 252 487.1 258 490.7 260.4 493 261.9 496 262.7 499 263.3 508 189.9 508 187.5 489 187.7 485 189.3 478 188 472.2 186.1 469 184 468.1 182 466.2 177 458.8 174 456.5 172 455.9 171 456 170.2 457 169.8 459 170.8 475 166.9 483 165.8 487 165.9 491 167.1 497 166.6 499 162 501.3 160 501.7 158 500.6 153 496.3 148 495.7 147 496.3 146.4 498 147.3 508 134.8 508 134.1 503 129.5 492 125.5 480 124 477.3 119.9 474 118 470.5 116.1 463 116.9 455 116 453.8 114.3 453 109 453.1 101 449.8 98 449.5 97.6 429 98 414.9 102 414.3 111 405.9 119 401.5 123 403.2 128 401.6 130 401.6 136 410.6 138 411.8 141 411.7 142 413.5 142.8 417 144.3 431 145.5 434 149 436.5 159 439.1 158.6 431 159 427 160.3 422 163.5 414 163.8 408 162.5 402 162.5 398 163 393.5 165.4 384 165.5 381 163.5 372 158.7 364 158.6 363 161 357.6 162.4 351 163.7 336 164 323 165 320.3ZM211.9 322 213 321.5 214 321.7 215.4 323 215.6 334 216.9 336 219 337.4 220 339.8 220.5 358 220 359.4 219 360 211 361.4 208 360.9 206 359.8 204.6 358 204 356 207.3 345 208.3 337 209.4 333 210 325.6ZM249.9 343 252 343 256 344.1 258 347 263.4 364 262.6 369 263 371 264 372 266 372.5 271 377.7 276 379.8 279 379.3 283 375.1 290 378.8 292 378.9 294 378.3 297.4 375 301.5 367 305 362.7 309 360 314 358.4 319 355.9 320.1 358 321.3 383 322.7 394 326.5 409 328.7 412 336.9 418 344 428.5 351 435.5 354 436 358 435.5 360.4 430 363 419.3 365 418 371 416.7 374 416.7 376 417.2 381 420.1 385 420.8 388.3 424 395 428.5 402 431.1 404 432.6 415 443 431.1 466 434 468.1 440 469.6 442.4 476 444.3 486 445.9 491 448 494.6 452 498.3 456 499.9 464 499.9 468 500.9 474 500.9 477 499.6 481 495 484 493.6 488 493.1 498 502.3 501 502.8 504 500.9 505 500.9 508 503.3 511 504.1 511.6 505 511.8 508 400.2 508 399.9 505 399 503.5 397.1 502 394 500.7 389 501.2 388 500.5 386 496.6 382 483.8 378 480.3 374 473.8 372 473.8 368 476.8 365 478.3 360 478.6 348 475 342.8 472 336 467.1 334 466.9 330 468.4 325 465.7 324 465.7 322.7 467 323 469.4 328.6 478 330.4 490 334.8 497 336 500 336 502 335.2 503 334 503.4 332 503 329 500.6 322 490.4 318 489 316 487.4 310 475.6 305 470 299.8 459 299.7 456 300.7 454 303 452.6 308 451.1 308.7 450 308.7 437 307.1 433 303 431.2 299 427.7 295 426.9 288 424 278 423.3 271 418.5 269 417.8 272 428 273 429.2 277 429.9 279 432.4 284 446.9 289 456.3 292.8 461 293.6 466 292.1 473 290 475.5 284 475.1 278 475.7 274 475 270 476.7 269 476.2 267 472.6 264.1 463 262 458.5 261 457.2 251.2 450 251.5 448 254.3 443 254.6 440 251.4 427 250.7 421 251 418.9 252 417.5 259 412.3 261 412.7 266 416.2 268.6 417 265.6 406 265.2 398 267 390.7 271 386.2 271.5 383 270 380.5 267 382 266 381.8 262 378.1 259 378.8 254 382.1 252 381.5 251 380.1 250.2 376 250.7 369 249 364.7 248.8 362 248.8 345 249 343.7ZM930 352 931 352.4 931.7 355 934.3 374 936.4 381 937.3 383 939 385 941 386 944 386.2 944 439 938 438.3 932 442.4 930 442.6 927 442 925 442.7 921 446.7 914 451.7 907 455.8 902 461.2 900 461.8 897 461.1 895 461.9 888 468.1 884 473.6 882 475.3 879 474.8 874 471.5 872 472.5 868 477 864 477.5 860 478.9 854 479 853 480.3 850 491.6 848 495.5 847 494.7 846 491 845 475.7 844 471.9 836.1 457 831.6 454 825.2 448 823.4 445 822.5 442 823 440.3 828 442.5 830 442.3 831 441.6 831.6 440 831.8 436 830.6 428 831.3 427 834 426.6 842 426.8 846 429.8 848 429.8 850 429 854 431.3 858 431.8 864 437.6 868 440.3 871 440.9 874 439.6 879 433.6 882.7 428 890.1 413 894 401 895 400.9 899 403.8 903 403.8 906 401.6 910 395 914 392.9 919 392.2 923.9 389 924.7 386 923.8 370 926.3 364ZM403.9 354 405 355.8 405.4 364 406 367 406.6 387 405.7 393 401 411 400 412.8 398 413.3 395.7 412 395.1 410 399.3 384 400.2 373 402.1 363 402.6 356ZM817.7 384 818 383 819 383.7 820 385.5 821 389 820 389.8 818.4 388ZM168 405.5 166.5 407 165.7 409 166.2 413 166.9 415 168 416 170 416.3 171 415 171.3 408 170 405.5ZM819.7 410 820 409.2 823 413.1 825.1 418 825 419.9 823.6 419 820.8 414ZM806.6 442 808 441.4 812 441.8 819.7 447 822.3 450 823.5 453 824.6 458 824 459.6 819 458.8 814 454.7 810 452.4 805 452.7 802.2 451 800.9 448 800.3 445 800.7 443 805 443.1ZM136 462.6 135 463 134 464.5 133.7 468 135 475.4 136 477.1 137 477.5 138 476.6 138.5 475 139 468 138 463.8 137 462.7ZM550.7 503 553 502.3 556 502.7 557.7 505 557.8 508 549.2 508 549.4 505ZM625 503 626 502.6 628 504.1 629 506 629 508 623.8 508 623.8 506ZM584.8 504 587 503.8 588 504.7 588.6 508 583.6 508 583.6 506ZM523.4 505 525 504.6 527.2 505 527.9 506 527.9 508 522.4 508 522.4 506Z"/>
<path id="c18" d="M166.9 320 168 319.5 170 319.8 174 323.2 180 327.2 185.6 334 187 337 188 346 187.6 355 184.5 365 183.3 367 182 367.6 176 367.7 171 366 169 366.4 165 368.7 164 368.6 162 367.1 159.8 364 159.5 363 161.6 357 162.8 351 164.1 336 164.3 324 165 321.8ZM212.9 322 214.3 323 213.8 334 214.9 336 219 339 219.7 341 220.1 357 219.7 358 218 359.1 211 360 207 358.7 205.5 357 204.9 355 207.3 346 208.9 337 210.8 334 210.9 325 212 322.7ZM249.9 344 252 343.9 256 345 257 346.2 262.8 364 260.5 369 258.8 376 256.2 379 254 380.4 252.7 380 251.5 378 251.6 368 249.6 364 249.2 362 249.2 346ZM318.7 357 319.8 359 321 384 322.3 394 326.1 409 328.2 412 336.6 418 344 428.8 351 435.8 354 436.3 358 435.8 360.5 430 363 420.3 364 419.5 372 418 376 418.8 381 422.1 385 422.9 395 429.8 401.8 433 414 442.8 430.7 466 434 468.5 439 469.7 440 470.5 442.3 477 443.9 486 445.4 491 448 495.6 451.7 499 456 500.8 464 500.8 468 501.8 474 501.8 477 500.5 480 497.1 483 495.2 488 494.2 498 503.2 501 503.6 504 501.8 505 501.8 509.8 505 510.2 508 401.8 508 401.7 505 400 497.8 397 498.9 390 498 388.3 497 386 492 383 479.6 382 479 379 478.9 378 478 375 472.5 374 471.5 372 472.1 366 476.8 363 477.5 360 477.5 348 473.7 343 470.9 336 465.8 334 465.6 330 466.6 325 463.3 323 463.3 321.2 464 320.4 465 321 468 323 472.7 328 480 329.5 490 333.9 497 334.7 499 334 501.1 333 501.2 331 500.3 322 487.7 318 485.7 315 482.4 310 472.6 305 465.7 302.6 460 302.1 457 303.3 455 305.3 454 310 453.5 310.4 453 309.8 436 308 431.2 307 430.2 303 428.9 300 426 296 425.9 288 422.8 281 422.4 276 420.5 272 417 269.6 414 267.6 409 266.6 404 267 396.5 272.7 386 273.1 383 272.7 380 278 380.6 280 379.5 283 376 290 379.6 294 379.2 298 375.2 302 367.2 305 363.6 309 360.9ZM928.9 357 930 356.1 931 360 932.1 375 931.3 380 929 383.8 928 384.2 926.9 382 925.1 370ZM403 374 404 373.3 405 376.9 405.1 387 401 404.8 399 409.8 398 409.5 397.6 408 398 399.1 402 376.4ZM171.5 383 172 382.2 173 382.1 174 383.4 176 392 176 401 175 406.1 174 407 170.5 402 169.7 400 170.7 386ZM934.4 387 936 386 941 387.6 944 387.9 944 437.1 938 436.5 932 440.5 926 440.5 921 445.3 915 449.6 906.7 454 901 459.5 897 459.6 895 460.6 887 467.2 884 471.3 882 473.1 879 472.7 874 469.5 872 470.6 868 475.1 864 475.6 860 477.1 855 476.7 853 477.1 851.5 479 849 488.2 848 488.6 847 485.3 846.6 477 845.8 473 837.8 456 836 454.2 833 453.3 829.3 451 826.3 448 824.6 445 825 443.1 830 443.6 832 442 832.4 436 831.4 431 832 428.6 833 428.1 841 427.8 842 428 846 430.6 848 430.6 850 429.8 854 432.1 858 432.7 864 438.5 868 441.2 871 441.8 873 441.2 876 438.6 882.7 429 890.6 413 894 402.4 895 402.1 899 404.6 903 404.6 906 402.6 910 397 914 394.9 919 394 924 391.4 927 391 931 391.7 932.8 390ZM164.7 397 165 396.4 166 396.2 167.9 400 167.6 402 166 403.5 165 403.5 164 401.3ZM117.5 403 119 402.6 123 404.5 128 402.9 130 402.8 136 411.5 138 412.6 141 413 142.7 419 143.9 431 144.9 434 148 436.8 153.7 439 156 440.5 162 447.5 166.6 451 167.8 453 169.8 475 165.7 486 166 497.5 162 499.9 160 500.3 158 499.2 153 494.6 146 492.3 144.6 494 144.3 497 146.1 505 146.2 508 136.1 508 136 505 135 501.4 126.5 478 124.9 475 120.7 471 119 468.5 117.3 463 117.7 459 119 456.8 120 456.2 123 455.9 123.6 455 123.2 454 122 453.5 119 453.9 114 451.6 110 452.1 108 451.7 101 448.4 98 448.2 98 415.8 102 415.2 111 406.8ZM257.6 415 260 414.1 265 418 268 421.6 272 432 273 432.6 277 432.4 279 434.9 283 448.2 291.3 464 291.6 467 291.1 470 290 471.9 289 472.5 278 474 274 473.1 269.9 474 268 471.7 264.9 462 262 455.8 253.8 449 253.4 448 254.9 443 255.1 440 252 427.9 251.5 422 252.2 420ZM163.7 418 165 417.5 166 417.7 173 420.4 183 440.1 187 454.3 188 455.7 191 454.2 193 454.6 199 459.9 204 469.2 210 477 211 477.7 212 477.5 221 470.2 226 467.1 228 466.3 230 466.7 236 471.5 239.5 478 241.2 480 247.4 484 251 488.2 256 491.2 259.2 494 261.5 499 262.3 508 190.8 508 188.3 488 188.7 484 190.3 477 188 466.8 187 464.3 185 465 183 464.5 177 455.5 174.7 454 170 452.1 168.7 451 166 444.3 161.2 437 159.8 432 159.8 427 161.2 422ZM809.9 443 814 443.9 818.6 447 821 449.3 822.9 453 823.6 456 823 457.8 818 456.8 809 451.3 805 452.1 802.8 451 801.4 448 801.3 445 802 444 806 445.2ZM136 460.9 133.1 463 132.7 467 134.1 477 135 479.2 136 480.2 137 480.3 138 479.7 139.1 477 139.7 468 139.1 464 138.2 462 137 460.9ZM552.2 505 555.4 505 556.1 506 556.1 508 551.5 508 551.5 506Z"/>
<path id="c19" d="M167.6 321 170 321.1 180 329 183.7 334 185.6 338 187 346.7 186.8 355 185.8 359 184 363.4 183 364.8 181 365.9 176 366.1 172 364.6 170 364.4 164 366.8 162 365.6 160.3 363 163.2 351 164.4 336 164.8 324 166 322ZM210.9 337 213 336.7 217 339 219 341 219.7 346 219.7 355 219 357.1 217.2 358 212 358.8 210 358.5 207.4 357 206.2 355 206.1 352 209 338.4ZM250 345 252 344.7 256 345.9 256.8 347 262.1 363 262 364.2 258.8 368 256.5 376 255 377.9 254 378.3 253 377.8 252.4 376 252.8 368 249.7 362 249.5 348ZM318.7 358 319.4 360 321 387 322.4 397 325.6 409 327.7 412 336.3 418 343.8 429 351 436.1 356 436.5 358.1 436 360.4 431 363 421.7 364 421.1 371 419.4 375 419.9 380 423.5 385 424.8 400 433.8 414 443.9 420 451.3 431 466.7 434 468.8 439 470.3 439.7 471 441.8 477 445 491.3 447 495.2 451 499.4 456 501.6 464 501.6 468 502.6 474 502.6 477 501.4 480 498.5 483.8 496 488 495.2 498 504.1 501 504.5 504 502.7 505 502.7 508.9 506 508.9 508 412.2 508 412.2 506 410 504 409 504.1 408.2 505 407.8 508 403.6 508 403 502 403.1 497 401 491.8 400 490.8 399 490.5 398.1 491 396 495 395 495.6 391 495.2 389 494.1 386.5 489 385.3 481 384 477.5 382 475.9 379 476.3 375 470.3 374 469.6 373 469.8 369 473.6 366 475.6 363 476.3 359 476.3 349 472.8 345 470.8 336 464.6 334 464.3 330 464.7 325 461 320 460.9 317 459.1 314 455.5 311.8 450 310.8 444 310.7 435 308 428.3 307 427.5 304 427.1 300 424.1 295 424.3 288 421.6 281 421 276 419 272.7 416 270.1 412 268.4 407 267.9 402 268.5 398 272 390.9 274.1 385 274.4 382 275 381.4 277 381.6 279 381.1 283 377 290 380.5 294 380.1 298 376.2 302 368.3 305.6 364 309 361.8ZM928.7 362 929 361.5 929.8 367 929 372.2 928 372 926.9 368 928 362.8ZM936 389 938 388.4 942 389.5 944 389.5 944 435.3 938 434.7 932 438.7 926 438.8 921 444 915 448.3 907 451.7 901 457.3 897 458.2 895 459.3 891 462.9 887 465.2 882 470.7 880 470.9 875 467.9 873 467.8 868 473.1 864 473.7 859 475.5 853 475.1 849 477.7 841 459.4 839 453.5 837 451.8 830.2 450 827.9 448 827.5 447 827.4 446 831.6 445 832.8 443 833.1 438 832.3 431 833 429.7 842 429.2 845 431.1 847 431.6 850 430.7 854 433 857 433 858 433.6 864 439.4 868 442.1 871 442.6 873 442.1 876.4 439 883 429.5 890.7 414 894 403.7 895 403.3 899 405.5 903 405.5 905.5 404 909 399.8 913 397.5 918 396.3 924 393.1 931 393.9 933 392.7ZM117.2 404 119 403.8 122 405.5 124 405.8 128 404.2 130 404 131 404.8 135.5 412 137 413.1 140.5 414 142.2 419 143.4 431 144.3 434 147 436.9 153 440 155.4 442 165.5 453 167.3 457 168.1 463 168.9 476 165.4 486 165.3 496 163.1 498 160 498.9 158 497.8 154 493.4 147 488.6 145 488.5 144 488.9 142.9 491 142.4 495 143.5 508 137.5 508 137.1 504 132.3 485 125.6 472 121 467.4 119 464 118.8 461 120 459 124 458.2 125.9 457 125.8 455 124.7 453 123 451.7 119 452 114 450.4 108 450.6 101 447.1 98 446.9 98 416.6 101 416.5 103 415.4 111 407.6ZM257.4 417 259 416 261 416.5 265.4 421 267.7 425 270.4 433 272 435.2 273 435.5 276 434.6 277 434.8 278.1 436 279.8 440 282.7 451 286.7 458 288.4 463 288.7 467 287.8 469 286.7 470 278 472.3 273 471.1 270 471.1 269 470 265.8 461 262.6 454 261 451.9 257 449 255.5 447 255.5 439 252.8 429 252.3 424 253 421.6ZM164 420 165 419.7 167 420.3 170.7 422 172 423.2 176 431.8 182 442.3 183.6 447 184.6 452 184.8 457 184 460.8 183 461 182 459.9 178 452.5 172 450 170.8 449 167 441.5 162 434.9 160.7 431 160.7 427 162 422.5ZM809.8 445 813 445.1 817 447 820 449.2 822.3 453 822.4 456 821 456.4 818 455.4 809 450.3 805 451.5 803.6 451 802 448 802.4 446 804 445.8 807 447.2 808 446.9ZM305.8 458 307 457.3 309 457.7 316 464.1 319 467.7 323 476.3 327 481.6 328 492.1 326 490.3 322 484.1 318 482.2 315 478.9 306.1 462 305.5 460ZM190.8 459 192 458.1 193 458.3 199 463 207.5 477 210 482.1 211 482.4 215 477.4 223 470.6 228 467.8 231 468.8 236 473.1 240.6 480 247.1 485 250 489.3 256 493 258.1 495 260.5 500 261.2 508 191.9 508 189.1 489 189.5 484 191.3 478 190 467 190.1 461ZM135 459.8 132 461.6 131.4 464 132.9 481 133.6 483 136 483.7 138 482.8 139.6 480 140.3 468 139.6 463 138.2 460 137 459.3Z"/>
<path id="c20" d="M166.5 323 168 322.2 170 322.6 178.1 329 181.5 333 184 338 185.9 346 186.1 354 184 361.2 183 362.7 181 364.2 177 364.8 172 363.1 170 362.9 164 365.3 163 365 161.3 363 161 362 162.7 356 163.6 350 164.8 336 165 325.2ZM209.9 339 212 338.2 214 338.7 217 340.6 218.7 343 219.2 354 219 355.1 217 356.8 213 357.6 211 357.5 208.6 356 207.4 354 207 351 208 344 209 340.1ZM250.3 346 252 345.6 256.1 347 257.2 349 261.2 362 261 364 256 367.4 255 367.4 253 365.5 250 361.1ZM315.9 360 318 359.1 319 359.9 320.3 384 321.5 395 325.6 410 327.2 412 336 418.2 343.5 429 351 436.4 354 436.8 358 436.4 359.5 434 362 425 363 423.1 370 420.8 373 420.8 375 421.4 380 425.2 385 426.3 387 427.3 399 434.7 404.1 439 414 445.1 420 452 430.9 467 434 469.1 439 470.9 441.4 477 443.3 487 445 492.5 447 496.2 451 500.3 456 502.5 464 502.5 468 503.5 474 503.5 477 502.3 484 497.1 488 496.3 490 497.5 497 504.3 499 505.4 501 505.4 504 503.6 505 503.6 507.7 506 507.7 508 416.5 508 416 505 407 499.3 400 488.5 398 488.3 393 492.3 390 491.6 388 488.3 386.7 481 384 475 382 473.5 379 473.5 375 468.5 374 468 373 468.2 369 472.3 366 474.3 362 475.3 358 475 344 469.1 336 463.5 330 462.8 325 458.7 320 458 317 456.1 314.4 453 312.8 449 311.8 444 311.8 435 310 429.1 308 425.4 307 424.9 304 424.7 301 422.6 295 423 288 420.4 282 419.8 277 418.1 274 415.8 271.4 412 270 408 269.4 404 270.1 399 275.6 383 280 381.3 283 378 284 378 290 381.3 294 381 298 377.2 302 369.3 305 365.5 309 362.6ZM936.3 391 938 390.3 944 391.2 944 433.5 938 433 932 436.8 926 437.2 921 442.6 915 447.1 906 450.1 901 455.2 896 457.2 891 461.7 886.1 464 882 468.3 879 468.4 874 465.8 872 466.8 868 471.2 864 471.7 859 473.8 854 473.1 850 474.2 849 473.8 847.1 470 843.5 460 841.7 453 839.9 451 834.3 447 833.2 434 834 431.3 842 430.6 846 432.3 850 431.8 854 434.2 857.2 434 864 440.3 868 443 871 443.5 873 443 876.4 440 883 430.6 891 414.5 894 405 895 404.5 899 406.3 903 406.3 905 405.3 909 401.6 914 399.1 918 398.2 923 394.9 925 394.6 930 395.6 932 395.2ZM117 405 119 404.9 122 406.7 124 407 128 405.5 130 405.3 131 405.9 135 412.4 137 414 140 414.8 142 421 143 432 144 434.6 147 437.7 153.5 442 164 453.4 165.7 456 167.3 463 168.1 476 165.2 485 164.6 495 162 497.2 160 497.5 158 496.3 153 490.1 147 485 141.3 485 140.7 465 139.4 460 138 457.9 137 457.7 132 459.3 130 459.3 129 458.6 126 452.7 124 450.5 122 450.1 118 450.4 114 449.1 108 449.5 101 445.8 98 445.5 98 417.5 101 417.3 103 416.3 111 408.6ZM258.9 418 261 418.6 264.8 423 271 437.5 273 438.1 276 437 277 437.2 278 438.3 279.4 442 282 453.2 285.4 459 286.4 462 286.3 466 284.6 468 278 470.6 276 470.3 270.6 468 263 452 261 449.2 257 445.5 256.1 439 253.1 426 254 422.9 257 419.3ZM164.4 422 167 422.4 170.5 425 175.9 437 177 440 177.3 443 176.6 445 175 447 173 447 171.6 446 167.4 438 164 434.5 162.4 432 161.6 429 161.8 426 163 423.1ZM803.8 447 806.2 449 806.4 450 805 450.6 804 450.3 802.9 448ZM810.4 447 812 446.6 819.9 450 821.4 453 821 454.6 815 452.8 811.7 451 810 449ZM126.9 461 128 461.1 129.1 463 130.2 468 130 472.7 129 472.6 128 470.8 125.2 464 125.3 462ZM192.5 463 193 462.5 195 463.2 198 465 200 467.4 207.5 481 208.5 484 210 493.4 211 495 211.7 493 212.5 485 214.8 480 223 472.2 227 469.7 229 469.4 232 471 235 473.6 239 479 245.8 485 250 491.5 255 494.1 257.1 496 259.4 501 260 508 196.1 508 196 505.7 193 503.7 192 501.7 189.8 490 190.3 484 192.5 478 191.6 469ZM314.9 469 316 469 318.1 471 319.2 474 318.9 477 318 477.3 317 476.7 315.1 474 314.2 471ZM139.8 486 140.7 487 140.7 494 140 499.5 139 501 137 496.4 136.3 491 137 488 138 486.8Z"/>
<path id="c21" d="M167.2 324 169 323.6 170 324 177.3 330 180 333 182.4 338 185 348 185.2 354 184.3 358 183 360.6 180 362.8 176 363.2 172 361.7 170 361.5 164 363.9 163 363.5 161.8 362 163.9 351 165.4 327 166 324.9ZM210.6 340 212 339.6 214.1 340 216.6 342 217.7 344 218.4 353 217.3 355 215 356.2 213 356.5 211 356.1 209.7 355 208.7 353 208 347 209 341.8ZM250.6 347 252 346.4 255 347.4 256.7 349 260.5 362 260.4 363 259 364.1 255 365 253 363.9 251 361.6 250.3 358ZM315.7 361 318 360.1 318.5 361 320.7 395 325.1 410 326.6 412 331.2 415 336 419.1 343.2 429 351 436.7 354 437.1 358 436.7 359.7 434 362 425.7 363 424.3 369 422.2 371 421.9 374 422.3 380 426.7 386 428 398 435.5 404 440.9 415 447.4 420 452.8 430.5 467 433 468.9 438 470.9 439 471.8 441.2 478 443 487.5 444.7 493 447 497.2 451 501.2 456 503.3 464 503.3 468 504.3 474 504.3 477 503.2 484 498.2 488 497.4 490 498.4 498 506 498 508 418.4 508 418.1 505 417 503.1 412 500.4 407 495.7 400 486.5 398 486.2 393 487.9 391 487.5 390 486.3 384 472.9 382 471.7 379 471.4 375 466.8 374 466.4 373 466.7 369 471 366 473.1 362 474.1 358 474 344 467.8 336 462.3 331 461.4 325 456.5 321 455.5 317 453.4 315 451.2 313.7 448 312.8 443 312.7 434 310 425.8 308 422.5 304 422.3 301 420.9 295 421.7 288 419.2 282 418.4 277 416.5 274.9 415 272.7 412 271.2 408 270.8 404 271.7 398 276.4 384 280 382.2 283 379 284 378.9 290 382.2 294 381.8 298 378.2 302.2 370 305 366.4 309 363.5ZM936.3 393 938 392.1 944 393 944 431.7 938 431.3 932 435 926 435.7 924 437.4 921 441.2 915 445.9 912 447.1 905.9 448 900 453.9 896 455.8 891 460.5 885 462.9 881 466.2 879 466.3 875 464.4 873 464.2 868 469.2 864 469.6 859 472 853 471.1 850 471.6 849 471 847.2 467 845.4 460 844.7 450 844 449 839 448.5 837 447 835.6 445 834.5 439 835 433.5 843 432.1 846 433.2 850 432.9 854 435.6 857 434.8 864 441.2 868 443.8 870 444.3 873 443.8 877 440.2 883 431.7 891 415.7 894 406.4 896 405.7 899 407.2 903 407.2 908 404 914 401.3 918 400.2 923 396.4 925 396.2 930 397.1 932 396.9ZM116.8 406 118 405.7 122 407.9 124 408.3 128 406.7 130 406.5 131 407.1 135 413.4 139.6 416 141.3 421 142.5 432 143.5 435 147 438.8 153 443.4 164.7 457 166.5 464 167.3 477 164.9 485 164 493.8 162 495.8 160 496.1 158 494.9 153 486.8 150 484.6 147 481.4 144 481.9 143 481.3 141.8 477 141.2 464 139 457 137 456.3 133 457.6 131 457.2 129 455.3 125.4 450 124 448.9 119 449.2 114 447.9 108 448.4 101 444.5 98 444.2 98 418.3 101 418.2 103 417.2 111 409.5ZM259 420 261 420.7 264.1 425 266.8 431 270 440.2 271 441.1 272 441.2 276 439.4 277 439.8 278 441.1 281.5 456 283.9 461 284.2 463 283.5 465 279 468.5 276 468.6 271.3 465 268.1 458 262.9 449 258 443 255 432.2 254.2 427 255.7 423ZM163.9 425 165 424.4 166 424.6 167.6 426 168.7 429 168.5 430 167.6 431 166 431.5 164 430.6 163 428ZM195 468 197 467.9 199 469.3 206.5 482 207.6 486 209 497.1 210.3 500 211 500.4 212 500.1 213 499 213.5 487 215.3 482 223 473.8 227 471.2 229 471 233 473.3 239 480 243.7 484 250 493.7 254 495.4 256.1 497 258.3 502 258.7 508 198.2 508 198 505 197 502.8 194 500.9 192.6 499 190.6 490 191.1 484 194.1 478 193.8 471ZM503.4 505 504 504.6 505.4 505 506.4 506 506.4 508 502 508 502 506Z"/>
<path id="c22" d="M166.5 326 169 325.1 171 326.3 177.5 332 180.6 337 183.9 349 184.3 353 183 358.2 181.6 360 179 361.4 176 361.7 170 360.1 164 362.4 163 362 162.6 361 164.3 351 165.7 328ZM211.5 341 213 340.9 215 342 216.6 345 217 352.3 216.2 354 214 355.2 212 355 210.7 354 209.2 349 209 344 210 342ZM250.8 348 252 347.3 256.1 349 259.7 361 259.8 362 259 362.8 255 363.6 253 362.5 251 360ZM315.4 362 318 361.2 318.2 362 320.1 390 318.9 397 322 400.8 324.7 410 326.1 412 330.5 415 334 420.6 340 425.2 342.8 429 351 437 354 437.4 358 437 359.8 434 362 426.6 363 425.5 369 423.2 371 423 374 423.6 380 428.1 386 429.3 397 436.2 402.8 442 416 449.5 421 454.9 430.1 467 433 469.3 438.5 472 441 478.7 442.7 488 444.6 494 447 498.2 451 502.1 455 504 464 504.2 468 505.2 474 505.2 481 502.4 485 498.9 489 498.6 496.6 506 496.6 508 419.8 508 419.5 505 417.2 501 411.7 498 405 491.3 400 484.5 399 484.1 394 485.4 392 484.8 390 482.7 384 471 383 470.2 379 469.6 375 465.1 374 464.8 373 465.2 369 469.8 366 471.8 361 473.1 358 473 353 470.3 344 466.6 336 461.1 331 459.7 326 455.2 317 450.5 315.6 449 314.4 446 313.8 434 309 420.5 308 419.5 304 419.9 301 419.3 295 420.3 287 417.7 282 417 279 415.9 276 414.3 274 412 272.4 408 271.9 404 273.4 396 277.2 385 278 384.1 280.2 383 283 380 284 379.8 290 383 293 383 295 382.1 298.8 378 302.8 370 305 367.3 309 364.4ZM936.3 395 938 394.1 944 394.9 944 430 938 429.6 932 433.2 926 434.2 924 435.7 921 439.7 915 444.6 912 445.9 905 446.5 900 451.8 896 454.4 891 459.4 889 460.4 885 461.2 881 463.7 878 464.1 873 462.6 868 467.1 864 467.5 860 469.7 858 470.2 853 468.8 850 468.6 849 467.6 846.9 460 846.4 449 845.1 447 844 446.5 840 446.9 837.1 445 835.9 442 835.6 439 836 436.8 837 435.5 843 433.7 849 433.9 854 437.3 857 436 858 436.4 863.8 442 868 444.7 870 445.2 873 444.7 877 441.2 883 432.7 891 416.9 894 407.8 895 407 900 408.2 903 408 907 406.1 911 405.2 915 403 918 402.2 923 398 925 397.7 930 398.6 932 398.5ZM116.5 407 118 406.8 122 409.1 124 409.6 130 407.8 131 408.3 135 414.3 139 417 141 422.6 141.8 432 142.6 435 147 440.2 153.5 446 162.1 456 164 458.9 165.9 466 166.5 477 164.5 485 163.6 492 162 494.4 160 494.8 158 493.4 156.4 491 154 484.3 150 481.3 147 477.5 144 478.1 143.3 477 141.8 463 140.5 458 139 455.2 138 454.7 134 456 132 455.8 130 454.4 126 448.8 124 447.5 119 447.8 114 446.7 108 447.2 106 446.5 101 443.2 98 442.9 98 419.2 101 419 103 418.1 111 410.4ZM257.7 423 259 422.2 261 423.3 266 433.6 267.3 439 268.2 447 268.1 450 267 451.2 265 449.2 262 443.9 259 440.3 257 435.5 256 431.5 255.8 428 256.5 425ZM275.8 442 277 442.5 278.5 446 280.9 461 280.1 465 279 466.4 277 467.2 274.8 466 272.5 463 270.9 459 270.1 454 270.2 451 271.6 446 273.8 443ZM226.5 473 229 472.5 231 473.3 237.7 480 242.6 484 249 495 251 496.4 254 497.3 256 499.4 257.3 503 257.6 508 211.4 508 211.8 505 214.9 502 215.2 501 214.4 491 215.4 485 217.2 482 221 477.4ZM197.3 478 199 477.1 202 478.5 204.5 481 206 484 207.6 496 207.8 508 199.5 508 199.3 505 198 501.5 196 498.9 193.6 497 192.2 494 191.3 489 192 484.1 194 480.8Z"/>
<path id="c23" d="M167.3 327 169 326.7 170 327.1 175 331.2 177.5 334 179.4 338 183 353 181.9 357 180.1 359 178 360.1 176 360.2 170 358.7 168 358.9 165 360.6 164 360.8 163.4 360 164.7 351 166.1 329ZM210.9 343 213 342.4 214.1 343 215.2 345 215.4 351 215 352.5 214 353.4 212 352.9 211 350.9 210 346ZM251.2 349 252 348.2 255 349.1 256 350 259 360 259 361.2 258.1 362 256 362.4 254 361.9 251.4 359 251 356ZM315.1 363 317 362.2 317.8 363 319 376 319.3 390 317.1 396 317.3 398 319 400.9 322 402.9 324.7 411 329.6 415 332 420.9 334 423.6 341 427.7 350 436.4 352 437.6 358 437.3 359.6 435 362 427.8 363 426.7 370 424 374 424.8 380 429.4 385 430.3 387 431.1 397 437.7 402 443.3 407 445.8 411 449 415 450.2 417 451.5 421 455.7 429.7 467 433 469.6 438 472.3 440.7 479 442.3 488 444 493.7 446.2 498 450 502.2 455 504.9 465 505.2 466.8 506 466.8 508 424.1 508 424.1 506 422 505.6 417.5 499 412 496 405 489.4 400 482.5 398 482.2 394 483.4 391 481.8 384 469.2 383 468.5 379 467.8 375 463.5 373 463.7 369 468.5 367 470 361 472 358 472 352 468.6 344 465.4 337 460.5 331 458.2 326 453.6 317 447.3 316 445.8 315.3 443 315 434 310 419 308 416.5 304 417.7 300 417.8 295 418.9 287 416.5 281 415.3 276 412.5 273.5 408 273 402 274.3 396 278.4 385 283 381 284 380.7 290 383.9 293 383.9 295 383 299 378.7 302.9 371 305 368.2 309 365.3ZM936.4 397 938 396.2 944 396.8 944 428.2 938 428 932 431.5 925 433.2 921 438.1 914 444 911 444.9 906 444.5 904 445.2 892 457.3 889 459.3 884 459.9 879 462.3 873 461.1 871.2 462 868 465 864 465.3 858 468.2 856 467.9 850 464.9 849 462.9 848.2 459 847.7 448 845 444.8 843 444.3 840 444.8 838 443.2 837.4 440 838 438.3 839 437.3 841 436.2 846 435 849 435.4 852 438.2 854 439 857 437.4 858 437.5 863 442.2 868 445.6 870 446 873 445.6 877 442.1 883.4 433 891 418 894 409.3 895 408.3 902 409 906 407.8 911 407.3 915 405.1 918 404.2 923 399.5 925 399.2 932 400 934 399.1ZM116.2 408 118 407.9 124 410.8 129 409.1 131 409.5 134 414.1 138 417.4 139.2 420 140.7 426 141.1 435 148 443.7 153 447.6 163 460.6 165 466.9 165.7 477 163.2 491 162 492.9 160 493.4 158.1 492 156.6 489 154 480.3 150.2 478 147 472.7 145 472.6 144 471.8 142.5 462 140.7 456 139 453.5 138 453.2 134 454.5 132 454 130 452.3 126 447.1 124 446 119 446.4 114 445.5 108 446.1 106 445.4 101 441.8 98 441.6 98 420 101 419.9 103 419 111 411.3ZM275 445 276 444.8 277.2 446 279 454 278.9 461 278.1 464 277 464.7 275.5 464 274.1 462 272.6 457 272.9 449 274 446ZM228 474 231.2 475 237 481 242 484.7 249 497.4 254 499.6 255 500.7 256.2 504 256.4 508 219 508 218.7 505 215.8 495 215.5 491 216 487.5 217.5 484 221 479 225 475.5ZM199.1 480 201 480.1 203 481.2 204.4 483 205.6 486 206.5 496 205.5 508 200.8 508 200.6 505 198.6 500 197 497.2 194 494.2 192.6 491 192.3 487 193.2 484 196 481.2ZM485.4 500 488 499.6 490 500.3 495.6 506 495.6 508 480.5 508 480.5 506 481.3 504 483 501.6ZM477.2 505 478 504.6 478.9 505 479.4 508 475.2 508 475.2 506Z"/>
<path id="c24" d="M166.9 329 169 328.3 171 329.3 175.2 333 177.7 337 181.2 353 180.4 356 178 358.3 176 358.7 169 357.2 165 358.8 164.4 358ZM211.9 345 213.2 345 213.4 347 213 348.4 212 347.4ZM251.6 350 252 349.2 253 349.4 255 350 256 351.1 258.1 358 258 360.6 255 361.1 252 358.6 251.4 355ZM314.9 364 317 363.2 317.6 365 318.6 376 318.8 386 318.4 389 315.4 396 315.3 398 318 402.7 322 405.2 324.3 411 328.7 415 331 422.1 333 425.4 339 427.7 345 431.9 351 437.6 352 437.9 358 437.6 359.3 436 362 429 363 427.9 365 427.4 369 425.2 371 425 375 426.5 380 430.7 385 431.5 387 432.3 395.6 438 401 444.5 407 447.4 411 450.7 415 451.6 417 452.7 421 456.7 429.2 467 437.8 473 440.2 479 442.4 490 445 497 447 500.1 450 503.1 455.6 506 455.6 508 426.7 508 426.4 505 425 503 421.6 502 417 496.1 413 494.6 406 488.5 404 486.4 400 480.5 398 480.1 394 481.6 392 480.8 390 478.5 384.5 468 383 466.9 379 466.1 375 462 373 462.1 369 467.1 367 468.6 359 471.2 357 470.7 352 467.4 344 464.2 337 459.3 331 456.7 323.5 450 317.7 444 316.7 441 316.3 434 310.7 417 309 413.8 308 413.5 307 413.8 303 416 296 417.4 294 417.3 281 413.9 276.4 411 274.4 407 274.1 401 275 396.9 279 385.9 283 382 284 381.6 290 384.8 293 384.8 295 383.9 299 379.8 303 371.8 305 369.2 309 366.2ZM936.6 399 938 398.4 944 398.9 944 426.4 938 426.3 932 429.7 925 431.8 920 437.5 915 442.1 913 443.2 910 443.7 906 443.1 904 443.4 892 456.1 889 458.2 883 458.7 878 460.8 872 459.9 868 462.8 864 463.2 858 466.2 855 465.2 851.3 462 849.6 457 849.5 448 848.5 446 846 443.5 842 440.4 841.8 440 843.8 438 846 436.6 848 436.7 852 440.3 854 440.9 858 438.6 863 443.1 868 446.4 870 446.9 873 446.4 877 443.1 883.5 434 891.5 418 894 411 895 409.6 902 409.9 906 409.1 911 409.5 918 406.2 923 401.1 925 400.7 932 401.6 934 400.9ZM116 409 118 409 124 412.1 129 410.4 131 410.8 134 415.1 137.3 418 138.8 422 139.8 427 139.2 436 144 440.3 147.9 447 152.2 449 156 455.3 162 462.7 164 468.4 164.7 478 163 489 162 491.3 161 492 159 491.4 158 490 154.9 477 154 475.4 151 474.9 150 473.6 147 466.4 144 462.1 140 452.6 138 451.7 135 452.7 133 452.6 131 451.2 127 446.4 125 445 123 444.6 119 445 114 444.3 108 444.9 106 444.2 101 440.5 98 440.2 98 420.9 101 420.8 103 419.9 111 412.2ZM275 449 276 448.4 277 449.9 277.6 453 277.3 458 277 458.9 276 459.3 275 457.7 274.5 455ZM226.6 476 229 475.5 231 476.4 237 483.1 241 485.4 248 498.7 250 500.9 253 501.9 254 502.9 254.7 505 254.9 508 220.1 508 220 505 217.1 495 217 489 218.4 485 220.8 481 223 478.5ZM197.9 482 200 481.6 202 482.2 203.7 484 204.8 487 205.4 493 205.2 498 204.2 503 203 504.6 202 503.9 198 496.1 193.8 490 193.6 487 194.3 485 196 483ZM486 501 489 500.8 490 501.3 494.7 506 494.7 508 482.1 508 482.3 505 483 503.2 484 502Z"/>
<path id="c25" d="M168 330 170 330.3 173.4 333 175.3 335 176.8 338 179.3 352 178.7 355 177 356.7 175 357 168 355.4 166 356.1 165.3 355 166.8 332 167 331ZM251.8 351 252 350.4 253 350.3 255 350.9 255.8 352 257.4 357 257.5 359 257 359.8 255 359.9 252.6 358 251.9 356ZM314.6 365 316 364.4 317 364.4 317.2 365 318.3 376 318.2 384 317.2 389 313.5 396 313 399 316 404 318 405.7 322 407.6 323.7 411 327.7 415 330.5 425 331.7 427 338 428.5 345 432.5 351 437.9 352 438.2 358 437.8 359.5 436 362 430.1 368 426.5 370 425.9 374 427 380 432 385 432.7 388 434.2 396 439.8 399.4 445 401 446.4 406 448.4 411 452.2 415 452.9 417 454 421 457.8 428.7 467 436.9 473 438 474.6 440 479.7 441.9 490 444 496.1 447 501 450 504 453 506 453 508 428 508 427.4 504 425 500.7 422 499.7 417.2 494 413 492.4 405 485.8 400 478.5 398 477.9 394 479.6 392 479 390 476.6 385 466.8 383 465.3 379 464.4 375 460.7 373 460.7 369 465.8 367 467.2 359 470.2 357 469.7 352 466.1 344 462.9 337 458.2 332 456 324.3 449 319.7 442 318.9 439 319.6 435 318 433.4 316 430.1 311 413.3 310 411.1 309 410.3 307 411 303 414.2 294 415.9 291 415.5 282 412.8 277.5 410 275.3 406 275.1 401 276 397 280 386 283 382.9 284 382.5 290 385.6 293 385.6 295 384.8 299 380.8 303 372.9 305 370.1 309 367.1ZM936.8 401 939 400.6 944 401 944 424.6 937 425 931 428.5 925 430.3 923 431.8 920 435.8 916 439.9 913 442 910 442.5 905 441.7 903 442.3 898 447.2 891.9 455 889 457.1 883 457.3 878 459.5 872 458.6 868 460.5 864 461.1 858 464.1 856 463.6 853.3 461 851.8 458 851 454 852.5 445 858 440.1 859 440.3 863 444 868 447.3 872 447.6 875 446 877.8 443 884 434.2 891.6 419 895 410.9 906 410.5 911 411.5 918 408.1 922 403.5 924 402.3 932 403.2ZM115.8 410 118 410.2 124 413.3 129 411.7 131 412 136.8 419 138.6 427 137.7 435 138 437.2 139 438.6 142 440.4 143.6 442 146.7 449 150.3 450 152 451.3 154.6 457 156 463.3 159 463.5 161 465.6 162.1 468 163.1 472 163.5 479 162.3 488 161 490.3 160 490.3 159 489.5 158 486.7 155 466.4 152.4 470 151 470.2 147.3 462 144 458.3 141.7 453 140 450.7 138 450.2 135 451.1 133 450.7 127.4 445 125 443.6 119 443.7 115 443 108 443.7 106 443 101 439.2 98 438.9 98 421.7 101 421.6 103 420.8 111 413.1ZM847.3 440 848 439.7 849.2 441 849.6 442 849 442.7 847.9 442ZM228 477 231 477.9 237 485.6 240 486.9 242 489 249.6 505 249.8 508 221 508 220.9 505 218.1 494 218.2 489 219.5 485 222 481.1 225 478.4ZM197.5 484 199 483.3 201 483.4 202.1 484 203.4 486 204.3 493 204 496.8 203 499.9 202 500.1 201 498.9 195.4 489 195.7 486ZM484.6 503 487 502.1 490 502.3 493.8 506 493.8 508 483.2 508 483.4 505Z"/>
<path id="c26" d="M167.9 332 170 332 172 333.4 174.6 336 175.5 338 177.4 352 177 354 175.8 355 172 354.9 166.8 352 166.3 350 166.3 344 167.2 334ZM252.4 352 253 351.3 255.1 352 256.8 357 256.8 358 256 358.6 254 358.1 253 357 252.4 355ZM314.4 366 316 365.3 316.9 367 317.9 377 317.4 384 316 388.1 309.7 400 308.2 406 305.4 410 302 412.8 293 414.4 290 414 282 411.4 279.6 410 277 406.9 276.1 402 276.8 398 281.1 386 284 383.4 290 386.5 293 386.5 295 385.7 299 381.7 305 371 309 368ZM937 403 944 403 944 422.8 937 423.4 931 426.8 924 429.4 922 431 916 438.5 913 440.7 910 441.3 905 440.3 902.4 441 898 444.8 892 453.6 889 455.9 882.4 456 877 458.4 871 457.5 864 459 858 462 856 461.3 854.8 460 853 456 852.7 452 853.6 448 855.9 444 858 441.9 859 441.6 863.1 445 868 448.2 872 448.5 875 446.9 878 443.7 884 435.2 892 419.3 895 412.2 898 411.7 906 411.8 912 413.2 918 410 922 405.2 924 403.9 932 404.8ZM315.7 410 318 409.1 321 409.7 325.5 414 327.2 418 329 428 331 429.1 336 429.2 338 429.8 342 432.5 346 433.9 351 438.2 353 438.6 358 438.1 359.7 436 362 431.1 369 427.1 372 427.2 375 428.8 380 433.3 386 434.2 395 440.5 400 447.7 406 450 411 453.5 415 454.2 416.4 455 421 459 428.1 467 434.7 472 437 474.5 439.6 480 441.5 490 443.4 496 446.2 501 451.3 506 451.3 508 429.3 508 429.3 506 428.6 504 425.4 499 422 497.2 417 491.7 413 490.1 405 484.2 400 476.4 399 475.7 398 475.6 394 477.5 392 476.9 390 474.5 385 465.1 383 463.8 379 462.7 375 459.5 374 459.3 372.3 460 369 464.3 367 465.8 361 468.7 358 469.1 352 464.8 344 461.7 338 457.5 332 454.7 325 448 322.3 443 322 439 324.3 433 324.2 430 323 429.3 319 430.8 317 429.1 316 426.7 313.9 419 313.2 414 314 411ZM115.7 411 118 411.4 124 414.6 129 413 131 413.3 135.9 419 137.6 427 136.6 436 137 438 139 441 143 443.8 144.3 451 144.9 452 146 452.9 150 452.4 152 454.4 152.9 457 153 460 152 463.7 151 464.5 143.7 452 140 448.5 138 448.3 134 449.2 128 443.8 125 442.2 119 442.3 115 441.8 108 442.5 106 441.7 101.3 438 98 437.6 98 422.6 101 422.5 103 421.7 111 414ZM158.7 470 159 469.6 160 470 161 472 162 478 161.3 486 161 487.1 160 487.3 159 484.9 157.9 478 157.9 472ZM226.5 479 229 478.5 231 479.5 233.1 482 237 488.4 240 489.5 242 491.5 246.7 502 247.5 505 247.6 508 221.9 508 221.7 505 219.1 494 219.2 489 220.1 486 222 482.7ZM198.3 486 200 485.2 201 485.4 202.3 487 202.9 491 202 494.7 201 494.5 197.9 489 197.7 487ZM485.9 504 489 503.6 491 504.2 492.8 506 492.8 508 484.6 508 484.9 505Z"/>
<path id="c27" d="M168.1 334 169 333.6 171 334.3 173 336 174.2 338 175.2 351 175 352 174 352.9 173 352.9 171 352 167 345.3 167 341ZM253 353 254 352.5 255 352.8 256 356 255.3 357 253.7 356ZM314.1 367 316 366.5 316.5 368 317.3 376 317 380.8 312.5 392 307.8 400 306.4 405 304 409.3 302 411 292 413 289 412.4 280.6 409 278 405.7 277.4 401 282 386 284 384.3 290 387.3 293 387.3 295 386.5 299 382.7 304 373.3 305.9 371 310 368.4ZM937.4 405 944 405.1 944 421 937 421.9 931 425.3 922 429 916.1 437 913 439.4 910 440 904 439 902 439.6 897 443.4 892.9 451 891 453.4 889 454.8 882 454.7 877 457.2 866 455.7 860 459.3 858 459.8 855.6 458 854.3 454 854.5 450 856.3 446 859 443.4 860 443.4 864 446.6 869 449.3 873 449 877 445.9 884.7 435 895 413.5 900 412.8 906 413.1 912 415 918 411.9 922 407 924 405.4 932 406.4ZM115.9 412 119 413 124 415.8 129 414.4 131 414.6 135 419 136.3 423 136.8 427 135.5 437 137.5 444 136.9 446 136 446.9 134 447.2 129 442.6 125 440.8 115 440.5 108 441.2 106 440.4 102 437 98 436.3 98 423.4 101 423.3 103 422.5 112 414.1ZM319.5 413 321 413.4 323 415 324.2 418 321.6 426 320 427.8 319 428 318 427.4 317 425.6 315.5 418 316.5 415 318 413.6ZM369.4 428 372 428.2 374 429.2 380 434.6 385 435.1 387 435.9 395 442.1 398 447.5 400 449.7 406 451.5 411 454.7 416 456.1 427.3 467 434.9 473 439 479.6 441.6 492 443.6 498 446 501.9 450 506 450 508 431.9 508 431.9 506 426 497.8 422 495.1 417 489.9 413 488 405 482.5 399 473.5 398 473.3 394 475.3 392 474.7 390 472.2 386.3 465 384 462.7 380 461.6 375 458.4 373 458.4 371.9 459 368 463.7 361 467.5 358 468.1 352 463.6 344 460.5 338 456.3 332 453.4 326.4 448 324 444 323.4 441 323.7 438 326 432.9 328 431.1 334 430.3 337 430.6 342 433.7 347 435.3 351 438.7 357 438.8 359 437.5 362 432.1 364 431.5ZM227.9 480 230 480.4 232 482.3 237 491.5 238 492.2 240 492.4 242 494.3 245.6 502 246.4 508 222.7 508 222.6 505 220.1 494 220.2 489 221.1 486 223 483 225 481.3Z"/>
<path id="c28" d="M168.7 336 170 335.7 171 336.2 173 339 173 343.2 172 345.7 171 345.9 170 345.3 168 342.8 167.9 338ZM313.7 368 315 367.6 316 368.4 316.6 375 316 379 313 385.1 310.9 393 306.3 400 304.6 405 303 408.1 301 409.4 291 411.7 281 407.5 279.2 405 278.6 401 283 385.9 284 385.2 290 388.2 293 388.2 295 387.4 299.5 383 304 374.3 305.9 372 310 369.2ZM924.3 407 932 408.1 938 407.1 944 407.7 944 419.2 938 420 928.6 425 921 427.6 916.5 435 913 438.1 910 438.7 903 437.7 898 440.3 896 442.1 894.2 447 892 450.9 889 453.6 882 453.3 878 455.5 876 456 869 454.4 865 450.4 864 450 862.1 455 861 456.3 859 457.4 857 456.6 855.9 454 855.8 451 857 447.7 859 445.7 861 445.8 867 449.6 870 450.3 874 449.4 877 446.8 884.7 436 895 414.8 899 414.1 906 414.4 911 416.4 913 416.5 918 413.9 922.7 408ZM113.7 414 115 413.2 117 413.4 124 417.1 129 415.8 131 415.9 134 419 135.3 422 136 427 135.7 431 134.3 437 135.1 442 134.5 444 133 443.7 130.2 441 125 439.4 115 439.3 108 439.9 106 439 102 435.6 98 435 98 424.3 101 424.2 103 423.4 111 415.9ZM317.8 420 318 419.3 319 419.1 319.5 420 319.8 422 319 424 318 422.9ZM369.3 429 371 428.9 373.5 430 380 435.8 385 436.3 387 437.1 394.9 444 397.4 449 399 451 401 451.9 405 452.5 411 455.9 416 457.6 426.1 467 433.9 473 438 479.1 439.2 482 442.8 499 442.8 508 434.7 508 434.7 506 434 504.3 430 501.7 426 496.3 422 493.3 417 488.2 405 480.9 399 471.4 398 471 394 472.8 392 472.4 390 469.8 387 464 384 461 380 460 375 457.3 373 457.3 371 458.5 368 462.1 361 466.4 358 467.1 352 462.3 344 459.3 338 455.1 333 452.8 327.8 448 325.2 444 324.6 441 325.2 437 327 433.8 329 432.4 334 431.4 337 431.7 342 435 347 436.4 351 439.2 353 439.5 358 438.7 362 433 364 432.7ZM226.3 482 229 481.5 231.1 483 232.9 486 237 496.2 238 496.7 240 495.9 242 497.1 244.8 503 245.3 508 238.2 508 238 503.7 237 501.5 235.8 505 235.6 508 223.8 508 223.6 505 221.1 495 220.9 490 222.7 485ZM446.9 505 448.7 506 448.7 508 446.7 508Z"/>
<path id="c29" d="M313.4 369 315 369.1 315.3 370 315.7 373 315.2 376 312.3 382 310 392.5 304.8 400 302 406.5 301 407.2 291 410.4 288 409.6 282 406.3 280.4 404 280 400 284 386.5 290 389 293 389 295 388.3 300 383.3 304 375.4 306 372.8 310 370.1ZM923.7 409 926 408.5 933 410.3 937 410.1 941 411.7 944 411.9 944 416.9 941 417.1 937 418.6 931 422.4 926 424.8 920 425.5 919 426.8 916.7 433 915 435.3 913 436.8 910 437.4 903 436.3 897 438.7 895.1 441 892.3 449 889 452.4 881 452 878 454.1 876 454.7 870 453.4 868.3 452 869 451.3 872 451 875 449.6 878 446.6 881.5 442 887.7 432 895 416 899 415.2 906 415.7 908 416.1 912 418.2 917 417.9 918 417.2 922 410.7ZM113.5 415 115 414.3 118 414.9 124 418.3 130 417.1 133 419 134.7 423 135.2 429 134 434.1 132 437.3 129 438.6 124 438 120 438.4 115 438 109 438.7 106.6 438 102 434.2 98 433.7 98 425.1 101 425 103 424.3ZM369.3 430 371 430 373 430.8 378 435.7 380 437 385 437.4 387 438.2 394 445.3 396.5 450 399 453.5 400 454 405 454 411 457.2 415 458.5 425 467.3 432.9 473 439 482.9 440.6 493 441.1 508 436.1 508 435.9 505 434 501.4 430 499.7 426 494.9 417 486.7 405 479.4 399 468.9 398 468.1 394 470.4 392 469.9 390 467.2 387 461.3 385.7 460 380 458.7 375 456.3 373 456.3 371 457.2 368 460.3 361 465.3 358 466 352 461.1 344 458.1 338 453.9 333 451.5 328.2 447 326 443 325.7 439 326.8 436 328.8 434 331 433.1 334 432.5 337 432.9 342 436.1 347 437.9 352 440.7 358 439 359.2 438 361 435 362 434.2 364 434ZM858.9 449 860.1 449 860.5 451 860 453.4 859 454.1 858 453.4 857.7 452 858 450.2ZM227.8 483 230 483.6 231.8 486 234.2 495 233.7 502 230.6 506 230.6 508 225.6 508 225.6 506 223 499.7 221.8 494 221.7 490 223 486.4 225 484.2ZM240.9 500 242 500.3 243.1 502 244.1 505 244.1 508 240.1 508 240.1 502Z"/>
<path id="c30" d="M310 371 313 370.2 314 371 314.1 372 311.4 380 309.6 391 308.1 394 303.8 399 301 404 291 409.1 288 408.3 284.2 406 282.1 404 281.3 401 284.8 388 291 390 294 389.6 296 388.5 300 384.3 305 374.8 307 372.8ZM923.4 411 925 410.2 928.2 411 933.1 414 934.1 416 933.5 418 931.7 420 927.2 423 924 424.1 921.3 423 920.3 420 921 415ZM113.4 416 115 415.5 118 416.1 124 419.6 130 418.6 132 419.6 133.9 423 134.5 427 134 431.2 132 435 130 436.5 128 437.1 116 436.7 109 437.4 107 436.8 102 432.7 98 432.4 98 426 101 425.9 104 424.5ZM895.6 417 900 416.4 907 417.1 915.3 421 916.9 423 917.5 425 917.2 429 916 432.2 914 434.7 911 436 903 434.9 897 435.7 896 436.3 894.1 440 892.3 447 891 449.3 889 451.1 887 451.4 881 450.6 877 453.2 873.3 453 872.4 452 875 450.6 878 447.6 887 434.5 888.6 433 890.5 427 895 417.3ZM369.4 431 371 431 373 431.9 379 437.7 381 438.3 385 438.5 387 439.4 391.7 445 396.4 453 397.1 455 396.2 465 395 467.3 393 467.8 392 467.2 390.5 465 389.7 462 390.5 458 390 456.7 387 457.8 382 457.8 374 455.2 370 456.5 361 464.2 359 465.1 358 465 352 459.8 344 456.8 338 452.6 333 450.2 328.7 446 327.1 443 326.7 440 327.6 437 329 435.4 332 433.9 335 433.6 337 434 342 437.3 347 439.3 351 442 353 442.5 354 442.1 355.5 440 358 439.4 359 438.6 361 436 364 435.3 368 431.6ZM402 456 404 455.3 406 455.5 411 458.4 415 460 424 468 430.6 472 433 474.4 438 482.3 439 485 439.7 491 438.3 497 439.3 502 439.2 508 437.9 508 436.4 498 435 497.5 432 498.5 430 497.9 418 485.9 410 480.7 406 478.7 404 476.7 400.7 470 399.6 466 400.6 459ZM226.3 485 228 484.6 230 485.5 231.4 488 232.3 492 232 500 230.8 502 228 503.3 226 502.5 225 501.3 223.7 498 222.6 493 223.3 488 224.8 486Z"/>
<path id="c31" d="M309.8 372 311.8 372 311.8 373 310.3 379 308.8 390 307 393.9 292.8 407 290 407.8 287 406.5 284.2 404 282.9 401 285.2 390 286 389.4 290 390.7 292 390.8 296 389.4 300.2 385 305 375.8 307 373.7ZM923.8 413 925 412.3 927 413 928.8 415 929.4 417 928.2 420 925 422.3 923 421.9 922.1 420 922.3 416ZM113.2 417 115 416.7 119 417.7 124 420.8 129 420.1 131.5 421 133 423.4 133.6 427 133.3 430 132 433 130 434.8 128 435.6 116 435.4 110 436.1 107 435.3 102 431.3 98 431 98 426.8 101 426.7 104 425.4ZM896.3 418 900 417.7 907 418.4 914 422.1 915.7 424 916.3 426 916.1 429 915 431.8 913 433.8 910 434.7 904 433.5 894.4 433 893 435 892.2 445 890 449 888 450.1 880 449.2 876 451.7 875.9 451 878.7 448 886 437.1 887 436 890.1 435 890.9 434 891.1 427 895 418.6ZM369.5 432 371 432.1 373 433.1 379 438.8 381 439.5 385 439.6 388.3 442 390.7 446 391.4 449 390.8 452 388 455.3 386 456.4 382 456.7 374 454.3 367 455.7 366 456.2 363.7 460 361.1 463 359.2 464 358 463.9 352 458.6 344 455.6 339 451.9 333 448.9 329.3 445 327.9 442 328 439 329.1 437 332 435.1 335 434.6 337 435.2 342 438.4 347 440.6 351 443.3 354 444 355.3 443 356 441 361 437 364 436.6 368 432.7ZM403.6 457 405 456.6 407 457 415 461.5 424 469.6 430 472.8 432 474.5 437.3 483 438.5 486 438.8 490 437 493.9 432 496.7 430 496.5 418 484.4 410 479.1 405 476.5 401.8 471 400.6 466 401.6 460ZM226.2 487 228 486.5 229 487 230.3 490 230.2 498 229 499.7 228 499.9 226 498.9 225 497.4 223.7 493 224 489.7Z"/>
<path id="c32" d="M308.3 374 309.5 374 309.6 375 308 388.8 307 392 304 395.2 299 396.9 297 398.3 293.8 404 292 405.9 290 406.4 288 405.7 286 403.9 284.6 401 284.8 398 286.4 391 287 390.6 292 391.7 296 390.3 300.2 386 305 376.9ZM113.1 418 115 417.9 119 418.9 124 422.2 129 421.7 131 422.6 132 424.1 132.6 427 132.2 430 131 432.1 128 434 110 434.7 107 433.7 103 430.3 98 429.6 98 427.8 101 427.7 104 426.3ZM899 419 903 419.9 907.8 420 913 423.3 914.5 425 915.1 427 914 431 912 432.7 909 433.4 904 432 899 431.9 893 429.9 892 427 895 420.1ZM369.8 433 373 434.2 379 440.1 385 440.7 388 443 389.5 446 389.9 449 389.1 452 387 454.6 383 455.6 380 455.1 375 453.3 369 454 367.2 453 364 449.5 362.9 450 363.9 456 363.1 459 360.9 462 359 463 358 462.9 352 457.3 344 454.3 339 450.5 333 447.6 330.5 445 329.1 442 329.1 440 330 437.9 332 436.3 335 435.7 346 441.2 352 445.2 354 445.5 356 444.4 357.4 441 360 438.8 364 438 368 433.7ZM886.3 438 888 437.3 890 437.7 891.4 440 891.6 443 891 445.5 890 447.4 888 448.8 886 448.7 880.5 447ZM404.7 458 407 458.1 415 463.1 423 470.5 430 474.2 432 476 437.6 486 437.7 490 436 493 432 495.4 430 495.3 418 482.9 410.7 478 405 475.1 402.5 471 401.3 466 402.2 461 403.3 459Z"/>
<path id="c33" d="M305.6 378 306 377.2 306.9 378 306.4 389 305.4 392 303 394 298 393.1 297 393.5 295 395.8 292 404 290 405 288 404.1 286.5 402 286.1 400 287.2 393 288 392 293 392.5 296 391.6 300.3 387ZM113.6 419 119 420.2 124 423.8 128 423.5 130 424.1 131.2 427 131 429 130 431 128 432.3 124 432.4 120 433.2 116 432.8 110 433.3 107 432.1 103.1 428 112 419.6ZM895 422 896 421.4 899 421.1 900.7 422 903 424.4 905.3 422 908 421.8 912.9 426 913.1 429 911.3 431 909 431.7 904 429.6 901 430.3 898.5 430 894 428 893.4 427 893.5 425ZM367.8 435 369 434.2 371 434.2 373.6 436 379 441.4 385 441.9 386.7 443 388 445 388.8 448 388.3 451 387.1 453 385 454.3 383 454.5 376 452.4 369 452.9 367 451.2 364 447.1 363 446.6 362 447.1 361.3 449 362.8 455 362.5 458 360.6 461 359 461.9 358 461.7 352 455.7 344 453 339 449 333 446.1 331.2 444 330.4 442 330.4 440 331.6 438 333 437.1 335 436.9 341 440.5 346 442.5 352 446.7 354 447 356 446.3 357.6 445 359.1 441 360 440.4 363 440.6ZM886.7 439 889 439.2 890 440.3 890.5 442 889.5 446 888.5 447 887 447.4 883 446.1 882.7 445ZM406 459 408 459.8 411 462.4 415 464.8 423 472.2 430 475.6 432 477.4 435.8 484 436.8 487 436.6 490 434.3 493 432 494.3 430 494.2 425 488.2 418 481.3 411 476.5 407 475.1 405 473.8 402.8 470 402 465 403.1 461 404 459.8Z"/>
<path id="c34" d="M301.2 389 302 388.4 303 389 303 390.8 301.7 391 301 390ZM288.7 394 290 393.6 292 394 291.1 401 290 402.4 288.9 402 288.2 400ZM111.5 421 114 420.3 120 422.2 121.9 424 123.6 427 123.7 429 123.2 430 122.1 431 120 431.7 116 431.4 111 431.9 107 430.4 105 428ZM126 427 128 426.1 129 427 128.7 429 127 429.9 126 429.3 125.5 428ZM368 436 370 435.1 372 435.9 379 443.7 380 444 384 443.2 386 444 387 445.4 387.6 448 387.4 450 386.3 452 385 452.9 383 453.2 377 451 370 452 368 451.1 365.5 447 364.8 443 365.3 440ZM332.8 439 335 438.5 340 442.5 346 444.1 352 449.6 353 449.6 357 447.7 359 448 361.6 454 361.7 457 361 459.1 360 460.3 358 460.5 352 452.9 345 451.9 339 446.9 333.8 445 331.8 442 332 440ZM886.5 441 888 441 889 443 888.1 445 887 445.4 885.9 445 885.2 444 885.2 443ZM404.2 461 406 460.1 408 461 411 464.2 415.4 467 422 473.6 431 477.8 433.8 482 435.8 487 435.4 490 433.9 492 432 493.2 430 493.1 425 486.4 419 480 411 474.6 407 473.6 405 472.4 403.5 470 402.7 467 403 463.2Z"/>
<path id="c35" d="M112 422 113.6 422 119.3 424 120.5 426 120.1 429 112 430.3 110 430.1 107.7 429 106.8 428 106.7 427ZM368.2 437 370 436.3 372 437.1 374.7 440 376.2 443 376.3 445 375.4 448 373.1 450 371 450.9 369 450.6 368 449.8 366.3 446 366.1 441 366.7 439ZM383.9 446 385 446 385.9 448 385.4 450 384 450.9 382.6 450 382.5 449ZM356.4 450 358 449.7 359 450.4 360.3 453 360.6 457 360 458.6 359 459.3 357 458.2 355.5 455 355.3 452ZM404.7 462 406 461.4 408 462.3 409.7 465 411 468.8 412 469.9 414 469.1 415.9 471 416.4 473 416 473.6 415 474 414 473.6 412 471.3 411 471 407 472.1 405 470.9 403.9 469 403.3 466 403.6 464ZM423.8 479 425 478.1 429 478.3 432 480.6 433.8 484 434.6 487 434.1 490 432.1 492 430.4 492 429 490.8 424.4 482Z"/>
</defs>
<g fill-rule="evenodd" stroke="none">
<use href="#c0" fill="#001868"/>
<use href="#c1" fill="#004820"/>
<use href="#c2" fill="#004060"/>
<use href="#c3" fill="#0010d0"/>
<use href="#c4" fill="#0058f8"/>
<use href="#c5" fill="#00b0f8"/>
<use href="#c6" fill="#00d8f8"/>
<use href="#c7" fill="#00f8f0"/>
<use href="#c8" fill="#00f0c0"/>
<use href="#c9" fill="#00e880"/>
<use href="#c10" fill="#08e838"/>
<use href="#c11" fill="#20e808"/>
<use href="#c12" fill="#50cc08"/>
<use href="#c13" fill="#68d808"/>
<use href="#c14" fill="#7cec08"/>
<use href="#c15" fill="#98f818"/>
<use href="#c16" fill="#b4f838"/>
<use href="#c17" fill="#dcf820"/>
<use href="#c18" fill="#f8f808"/>
<use href="#c19" fill="#ffe400"/>
<use href="#c20" fill="#ffcc00"/>
<use href="#c21" fill="#ffb810"/>
<use href="#c22" fill="#ff9c10"/>
<use href="#c23" fill="#ff6a08"/>
<use href="#c24" fill="#ff3800"/>
<use href="#c25" fill="#ff1400"/>
<use href="#c26" fill="#ff0060"/>
<use href="#c27" fill="#ff00e0"/>
<use href="#c28" fill="#d818f0"/>
<use href="#c29" fill="#a030ff"/>
<use href="#c30" fill="#c85af0"/>
<use href="#c31" fill="#ec82ec"/>
<use href="#c32" fill="#f2a8f2"/>
<use href="#c33" fill="#f8cdf8"/>
<use href="#c34" fill="#fce8fc"/>
<use href="#c35" fill="#fdf5fd"/>
</g>
<g fill="none" stroke="#000" stroke-width="1.9" stroke-dasharray="6.2 2.7" stroke-linecap="butt">
<use href="#c2"/>
<use href="#c4"/>
<use href="#c6"/>
<use href="#c8"/>
<use href="#c10"/>
<use href="#c12"/>
<use href="#c14"/>
<use href="#c16"/>
<use href="#c18"/>
<use href="#c20"/>
<use href="#c22"/>
<use href="#c24"/>
<use href="#c26"/>
<use href="#c28"/>
</g>
<g fill="none" stroke="#000" stroke-width="1.9">
<use href="#c30"/>
<use href="#c32"/>
<use href="#c34"/>
</g>
<use href="#c0" fill="none" stroke="#000" stroke-width="1.6" stroke-linejoin="round"/>
<path d="M408.0 310.0 L426.6 333.5M426.6 333.5 L418.1 345.9M424.4 330.7 L415.9 343.0M422.2 327.9 L413.6 340.2M410.0 344.0 L428.6 367.5M428.6 367.5 L420.1 379.9M426.4 364.7 L417.9 377.0M424.2 361.9 L415.6 374.2M412.0 378.0 L430.6 401.5M430.6 401.5 L422.1 413.9M428.4 398.7 L419.9 411.0M426.2 395.9 L417.6 408.2M414.0 408.0 L432.6 431.5M432.6 431.5 L424.1 443.9M430.4 428.7 L421.9 441.0M428.2 425.9 L419.6 438.2M334.6 383.0 L358.5 412.5M358.5 412.5 L352.0 421.4M356.2 409.7 L349.8 418.6M354.0 406.9 L347.5 415.8M351.7 404.1 L345.3 413.0M195.6 309.0 L239.8 358.0M239.8 358.0 L233.3 369.3M237.4 355.4 L230.9 366.6M523.0 443.0 L546.6 467.5M546.6 467.5 L543.1 472.3M569.6 473.4 L591.3 503.3M591.3 503.3 L585.8 509.1M580.5 478.0 L597.7 500.1M597.7 500.1 L592.4 506.0M624.5 478.0 L650.7 504.2M650.7 504.2 L646.1 510.7M456.0 484.0 L475.9 500.7M475.9 500.7 L471.9 507.6M833.0 385.0 L859.0 397.0M859.0 397.0 L858.3 410.0M88.0 392.0 L158.7 425.0M158.7 425.0 L157.1 437.9M88.0 404.0 L158.7 437.0M158.7 437.0 L157.1 449.9M88.0 416.0 L158.7 449.0M158.7 449.0 L157.1 461.9M88.0 428.0 L158.7 461.0M158.7 461.0 L157.1 473.9M88.0 440.0 L158.7 473.0M158.7 473.0 L157.1 485.9M88.0 452.0 L158.7 485.0M158.7 485.0 L157.1 497.9M88.0 464.0 L158.7 497.0M158.7 497.0 L157.1 509.9M88.0 476.0 L158.7 509.0M158.7 509.0 L157.1 521.9M88.0 488.0 L158.7 521.0M158.7 521.0 L157.1 533.9M88.0 500.0 L158.7 533.0M158.7 533.0 L157.1 545.9M148.0 308.0 L201.6 324.4M201.6 324.4 L201.8 337.4M148.0 320.0 L201.6 336.4M201.6 336.4 L201.8 349.4M148.0 332.0 L201.6 348.4M201.6 348.4 L201.8 361.4M148.0 344.0 L201.6 360.4M201.6 360.4 L201.8 373.4M148.0 356.0 L201.6 372.4M201.6 372.4 L201.8 385.4M148.0 368.0 L201.6 384.4M201.6 384.4 L201.8 397.4M148.0 380.0 L201.6 396.4M201.6 396.4 L201.8 409.4M148.0 392.0 L201.6 408.4M201.6 408.4 L201.8 421.4M148.0 404.0 L201.6 420.4M201.6 420.4 L201.8 433.4M148.0 416.0 L201.6 432.4M201.6 432.4 L201.8 445.4M148.0 428.0 L201.6 444.4M201.6 444.4 L201.8 457.4M148.0 440.0 L201.6 456.4M201.6 456.4 L201.8 469.4M148.0 452.0 L201.6 468.4M201.6 468.4 L201.8 481.4M148.0 464.0 L201.6 480.4M201.6 480.4 L201.8 493.4M148.0 476.0 L201.6 492.4M201.6 492.4 L201.8 505.4M148.0 488.0 L201.6 504.4M201.6 504.4 L201.8 517.4M148.0 500.0 L201.6 516.4M201.6 516.4 L201.8 529.4M205.0 345.0 L241.2 373.3M241.2 373.3 L236.8 385.5M205.0 357.0 L241.2 385.3M241.2 385.3 L236.8 397.5M205.0 369.0 L241.2 397.3M241.2 397.3 L236.8 409.5M205.0 381.0 L241.2 409.3M241.2 409.3 L236.8 421.5M205.0 393.0 L241.2 421.3M241.2 421.3 L236.8 433.5M205.0 405.0 L241.2 433.3M241.2 433.3 L236.8 445.5M205.0 417.0 L241.2 445.3M241.2 445.3 L236.8 457.5M205.0 429.0 L241.2 457.3M241.2 457.3 L236.8 469.5M205.0 441.0 L241.2 469.3M241.2 469.3 L236.8 481.5M205.0 453.0 L241.2 481.3M241.2 481.3 L236.8 493.5M205.0 465.0 L241.2 493.3M241.2 493.3 L236.8 505.5M205.0 477.0 L241.2 505.3M241.2 505.3 L236.8 517.5M205.0 489.0 L241.2 517.3M241.2 517.3 L236.8 529.5M243.0 340.0 L275.0 373.1M275.0 373.1 L269.7 381.6M272.5 370.5 L267.2 379.0M270.0 367.9 L264.7 376.4M243.0 352.0 L275.0 385.1M275.0 385.1 L269.7 393.6M272.5 382.5 L267.2 391.0M270.0 379.9 L264.7 388.4M243.0 364.0 L275.0 397.1M275.0 397.1 L269.7 405.6M272.5 394.5 L267.2 403.0M270.0 391.9 L264.7 400.4M243.0 376.0 L275.0 409.1M275.0 409.1 L269.7 417.6M272.5 406.5 L267.2 415.0M270.0 403.9 L264.7 412.4M243.0 388.0 L275.0 421.1M275.0 421.1 L269.7 429.6M272.5 418.5 L267.2 427.0M270.0 415.9 L264.7 424.4M243.0 400.0 L275.0 433.1M275.0 433.1 L269.7 441.6M272.5 430.5 L267.2 439.0M270.0 427.9 L264.7 436.4M243.0 412.0 L275.0 445.1M275.0 445.1 L269.7 453.6M272.5 442.5 L267.2 451.0M270.0 439.9 L264.7 448.4M243.0 424.0 L275.0 457.1M275.0 457.1 L269.7 465.6M272.5 454.5 L267.2 463.0M270.0 451.9 L264.7 460.4M243.0 436.0 L275.0 469.1M275.0 469.1 L269.7 477.6M272.5 466.5 L267.2 475.0M270.0 463.9 L264.7 472.4M243.0 448.0 L275.0 481.1M275.0 481.1 L269.7 489.6M272.5 478.5 L267.2 487.0M270.0 475.9 L264.7 484.4M243.0 460.0 L275.0 493.1M275.0 493.1 L269.7 501.6M272.5 490.5 L267.2 499.0M270.0 487.9 L264.7 496.4M243.0 472.0 L275.0 505.1M275.0 505.1 L269.7 513.6M272.5 502.5 L267.2 511.0M270.0 499.9 L264.7 508.4M243.0 484.0 L275.0 517.1M275.0 517.1 L269.7 525.6M272.5 514.5 L267.2 523.0M270.0 511.9 L264.7 520.4M243.0 496.0 L275.0 529.1M275.0 529.1 L269.7 537.6M272.5 526.5 L267.2 535.0M270.0 523.9 L264.7 532.4M285.0 372.0 L313.3 405.7M313.3 405.7 L307.4 413.8M311.0 402.9 L305.1 411.0M308.7 400.2 L302.8 408.3M285.0 384.0 L313.3 417.7M313.3 417.7 L307.4 425.8M311.0 414.9 L305.1 423.0M308.7 412.2 L302.8 420.3M285.0 396.0 L313.3 429.7M313.3 429.7 L307.4 437.8M311.0 426.9 L305.1 435.0M308.7 424.2 L302.8 432.3M285.0 408.0 L313.3 441.7M313.3 441.7 L307.4 449.8M311.0 438.9 L305.1 447.0M308.7 436.2 L302.8 444.3M285.0 420.0 L313.3 453.7M313.3 453.7 L307.4 461.8M311.0 450.9 L305.1 459.0M308.7 448.2 L302.8 456.3M285.0 432.0 L313.3 465.7M313.3 465.7 L307.4 473.8M311.0 462.9 L305.1 471.0M308.7 460.2 L302.8 468.3M285.0 444.0 L313.3 477.7M313.3 477.7 L307.4 485.8M311.0 474.9 L305.1 483.0M308.7 472.2 L302.8 480.3M285.0 456.0 L313.3 489.7M313.3 489.7 L307.4 497.8M311.0 486.9 L305.1 495.0M308.7 484.2 L302.8 492.3M285.0 468.0 L313.3 501.7M313.3 501.7 L307.4 509.8M311.0 498.9 L305.1 507.0M308.7 496.2 L302.8 504.3M285.0 480.0 L313.3 513.7M313.3 513.7 L307.4 521.8M311.0 510.9 L305.1 519.0M308.7 508.2 L302.8 516.3M285.0 492.0 L313.3 525.7M313.3 525.7 L307.4 533.8M311.0 522.9 L305.1 531.0M308.7 520.2 L302.8 528.3M322.0 400.0 L349.0 432.2M349.0 432.2 L343.1 440.3M346.7 429.4 L340.8 437.5M344.4 426.7 L338.5 434.7M322.0 412.0 L349.0 444.2M349.0 444.2 L343.1 452.3M346.7 441.4 L340.8 449.5M344.4 438.7 L338.5 446.7M322.0 424.0 L349.0 456.2M349.0 456.2 L343.1 464.3M346.7 453.4 L340.8 461.5M344.4 450.7 L338.5 458.7M322.0 436.0 L349.0 468.2M349.0 468.2 L343.1 476.3M346.7 465.4 L340.8 473.5M344.4 462.7 L338.5 470.7M322.0 448.0 L349.0 480.2M349.0 480.2 L343.1 488.3M346.7 477.4 L340.8 485.5M344.4 474.7 L338.5 482.7M322.0 460.0 L349.0 492.2M349.0 492.2 L343.1 500.3M346.7 489.4 L340.8 497.5M344.4 486.7 L338.5 494.7M322.0 472.0 L349.0 504.2M349.0 504.2 L343.1 512.3M346.7 501.4 L340.8 509.5M344.4 498.7 L338.5 506.7M322.0 484.0 L349.0 516.2M349.0 516.2 L343.1 524.3M346.7 513.4 L340.8 521.5M344.4 510.7 L338.5 518.7M322.0 496.0 L349.0 528.2M349.0 528.2 L343.1 536.3M346.7 525.4 L340.8 533.5M344.4 522.7 L338.5 530.7M362.0 430.0 L387.7 460.6M387.7 460.6 L381.8 468.7M385.4 457.9 L379.5 466.0M383.1 455.1 L377.2 463.2M362.0 442.0 L387.7 472.6M387.7 472.6 L381.8 480.7M385.4 469.9 L379.5 478.0M383.1 467.1 L377.2 475.2M362.0 454.0 L387.7 484.6M387.7 484.6 L381.8 492.7M385.4 481.9 L379.5 490.0M383.1 479.1 L377.2 487.2M362.0 466.0 L387.7 496.6M387.7 496.6 L381.8 504.7M385.4 493.9 L379.5 502.0M383.1 491.1 L377.2 499.2M362.0 478.0 L387.7 508.6M387.7 508.6 L381.8 516.7M385.4 505.9 L379.5 514.0M383.1 503.1 L377.2 511.2M362.0 490.0 L387.7 520.6M387.7 520.6 L381.8 528.7M385.4 517.9 L379.5 526.0M383.1 515.1 L377.2 523.2M396.0 400.0 L419.1 427.6M419.1 427.6 L413.3 435.7M416.8 424.8 L410.9 432.9M414.5 422.1 L408.6 430.2M396.0 412.0 L419.1 439.6M419.1 439.6 L413.3 447.7M416.8 436.8 L410.9 444.9M414.5 434.1 L408.6 442.2M396.0 424.0 L419.1 451.6M419.1 451.6 L413.3 459.7M416.8 448.8 L410.9 456.9M414.5 446.1 L408.6 454.2M396.0 436.0 L419.1 463.6M419.1 463.6 L413.3 471.7M416.8 460.8 L410.9 468.9M414.5 458.1 L408.6 466.2M396.0 448.0 L419.1 475.6M419.1 475.6 L413.3 483.7M416.8 472.8 L410.9 480.9M414.5 470.1 L408.6 478.2M396.0 460.0 L419.1 487.6M419.1 487.6 L413.3 495.7M416.8 484.8 L410.9 492.9M414.5 482.1 L408.6 490.2M396.0 472.0 L419.1 499.6M419.1 499.6 L413.3 507.7M416.8 496.8 L410.9 504.9M414.5 494.1 L408.6 502.2M396.0 484.0 L419.1 511.6M419.1 511.6 L413.3 519.7M416.8 508.8 L410.9 516.9M414.5 506.1 L408.6 514.2M396.0 496.0 L419.1 523.6M419.1 523.6 L413.3 531.7M416.8 520.8 L410.9 528.9M414.5 518.1 L408.6 526.2M480.0 480.0 L503.0 499.3M503.0 499.3 L498.1 511.3M480.0 492.0 L503.0 511.3M503.0 511.3 L498.1 523.3M560.0 480.0 L583.0 499.3M583.0 499.3 L578.1 511.3M560.0 492.0 L583.0 511.3M583.0 511.3 L578.1 523.3M677.0 381.2 L691.7 389.3M691.7 389.3 L685.8 402.0M688.5 387.6 L682.6 400.3M685.4 385.9 L679.5 398.5M690.0 370.5 L724.3 391.1M724.3 391.1 L722.0 400.8M654.0 428.0 L685.0 481.7M685.0 481.7 L673.6 494.3M683.2 478.6 L671.8 491.2M670.0 436.0 L705.3 484.5M705.3 484.5 L695.3 498.3M703.2 481.6 L693.2 495.4M648.0 440.0 L669.2 473.9M669.2 473.9 L662.8 481.6M660.0 420.0 L682.4 453.2M682.4 453.2 L676.2 461.0M705.0 365.0 L746.0 397.0M746.0 397.0 L741.9 406.1M743.1 394.8 L739.1 403.9M740.3 392.6 L736.2 401.7M705.0 377.0 L746.0 409.0M746.0 409.0 L741.9 418.1M743.1 406.8 L739.1 415.9M740.3 404.6 L736.2 413.7M705.0 389.0 L746.0 421.0M746.0 421.0 L741.9 430.1M743.1 418.8 L739.1 427.9M740.3 416.6 L736.2 425.7M705.0 401.0 L746.0 433.0M746.0 433.0 L741.9 442.1M743.1 430.8 L739.1 439.9M740.3 428.6 L736.2 437.7M705.0 413.0 L746.0 445.0M746.0 445.0 L741.9 454.1M743.1 442.8 L739.1 451.9M740.3 440.6 L736.2 449.7M705.0 425.0 L746.0 457.0M746.0 457.0 L741.9 466.1M743.1 454.8 L739.1 463.9M740.3 452.6 L736.2 461.7M705.0 437.0 L746.0 469.0M746.0 469.0 L741.9 478.1M743.1 466.8 L739.1 475.9M740.3 464.6 L736.2 473.7M745.0 380.0 L786.0 412.0M786.0 412.0 L781.9 421.1M783.1 409.8 L779.1 418.9M780.3 407.6 L776.2 416.7M745.0 392.0 L786.0 424.0M786.0 424.0 L781.9 433.1M783.1 421.8 L779.1 430.9M780.3 419.6 L776.2 428.7M745.0 404.0 L786.0 436.0M786.0 436.0 L781.9 445.1M783.1 433.8 L779.1 442.9M780.3 431.6 L776.2 440.7M745.0 416.0 L786.0 448.0M786.0 448.0 L781.9 457.1M783.1 445.8 L779.1 454.9M780.3 443.6 L776.2 452.7M745.0 428.0 L786.0 460.0M786.0 460.0 L781.9 469.1M783.1 457.8 L779.1 466.9M780.3 455.6 L776.2 464.7M745.0 440.0 L786.0 472.0M786.0 472.0 L781.9 481.1M783.1 469.8 L779.1 478.9M780.3 467.6 L776.2 476.7M745.0 452.0 L786.0 484.0M786.0 484.0 L781.9 493.1M783.1 481.8 L779.1 490.9M780.3 479.6 L776.2 488.7M745.0 464.0 L786.0 496.0M786.0 496.0 L781.9 505.1M783.1 493.8 L779.1 502.9M780.3 491.6 L776.2 500.7M745.0 476.0 L786.0 508.0M786.0 508.0 L781.9 517.1M783.1 505.8 L779.1 514.9M780.3 503.6 L776.2 512.7M745.0 488.0 L786.0 520.0M786.0 520.0 L781.9 529.1M783.1 517.8 L779.1 526.9M780.3 515.6 L776.2 524.7M745.0 500.0 L786.0 532.0M786.0 532.0 L781.9 541.1M783.1 529.8 L779.1 538.9M780.3 527.6 L776.2 536.7M785.0 378.0 L827.1 408.6M827.1 408.6 L823.3 417.8M824.2 406.4 L820.4 415.7M821.2 404.3 L817.5 413.6M785.0 390.0 L827.1 420.6M827.1 420.6 L823.3 429.8M824.2 418.4 L820.4 427.7M821.2 416.3 L817.5 425.6M785.0 402.0 L827.1 432.6M827.1 432.6 L823.3 441.8M824.2 430.4 L820.4 439.7M821.2 428.3 L817.5 437.6M785.0 414.0 L827.1 444.6M827.1 444.6 L823.3 453.8M824.2 442.4 L820.4 451.7M821.2 440.3 L817.5 449.6M785.0 426.0 L827.1 456.6M827.1 456.6 L823.3 465.8M824.2 454.4 L820.4 463.7M821.2 452.3 L817.5 461.6M785.0 438.0 L827.1 468.6M827.1 468.6 L823.3 477.8M824.2 466.4 L820.4 475.7M821.2 464.3 L817.5 473.6M785.0 450.0 L827.1 480.6M827.1 480.6 L823.3 489.8M824.2 478.4 L820.4 487.7M821.2 476.3 L817.5 485.6M785.0 462.0 L827.1 492.6M827.1 492.6 L823.3 501.8M824.2 490.4 L820.4 499.7M821.2 488.3 L817.5 497.6M785.0 474.0 L827.1 504.6M827.1 504.6 L823.3 513.8M824.2 502.4 L820.4 511.7M821.2 500.3 L817.5 509.6M785.0 486.0 L827.1 516.6M827.1 516.6 L823.3 525.8M824.2 514.4 L820.4 523.7M821.2 512.3 L817.5 521.6M785.0 498.0 L827.1 528.6M827.1 528.6 L823.3 537.8M824.2 526.4 L820.4 535.7M821.2 524.3 L817.5 533.6M825.0 398.0 L874.8 421.2M874.8 421.2 L873.3 434.1M825.0 410.0 L874.8 433.2M874.8 433.2 L873.3 446.1M825.0 422.0 L874.8 445.2M874.8 445.2 L873.3 458.1M825.0 434.0 L874.8 457.2M874.8 457.2 L873.3 470.1M825.0 446.0 L874.8 469.2M874.8 469.2 L873.3 482.1M825.0 458.0 L874.8 481.2M874.8 481.2 L873.3 494.1M825.0 470.0 L874.8 493.2M874.8 493.2 L873.3 506.1M825.0 482.0 L874.8 505.2M874.8 505.2 L873.3 518.1M825.0 494.0 L874.8 517.2M874.8 517.2 L873.3 530.1M865.0 420.0 L914.8 443.2M914.8 443.2 L913.3 456.1M865.0 432.0 L914.8 455.2M914.8 455.2 L913.3 468.1M865.0 444.0 L914.8 467.2M914.8 467.2 L913.3 480.1M865.0 456.0 L914.8 479.2M914.8 479.2 L913.3 492.1M865.0 468.0 L914.8 491.2M914.8 491.2 L913.3 504.1M865.0 480.0 L914.8 503.2M914.8 503.2 L913.3 516.1M865.0 492.0 L914.8 515.2M914.8 515.2 L913.3 528.1M900.0 396.0 L945.3 417.1M945.3 417.1 L943.7 430.0M900.0 408.0 L945.3 429.1M945.3 429.1 L943.7 442.0M900.0 420.0 L945.3 441.1M945.3 441.1 L943.7 454.0M900.0 432.0 L945.3 453.1M945.3 453.1 L943.7 466.0M900.0 444.0 L945.3 465.1M945.3 465.1 L943.7 478.0M900.0 456.0 L945.3 477.1M945.3 477.1 L943.7 490.0M900.0 468.0 L945.3 489.1M945.3 489.1 L943.7 502.0M900.0 480.0 L945.3 501.1M945.3 501.1 L943.7 514.0M900.0 492.0 L945.3 513.1M945.3 513.1 L943.7 526.0" fill="none" stroke="#000" stroke-width="1.9" stroke-linecap="butt"/><g font-size="14" style="fill:#fff" text-anchor="middle"><text transform="translate(124,400) rotate(20)" y="5" textLength="35.5" lengthAdjust="spacingAndGlyphs" style="fill:#fff">-14.0</text><text transform="translate(171,405) rotate(-15)" y="5" textLength="35.5" lengthAdjust="spacingAndGlyphs" style="fill:#fff">-14.0</text><text transform="translate(190,387) rotate(-5)" y="5" textLength="35.5" lengthAdjust="spacingAndGlyphs" style="fill:#fff">-22.0</text><text transform="translate(214,381) rotate(25)" y="5" textLength="35.5" lengthAdjust="spacingAndGlyphs" style="fill:#fff">-18.0</text><text transform="translate(149,452) rotate(20)" y="5" textLength="27.5" lengthAdjust="spacingAndGlyphs" style="fill:#fff">-6.0</text><text transform="translate(131,476) rotate(62)" y="5" textLength="35.5" lengthAdjust="spacingAndGlyphs" style="fill:#fff">-14.0</text><text transform="translate(138,492) rotate(62)" y="5" textLength="35.5" lengthAdjust="spacingAndGlyphs" style="fill:#fff">-10.0</text><text transform="translate(127,364) rotate(80)" y="5" textLength="17" lengthAdjust="spacingAndGlyphs" style="fill:#fff">26.</text><text transform="translate(266,421) rotate(0)" y="5" textLength="35.5" lengthAdjust="spacingAndGlyphs" style="fill:#fff">-14.0</text><text transform="translate(266,446) rotate(0)" y="5" textLength="35.5" lengthAdjust="spacingAndGlyphs" style="fill:#fff">-10.0</text><text transform="translate(281,440) rotate(-80)" y="5" textLength="35.5" lengthAdjust="spacingAndGlyphs" style="fill:#fff">-14.0</text><text transform="translate(299,454) rotate(-30)" y="5" textLength="35.5" lengthAdjust="spacingAndGlyphs" style="fill:#fff">-14.0</text><text transform="translate(317,386) rotate(80)" y="5" textLength="27.5" lengthAdjust="spacingAndGlyphs" style="fill:#fff">-6.0</text><text transform="translate(326,451) rotate(-20)" y="5" textLength="27.5" lengthAdjust="spacingAndGlyphs" style="fill:#fff">-2.0</text><text transform="translate(383,404) rotate(-60)" y="5" textLength="35.5" lengthAdjust="spacingAndGlyphs" style="fill:#fff">-26.0</text><text transform="translate(392,489) rotate(-5)" y="5" textLength="35.5" lengthAdjust="spacingAndGlyphs" style="fill:#fff">-10.0</text><text transform="translate(419,486) rotate(45)" y="5" textLength="27.5" lengthAdjust="spacingAndGlyphs" style="fill:#fff">-2.0</text><text transform="translate(410,480) rotate(45)" y="5" textLength="27.5" lengthAdjust="spacingAndGlyphs" style="fill:#fff">-6.0</text><text transform="translate(519,497) rotate(-15)" y="5" textLength="35.5" lengthAdjust="spacingAndGlyphs" style="fill:#fff">-18.0</text><text transform="translate(601,485.5) rotate(25)" y="5" textLength="35.5" lengthAdjust="spacingAndGlyphs" style="fill:#fff">-22.0</text><text transform="translate(743,399) rotate(20)" y="5" textLength="35.5" lengthAdjust="spacingAndGlyphs" style="fill:#fff">-26.0</text><text transform="translate(714.6,472) rotate(65)" y="5" textLength="35.5" lengthAdjust="spacingAndGlyphs" style="fill:#fff">-30.0</text><text transform="translate(775.6,475) rotate(60)" y="5" textLength="35.5" lengthAdjust="spacingAndGlyphs" style="fill:#fff">-26.0</text><text transform="translate(826.5,399) rotate(72)" y="5" textLength="35.5" lengthAdjust="spacingAndGlyphs" style="fill:#fff">-22.0</text><text transform="translate(843,456.7) rotate(40)" y="5" textLength="35.5" lengthAdjust="spacingAndGlyphs" style="fill:#fff">-10.0</text><text transform="translate(919,388) rotate(-50)" y="5" textLength="35.5" lengthAdjust="spacingAndGlyphs" style="fill:#fff">-18.0</text><text transform="translate(883,425.6) rotate(-50)" y="5" textLength="27.5" lengthAdjust="spacingAndGlyphs" style="fill:#fff">-6.0</text><text transform="translate(911,473) rotate(5)" y="5" textLength="35.5" lengthAdjust="spacingAndGlyphs" style="fill:#fff">-22.0</text><text transform="translate(898,468) rotate(-35)" y="5" textLength="35.5" lengthAdjust="spacingAndGlyphs" style="fill:#fff">-18.0</text><text transform="translate(933,437) rotate(60)" y="5" textLength="27.5" lengthAdjust="spacingAndGlyphs" style="fill:#fff">-2.0</text></g>
</g>
</g>
<g class="t">
<rect x="100.5" y="66.5" width="840.0" height="438.0" fill="none" stroke="#000" stroke-width="1.1"/>
<line x1="89.3" x2="100.5" y1="66.5" y2="66.5" stroke="#000" stroke-width="1.1"/>
<text x="54.3" y="74.2" font-size="20" text-anchor="start" textLength="29.4" lengthAdjust="spacingAndGlyphs" >3.0</text>
<line x1="89.3" x2="100.5" y1="141.5" y2="141.5" stroke="#000" stroke-width="1.1"/>
<text x="54.3" y="149.2" font-size="20" text-anchor="start" textLength="29.4" lengthAdjust="spacingAndGlyphs" >2.5</text>
<line x1="89.3" x2="100.5" y1="217.5" y2="217.5" stroke="#000" stroke-width="1.1"/>
<text x="54.3" y="225.2" font-size="20" text-anchor="start" textLength="29.4" lengthAdjust="spacingAndGlyphs" >2.0</text>
<line x1="89.3" x2="100.5" y1="293.5" y2="293.5" stroke="#000" stroke-width="1.1"/>
<text x="54.3" y="301.2" font-size="20" text-anchor="start" textLength="29.4" lengthAdjust="spacingAndGlyphs" >1.5</text>
<line x1="89.3" x2="100.5" y1="368.5" y2="368.5" stroke="#000" stroke-width="1.1"/>
<text x="54.3" y="376.2" font-size="20" text-anchor="start" textLength="29.4" lengthAdjust="spacingAndGlyphs" >1.0</text>
<line x1="89.3" x2="100.5" y1="444.5" y2="444.5" stroke="#000" stroke-width="1.1"/>
<text x="54.3" y="452.2" font-size="20" text-anchor="start" textLength="29.4" lengthAdjust="spacingAndGlyphs" >0.5</text>
<line x1="89.3" x2="100.5" y1="504.5" y2="504.5" stroke="#000" stroke-width="1.1"/>
<text x="54.3" y="512.2" font-size="20" text-anchor="start" textLength="29.4" lengthAdjust="spacingAndGlyphs" >0.1</text>
<line x1="100.5" x2="100.5" y1="504.5" y2="511.5" stroke="#000" stroke-width="1.1"/>
<text x="99.7" y="531" font-size="20" text-anchor="middle" textLength="24" lengthAdjust="spacingAndGlyphs" >20</text>
<line x1="171.0" x2="171.0" y1="504.5" y2="511.5" stroke="#000" stroke-width="1.1"/>
<text x="170.2" y="531" font-size="20" text-anchor="middle" textLength="24" lengthAdjust="spacingAndGlyphs" >22</text>
<line x1="241.5" x2="241.5" y1="504.5" y2="516" stroke="#000" stroke-width="1.1"/>
<text x="240.2" y="537" font-size="20" text-anchor="middle" textLength="62.5" lengthAdjust="spacingAndGlyphs" >Jan-28</text>
<line x1="312.0" x2="312.0" y1="504.5" y2="511.5" stroke="#000" stroke-width="1.1"/>
<text x="311.2" y="531" font-size="20" text-anchor="middle" textLength="24" lengthAdjust="spacingAndGlyphs" >02</text>
<line x1="382.5" x2="382.5" y1="504.5" y2="511.5" stroke="#000" stroke-width="1.1"/>
<text x="381.7" y="531" font-size="20" text-anchor="middle" textLength="24" lengthAdjust="spacingAndGlyphs" >04</text>
<line x1="453.0" x2="453.0" y1="504.5" y2="511.5" stroke="#000" stroke-width="1.1"/>
<text x="452.2" y="531" font-size="20" text-anchor="middle" textLength="24" lengthAdjust="spacingAndGlyphs" >06</text>
<line x1="523.5" x2="523.5" y1="504.5" y2="511.5" stroke="#000" stroke-width="1.1"/>
<text x="522.7" y="531" font-size="20" text-anchor="middle" textLength="24" lengthAdjust="spacingAndGlyphs" >08</text>
<line x1="594.0" x2="594.0" y1="504.5" y2="511.5" stroke="#000" stroke-width="1.1"/>
<text x="593.2" y="531" font-size="20" text-anchor="middle" textLength="24" lengthAdjust="spacingAndGlyphs" >10</text>
<line x1="664.5" x2="664.5" y1="504.5" y2="511.5" stroke="#000" stroke-width="1.1"/>
<text x="663.7" y="531" font-size="20" text-anchor="middle" textLength="24" lengthAdjust="spacingAndGlyphs" >12</text>
<line x1="735.0" x2="735.0" y1="504.5" y2="511.5" stroke="#000" stroke-width="1.1"/>
<text x="734.2" y="531" font-size="20" text-anchor="middle" textLength="24" lengthAdjust="spacingAndGlyphs" >14</text>
<line x1="805.5" x2="805.5" y1="504.5" y2="511.5" stroke="#000" stroke-width="1.1"/>
<text x="804.7" y="531" font-size="20" text-anchor="middle" textLength="24" lengthAdjust="spacingAndGlyphs" >16</text>
<line x1="876.0" x2="876.0" y1="504.5" y2="511.5" stroke="#000" stroke-width="1.1"/>
<text x="875.2" y="531" font-size="20" text-anchor="middle" textLength="24" lengthAdjust="spacingAndGlyphs" >18</text>
<text x="520.5" y="564.5" font-size="22.6" text-anchor="middle" textLength="126" lengthAdjust="spacingAndGlyphs" >Time (UTC)</text>
<g transform="translate(26.6,286.3) rotate(-90)"><text x="0" y="0" font-size="22.6" text-anchor="middle" textLength="133.5" lengthAdjust="spacingAndGlyphs" >Height (km)</text></g>
<text x="520.3" y="32.2" font-size="28.6" text-anchor="middle" textLength="725.5" lengthAdjust="spacingAndGlyphs" >Owego, NY (OWEG) Lidar Carrier-to-Noise Ratio</text>
<text x="519.5" y="57.6" font-size="24.4" text-anchor="middle" textLength="447" lengthAdjust="spacingAndGlyphs" >20 UTC 01/27/20 - 20 UTC 01/28/20</text>
<rect x="992.5" y="86.60" width="21.0" height="12.34" fill="#fce8fc"/>
<rect x="992.5" y="98.54" width="21.0" height="12.34" fill="#f8cdf8"/>
<rect x="992.5" y="110.49" width="21.0" height="12.34" fill="#f2a8f2"/>
<rect x="992.5" y="122.43" width="21.0" height="12.34" fill="#ec82ec"/>
<rect x="992.5" y="134.37" width="21.0" height="12.34" fill="#c85af0"/>
<rect x="992.5" y="146.31" width="21.0" height="12.34" fill="#a030ff"/>
<rect x="992.5" y="158.26" width="21.0" height="12.34" fill="#d818f0"/>
<rect x="992.5" y="170.20" width="21.0" height="12.34" fill="#ff00e0"/>
<rect x="992.5" y="182.14" width="21.0" height="12.34" fill="#ff0060"/>
<rect x="992.5" y="194.09" width="21.0" height="12.34" fill="#ff1400"/>
<rect x="992.5" y="206.03" width="21.0" height="12.34" fill="#ff3800"/>
<rect x="992.5" y="217.97" width="21.0" height="12.34" fill="#ff6a08"/>
<rect x="992.5" y="229.91" width="21.0" height="12.34" fill="#ff9c10"/>
<rect x="992.5" y="241.86" width="21.0" height="12.34" fill="#ffb810"/>
<rect x="992.5" y="253.80" width="21.0" height="12.34" fill="#ffcc00"/>
<rect x="992.5" y="265.74" width="21.0" height="12.34" fill="#ffe400"/>
<rect x="992.5" y="277.69" width="21.0" height="12.34" fill="#f8f808"/>
<rect x="992.5" y="289.63" width="21.0" height="12.34" fill="#dcf820"/>
<rect x="992.5" y="301.57" width="21.0" height="12.34" fill="#b4f838"/>
<rect x="992.5" y="313.51" width="21.0" height="12.34" fill="#98f818"/>
<rect x="992.5" y="325.46" width="21.0" height="12.34" fill="#7cec08"/>
<rect x="992.5" y="337.40" width="21.0" height="12.34" fill="#68d808"/>
<rect x="992.5" y="349.34" width="21.0" height="12.34" fill="#50cc08"/>
<rect x="992.5" y="361.29" width="21.0" height="12.34" fill="#20e808"/>
<rect x="992.5" y="373.23" width="21.0" height="12.34" fill="#08e838"/>
<rect x="992.5" y="385.17" width="21.0" height="12.34" fill="#00e880"/>
<rect x="992.5" y="397.11" width="21.0" height="12.34" fill="#00f0c0"/>
<rect x="992.5" y="409.06" width="21.0" height="12.34" fill="#00f8f0"/>
<rect x="992.5" y="421.00" width="21.0" height="12.34" fill="#00d8f8"/>
<rect x="992.5" y="432.94" width="21.0" height="12.34" fill="#00b0f8"/>
<rect x="992.5" y="444.89" width="21.0" height="12.34" fill="#0058f8"/>
<rect x="992.5" y="456.83" width="21.0" height="12.34" fill="#0010d0"/>
<rect x="992.5" y="468.77" width="21.0" height="12.34" fill="#004060"/>
<rect x="992.5" y="480.71" width="21.0" height="12.34" fill="#004820"/>
<rect x="992.5" y="492.66" width="21.0" height="12.34" fill="#001868"/>
<path d="M992.5 86.89999999999999 L1003.0 65.9 L1013.5 86.89999999999999 Z" fill="#fdf5fd"/>
<path d="M992.5 504.6 L992.5 86.6 L1003.0 65.9 L1013.5 86.6 L1013.5 504.6 Z" fill="none" stroke="#000" stroke-width="1.1" stroke-linejoin="miter"/>
<line x1="1013.5" x2="1018.6" y1="86.6" y2="86.6" stroke="#000" stroke-width="1.1"/>
<text x="1023.6" y="94.3" font-size="20" text-anchor="start" textLength="12.2" lengthAdjust="spacingAndGlyphs" >5</text>
<line x1="1013.5" x2="1018.6" y1="146.3" y2="146.3" stroke="#000" stroke-width="1.1"/>
<text x="1023.6" y="154.0" font-size="20" text-anchor="start" textLength="12.2" lengthAdjust="spacingAndGlyphs" >0</text>
<line x1="1013.5" x2="1018.6" y1="206.0" y2="206.0" stroke="#000" stroke-width="1.1"/>
<text x="1023.6" y="213.7" font-size="20" text-anchor="start" textLength="19.6" lengthAdjust="spacingAndGlyphs" >-5</text>
<line x1="1013.5" x2="1018.6" y1="265.7" y2="265.7" stroke="#000" stroke-width="1.1"/>
<text x="1023.6" y="273.4" font-size="20" text-anchor="start" textLength="31.5" lengthAdjust="spacingAndGlyphs" >-10</text>
<line x1="1013.5" x2="1018.6" y1="325.5" y2="325.5" stroke="#000" stroke-width="1.1"/>
<text x="1023.6" y="333.2" font-size="20" text-anchor="start" textLength="31.5" lengthAdjust="spacingAndGlyphs" >-15</text>
<line x1="1013.5" x2="1018.6" y1="385.2" y2="385.2" stroke="#000" stroke-width="1.1"/>
<text x="1023.6" y="392.9" font-size="20" text-anchor="start" textLength="31.5" lengthAdjust="spacingAndGlyphs" >-20</text>
<line x1="1013.5" x2="1018.6" y1="444.9" y2="444.9" stroke="#000" stroke-width="1.1"/>
<text x="1023.6" y="452.6" font-size="20" text-anchor="start" textLength="31.5" lengthAdjust="spacingAndGlyphs" >-25</text>
<line x1="1013.5" x2="1018.6" y1="504.6" y2="504.6" stroke="#000" stroke-width="1.1"/>
<text x="1023.6" y="512.3" font-size="20" text-anchor="start" textLength="31.5" lengthAdjust="spacingAndGlyphs" >-30</text>
<g transform="translate(1076.8,287) rotate(-90)"><text x="0" y="0" font-size="22.6" text-anchor="middle" textLength="100" lengthAdjust="spacingAndGlyphs" >CNR (dB)</text></g>
</g>
<path d="M979.9 547.9 L985.8 543.8 L984.6 538.6 L988.7 537.4 L995 538 L1000.9 538 L1005 535 L1005 531.6 L1006.2 528.7 L1009.7 525.2 L1013.8 521.7 L1016.7 521 L1026.6 521 L1026.6 527.5 L1027.2 533.3 L1027.2 545 L1026.6 556.7 L1026 560.2 L1031 559.8 L1037.7 559.6 L1033 562 L1021.3 565.6 L1022.5 563.1 L1024.5 561.3 L1021.3 559 L1016.7 557.3 L1014.3 554.3 L1013.2 550.3 L993.3 549.7 L985.2 550.3 Z" fill="#eea70b"/>
<text x="1003.6" y="548.4" font-size="13.6" font-weight="bold" textLength="20.8" lengthAdjust="spacingAndGlyphs" style="fill:#fff;stroke:#fff;stroke-width:0.45">NYS</text>
<text x="1028.8" y="548.4" font-size="13.6" font-weight="bold" textLength="48" lengthAdjust="spacingAndGlyphs" style="fill:#57307a;stroke:#57307a;stroke-width:0.55">Mesonet</text>
<text x="1028.8" y="556" font-size="5.6" font-weight="bold" textLength="48" lengthAdjust="spacingAndGlyphs" style="fill:#6b4a8c">UNIVERSITY AT ALBANY</text>
</svg></body></html>
